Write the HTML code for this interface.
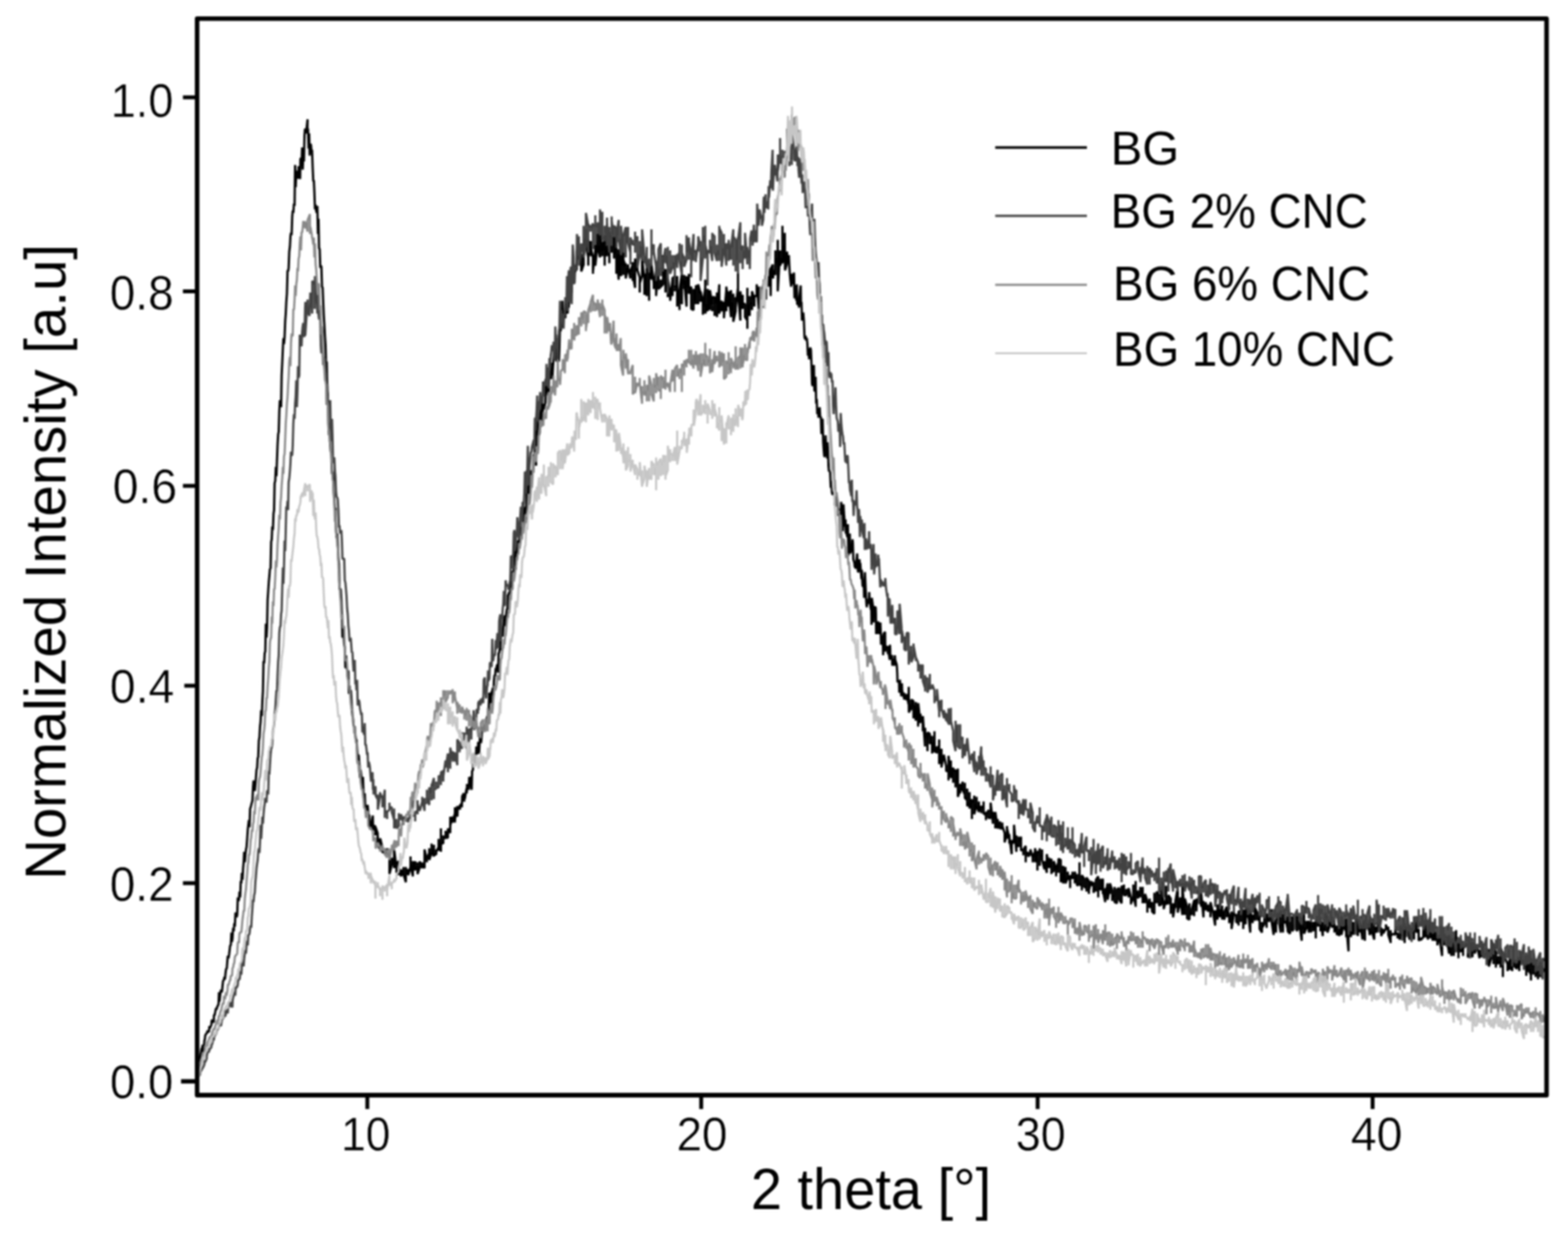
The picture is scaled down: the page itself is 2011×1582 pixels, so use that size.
<!DOCTYPE html>
<html lang="en"><head><meta charset="utf-8"><title>XRD – Normalized Intensity vs 2 theta</title>
<style>html,body{margin:0;padding:0;background:#fff}body{width:2011px;height:1582px;overflow:hidden}svg{display:block}text{font-family:"Liberation Sans",Arial,Helvetica,sans-serif}.c{fill:none;stroke-linejoin:bevel;stroke-linecap:butt}svg{filter:blur(0.8px)}</style></head><body>
<svg width="2011" height="1582" viewBox="0 0 2011 1582">
<rect width="2011" height="1582" fill="#fff"/>
<clipPath id="pa"><rect x="252.8" y="23.8" width="1730.7" height="1380.2"/></clipPath>
<g clip-path="url(#pa)">
<path class="c" stroke="#000000" stroke-width="2.9" d="M253.7 1368 L254.2 1357.5 L255.7 1360.5 L256.3 1356 L257 1353 L257.7 1350 L258.6 1344 L259.3 1344 L259.9 1339.5 L260.5 1348.5 L261.8 1338 L262.3 1333.5 L262.8 1332 L263.2 1327.5 L264.9 1324.5 L265.4 1324.5 L265.7 1324.5 L266 1321.5 L268.1 1323 L268.4 1317 L268.7 1315.5 L269 1318.5 L271.1 1314 L271.4 1309.5 L271.7 1308 L272 1308 L274.1 1311 L274.4 1302 L274.8 1300.5 L275.2 1302 L276.9 1293 L277.4 1293 L277.8 1294.5 L278.3 1291.5 L279.8 1288.5 L280.3 1287 L280.9 1272 L281.5 1284 L282.6 1273.5 L283.3 1269 L284 1272 L284.8 1270.5 L285.5 1263 L286.2 1257 L287 1257 L287.8 1252.5 L288.5 1255.5 L289.2 1248 L290 1242 L290.8 1242 L291.5 1233 L292.2 1225.5 L293 1228.5 L293.8 1224 L294.5 1218 L295.2 1212 L296 1212 L296.8 1195.5 L297.5 1207.5 L298.2 1203 L299 1189.5 L299.8 1194 L300.5 1183.5 L301.2 1188 L302 1170 L302.8 1171.5 L303.5 1176 L304.2 1173 L305 1150.5 L305.8 1155 L306.5 1153.5 L307.2 1143 L308 1150.5 L308.8 1129.5 L309.5 1132.5 L310.2 1119 L311 1128 L311.8 1113 L312.5 1105.5 L313.2 1092 L314 1105.5 L314.8 1095 L315.5 1089 L316.2 1086 L317 1075.5 L317.8 1063.5 L318.5 1057.5 L319.2 1051.5 L320 1060.5 L320.8 1036.5 L321.5 1035 L322.2 1032 L323 1029 L323.8 1026 L324.5 1009.5 L325.2 1000.5 L326 1009.5 L326.8 1014 L327.5 1006.5 L328.2 997.5 L329 987 L329.8 984 L330.5 972 L331.2 970.5 L332 949.5 L332.8 945 L333.5 931.5 L334.2 925.5 L335 910.5 L335.8 918 L336.5 898.5 L337.2 886.5 L338 847.5 L338.8 850.5 L339.5 837 L340.2 835.5 L341 799.5 L341.8 817.5 L342.5 804 L343.2 769.5 L344 757.5 L344.8 745.5 L345.5 738 L346.2 729 L347 729 L347.8 694.5 L348.5 691.5 L349.2 675 L350 679.5 L350.8 658.5 L351.5 654 L352.2 619.5 L353 616.5 L353.8 598.5 L354.5 610.5 L355.2 591 L356 570 L356.8 556.5 L357.5 553.5 L358.2 528 L359 513 L359.8 514.5 L360.5 522 L361.2 481.5 L362 465 L362.8 447 L363.5 433.5 L364.2 441 L365 432 L365.8 411 L366.5 402 L367.2 387 L368 376.5 L368.8 346.5 L369.5 348 L370.2 343.5 L371 322.5 L371.8 316.5 L372.5 303 L373.2 298.5 L374 301.5 L374.8 277.5 L375.5 270 L376.2 273 L377 261 L377.8 264 L378.5 211.5 L379.2 240 L380 219 L380.8 222 L381.7 228 L382.4 228 L382.7 226.5 L383 213 L384.9 229.5 L385.3 204 L386 202.5 L386.8 210 L387.5 189 L388.2 217.5 L389 198 L389.8 207 L390.5 174 L391.2 165 L392 166.5 L392.5 171 L394.5 153 L394.3 165 L395 165 L395.8 190.5 L396.5 171 L397.2 199.5 L398 184.5 L398.8 186 L399.5 193.5 L400.2 192 L401 214.5 L401.8 232.5 L402.5 231 L403.2 246 L404 268.5 L404.8 262.5 L405.5 270 L406.2 273 L407 264 L407.8 300 L408.5 280.5 L409.2 318 L410 319.5 L410.8 343.5 L411.5 340.5 L412.2 342 L413 367.5 L413.8 369 L414.5 387 L415.2 403.5 L416 417 L416.8 432 L417.5 442.5 L418.2 466.5 L419 463.5 L419.8 501 L420.5 505.5 L421.2 543 L422 558 L422.8 537 L423.5 570 L424.2 579 L425 580.5 L425.8 607.5 L426.5 607.5 L427.2 604.5 L428 630 L428.8 640.5 L429.5 654 L430.2 651 L431 679.5 L431.8 690 L432.5 684 L433.2 699 L434 715.5 L434.8 723 L435.5 756 L436.2 754.5 L437 756 L437.8 769.5 L438.5 787.5 L439.2 817.5 L440 805.5 L440.8 816 L441.5 826.5 L442.2 829.5 L443 856.5 L443.8 840 L444.5 856.5 L445.2 858 L446 868.5 L446.8 859.5 L447.5 889.5 L448.2 879 L449 886.5 L449.8 885 L450.5 892.5 L451.2 907.5 L452 916.5 L452.8 921 L453.5 930 L454.2 931.5 L455 931.5 L455.8 943.5 L456.5 948 L457.2 948 L458 960 L458.8 970.5 L459.5 967.5 L460.2 969 L461 982.5 L461.8 997.5 L462.5 987 L463.2 993 L464 999 L464.8 1012.5 L465.5 996 L466.2 1017 L467 1026 L467.8 1017 L468.5 1036.5 L469.2 1035 L470 1032 L470.8 1039.5 L471.5 1032 L472.3 1041 L472.9 1059 L473.4 1044 L474.9 1063.5 L475.4 1054.5 L475.8 1063.5 L476.1 1059 L478.1 1045.5 L478.4 1059 L478.6 1065 L478.8 1059 L481.3 1059 L481.5 1071 L481.6 1066.5 L481.7 1060.5 L484.3 1068 L484.5 1080 L484.6 1072.5 L484.8 1083 L487.3 1089 L487.4 1081.5 L487.6 1075.5 L487.8 1075.5 L490.3 1086 L490.4 1092 L490.6 1090.5 L490.7 1093.5 L493.3 1089 L493.5 1095 L493.5 1092 L493.5 1093.5 L496.5 1089 L496.5 1087.5 L496.5 1096.5 L496.5 1093.5 L499.5 1095 L499.5 1105.5 L499.5 1101 L499.5 1120.5 L502.5 1108.5 L502.5 1099.5 L502.5 1110 L502.5 1107 L505.5 1101 L505.5 1113 L505.5 1102.5 L505.5 1089 L508.5 1113 L508.5 1105.5 L508.5 1119 L508.5 1107 L511.5 1104 L511.5 1122 L511.5 1105.5 L511.5 1114.5 L514.5 1123.5 L514.5 1116 L514.5 1114.5 L514.5 1116 L517.5 1122 L517.5 1111.5 L517.5 1120.5 L520.5 1131 L520.5 1114.5 L520.5 1111.5 L520.5 1120.5 L523.5 1114.5 L523.5 1117.5 L523.5 1116 L523.5 1122 L526.5 1111.5 L526.5 1114.5 L526.5 1098 L526.5 1108.5 L529.5 1123.5 L529.5 1108.5 L529.5 1104 L532.5 1116 L532.5 1113 L532.5 1104 L532.5 1114.5 L535.5 1111.5 L535.5 1114.5 L535.5 1105.5 L535.5 1120.5 L538.5 1111.5 L538.5 1108.5 L538.5 1104 L538.5 1105.5 L541.5 1113 L541.5 1105.5 L541.5 1113 L541.5 1108.5 L544.5 1113 L544.5 1108.5 L544.5 1102.5 L544.5 1089 L547.5 1102.5 L547.5 1105.5 L547.5 1099.5 L547.5 1101 L550.5 1093.5 L550.5 1092 L550.5 1087.5 L550.5 1102.5 L553.5 1093.5 L553.5 1087.5 L553.5 1081.5 L553.5 1089 L556.5 1098 L556.5 1090.5 L556.5 1083 L556.5 1096.5 L559.5 1095 L559.5 1092 L559.5 1089 L559.5 1092 L562.5 1086 L562.5 1087.5 L562.5 1075.5 L562.5 1090.5 L565.5 1080 L565.5 1092 L565.5 1062 L565.5 1080 L568.5 1081.5 L568.5 1071 L568.5 1075.5 L571.5 1074 L571.5 1065 L571.5 1066.5 L571.6 1074 L574.4 1074 L574.5 1065 L574.5 1063.5 L574.6 1062 L577.4 1068 L577.5 1051.5 L577.5 1047 L577.6 1057.5 L580.5 1047 L580.5 1050 L580.5 1053 L580.5 1054.5 L583.5 1042.5 L583.5 1054.5 L583.5 1035 L583.6 1050 L586.4 1033.5 L586.5 1035 L586.6 1047 L586.9 1038 L589.1 1033.5 L589.4 1033.5 L589.8 1038 L590.3 1032 L591.8 1030.5 L592.3 1035 L592.8 1020 L593.2 1020 L595 1017 L595.4 1027.5 L595.7 1024.5 L596 1024.5 L598.1 1012.5 L598.4 1011 L598.7 1017 L599 1005 L601 1012.5 L601.4 1009.5 L601.8 996 L602.3 999 L603.8 996 L604.3 1008 L604.9 1012.5 L605.5 988.5 L606.6 987 L607.3 966 L608 982.5 L608.6 978 L609.6 967.5 L610.3 979.5 L610.9 957 L611.6 966 L612.6 966 L613.3 951 L613.9 966 L614.5 964.5 L615.7 942 L616.3 939 L616.9 952.5 L617.7 945 L618.5 931.5 L619.2 936 L620 934.5 L620.8 931.5 L621.5 936 L622.2 928.5 L623 936 L623.8 928.5 L624.5 919.5 L625.2 918 L626 916.5 L626.8 907.5 L627.5 888 L628.2 901.5 L629 892.5 L629.8 903 L630.5 886.5 L631.2 886.5 L632 882 L632.8 891 L633.5 873 L634.2 865.5 L635 867 L635.8 856.5 L636.5 858 L637.2 853.5 L638 852 L638.8 862.5 L639.5 837 L640.2 837 L641 831 L641.8 834 L642.5 813 L643.2 813 L644 814.5 L644.8 816 L645.5 805.5 L646.2 798 L647 789 L647.8 798 L648.5 802.5 L649.2 787.5 L650 781.5 L650.8 780 L651.5 762 L652.2 763.5 L653 759 L653.8 760.5 L654.5 753 L655.2 736.5 L656 754.5 L656.8 756 L657.5 732 L658.2 735 L659 729 L659.8 730.5 L660.5 703.5 L661.2 730.5 L662 705 L662.8 718.5 L663.5 703.5 L664.2 694.5 L665 693 L665.8 700.5 L666.5 679.5 L667.2 681 L668 676.5 L668.8 660 L669.5 687 L670.2 676.5 L671 666 L671.8 675 L672.5 649.5 L673.2 655.5 L674 670.5 L674.8 658.5 L675.5 621 L676.2 604.5 L677 625.5 L677.8 643.5 L678.5 622.5 L679.2 619.5 L680 624 L680.8 603 L681.5 610.5 L682.2 612 L683 603 L683.8 597 L684.5 582 L685.2 589.5 L686 574.5 L686.8 588 L687.5 597 L688.2 556.5 L689 535.5 L689.8 550.5 L690.5 555 L691.2 558 L692 555 L692.8 529.5 L693.5 525 L694.2 544.5 L695 514.5 L695.8 535.5 L696.5 517.5 L697.2 525 L698 520.5 L698.8 519 L699.5 516 L700.3 492 L700.9 504 L701.6 498 L702.6 499.5 L703.3 507 L704 486 L704.8 478.5 L705.5 475.5 L706.2 477 L707 486 L707.8 465 L708.5 484.5 L709.2 471 L710 460.5 L710.8 445.5 L711.5 460.5 L712.2 462 L713 429 L713.8 462 L714.5 463.5 L715.2 445.5 L716 444 L716.8 463.5 L717.5 445.5 L718.2 417 L719 424.5 L719.8 418.5 L720.5 415.5 L721.2 385.5 L722 420 L722.8 400.5 L723.5 406.5 L724.2 399 L725 408 L725.8 391.5 L726.5 382.5 L727.2 394.5 L728 402 L728.8 378 L729.5 394.5 L730.2 378 L731 366 L731.8 387 L732.5 355.5 L733.2 375 L734 352.5 L734.6 361.5 L735.7 339 L736.3 340.5 L736.8 363 L737.2 349.5 L739 345 L739.4 337.5 L739.7 346.5 L740 321 L742.2 322.5 L742.4 333 L742.6 324 L742.7 324 L745.4 330 L745.5 328.5 L745.5 325.5 L745.5 348 L748.5 339 L748.5 340.5 L748.5 324 L748.5 316.5 L751.5 304.5 L751.5 316.5 L751.5 294 L751.5 313.5 L754.5 330 L754.5 340.5 L754.5 331.5 L754.5 307.5 L757.5 325.5 L757.5 309 L757.5 328.5 L757.5 316.5 L760.5 330 L760.5 351 L760.5 330 L760.5 348 L763.5 321 L763.5 313.5 L763.5 336 L763.5 340.5 L766.5 310.5 L766.5 319.5 L766.5 300 L766.5 315 L769.5 330 L769.5 316.5 L769.5 310.5 L769.5 300 L772.5 322.5 L772.5 328.5 L772.5 325.5 L772.5 321 L775.5 301.5 L775.5 340.5 L775.5 318 L775.5 316.5 L778.5 328.5 L778.5 291 L778.5 318 L781.5 324 L781.5 337.5 L781.5 327 L781.5 297 L784.5 316.5 L784.5 324 L784.5 306 L787.5 303 L787.5 331.5 L787.5 330 L787.5 325.5 L790.5 304.5 L790.5 351 L790.5 292.5 L790.5 325.5 L793.5 358.5 L793.5 330 L793.5 337.5 L793.5 319.5 L796.5 354 L796.5 321 L796.5 342 L796.5 340.5 L799.5 327 L799.5 352.5 L799.5 324 L799.5 333 L802.5 342 L802.5 337.5 L802.5 349.5 L802.5 357 L805.5 342 L805.5 339 L805.5 342 L808.5 357 L808.5 345 L808.5 354 L808.5 348 L811.5 339 L811.5 360 L811.5 336 L811.5 351 L814.5 369 L814.5 337.5 L814.5 351 L814.5 331.5 L817.5 346.5 L817.5 333 L817.5 348 L817.5 346.5 L820.5 355.5 L820.5 375 L820.5 358.5 L820.5 363 L823.5 354 L823.5 352.5 L823.5 345 L823.5 333 L826.5 357 L826.5 378 L826.5 363 L826.5 351 L829.5 379.5 L829.5 352.5 L829.5 351 L829.5 343.5 L832.5 346.5 L832.5 357 L832.5 385.5 L832.5 357 L835.5 348 L835.5 352.5 L835.5 358.5 L835.5 339 L838.5 363 L838.5 370.5 L838.5 366 L838.5 370.5 L841.5 346.5 L841.5 340.5 L841.5 379.5 L841.5 378 L844.5 343.5 L844.5 366 L844.5 364.5 L844.5 370.5 L847.5 367.5 L847.5 358.5 L847.5 367.5 L850.5 364.5 L850.5 342 L850.5 327 L850.5 355.5 L853.5 345 L853.5 369 L853.5 375 L853.5 369 L856.5 361.5 L856.5 367.5 L856.5 381 L856.5 357 L859.5 378 L859.5 376.5 L859.5 370.5 L859.5 385.5 L862.5 358.5 L862.5 379.5 L862.5 355.5 L862.5 357 L865.5 354 L865.5 373.5 L865.5 355.5 L865.5 369 L868.5 354 L868.5 382.5 L868.5 393 L868.5 372 L871.5 390 L871.5 376.5 L871.5 397.5 L871.5 372 L874.5 351 L874.5 390 L874.5 370.5 L874.5 358.5 L877.5 364.5 L877.5 352.5 L877.5 370.5 L877.5 360 L880.5 393 L880.5 382.5 L880.5 354 L880.5 355.5 L883.5 369 L883.5 351 L883.5 375 L883.5 376.5 L886.5 367.5 L886.5 370.5 L886.5 384 L886.5 396 L889.5 397.5 L889.5 379.5 L889.5 390 L889.5 370.5 L892.5 385.5 L892.5 369 L892.5 390 L892.5 366 L895.5 369 L895.5 382.5 L895.5 390 L895.5 364.5 L898.5 376.5 L898.5 385.5 L898.5 387 L898.5 373.5 L901.5 387 L901.5 382.5 L901.5 403.5 L901.5 393 L904.5 369 L904.5 358.5 L904.5 388.5 L904.5 402 L907.5 390 L907.5 399 L907.5 382.5 L907.5 370.5 L910.5 397.5 L910.5 390 L910.5 397.5 L910.5 372 L913.5 391.5 L913.5 381 L913.5 399 L913.5 381 L916.5 381 L916.5 405 L916.5 388.5 L919.5 379.5 L919.5 375 L919.5 406.5 L922.5 364.5 L922.5 376.5 L922.5 396 L922.5 402 L925.5 385.5 L925.5 397.5 L925.5 399 L928.5 387 L928.5 408 L928.5 390 L928.5 406.5 L931.5 372 L931.5 399 L931.5 370.5 L931.5 367.5 L934.5 393 L934.5 376.5 L934.5 391.5 L934.5 373.5 L937.5 406.5 L937.5 387 L937.5 372 L937.5 388.5 L940.5 397.5 L940.5 376.5 L940.5 393 L940.5 412.5 L943.5 399 L943.5 387 L943.5 381 L943.5 394.5 L946.5 369 L946.5 349.5 L946.5 379.5 L946.5 375 L949.5 411 L949.5 390 L949.5 376.5 L949.5 373.5 L952.5 396 L952.5 378 L952.5 382.5 L952.5 388.5 L955.5 390 L955.5 391.5 L955.5 406.5 L958.5 411 L958.5 369 L958.5 421.5 L958.5 390 L961.5 405 L961.5 379.5 L961.5 391.5 L961.5 390 L964.5 388.5 L964.5 397.5 L964.5 394.5 L964.5 373.5 L967.5 384 L967.5 393 L967.5 379.5 L970.5 379.5 L970.5 367.5 L970.5 364.5 L973.5 400.5 L973.5 373.5 L973.5 379.5 L973.5 367.5 L976.5 393 L976.5 397.5 L976.5 372 L976.5 381 L979.5 363 L979.5 394.5 L979.5 382.5 L979.5 358.5 L982.5 384 L982.5 372 L982.6 370.5 L982.7 369 L985.2 354 L985.4 354 L985.7 367.5 L986 357 L988.1 343.5 L988.4 379.5 L988.7 349.5 L989 343.5 L991.1 339 L991.4 355.5 L991.6 357 L991.7 346.5 L994.4 352.5 L994.5 321 L994.5 334.5 L994.6 331.5 L997.4 336 L997.5 342 L997.5 307.5 L997.5 373.5 L1000.5 321 L1000.5 336 L1000.5 340.5 L1003.5 331.5 L1003.5 289.5 L1003.5 313.5 L1003.5 337.5 L1006.5 315 L1006.5 298.5 L1006.8 346.5 L1009.1 339 L1009.4 322.5 L1009.8 334.5 L1010.4 337.5 L1011.7 327 L1012.3 340.5 L1012.9 349.5 L1013.5 357 L1014.7 367.5 L1015.3 354 L1015.9 351 L1016.6 364.5 L1017.6 354 L1018.3 349.5 L1019 382.5 L1019.6 366 L1020.6 375 L1021.3 385.5 L1021.9 364.5 L1022.4 390 L1023.8 390 L1024.3 385.5 L1024.8 394.5 L1025.2 381 L1026.9 366 L1027.3 391.5 L1027.9 387 L1028.6 411 L1029.5 406.5 L1030.2 400.5 L1031 411 L1031.8 432 L1032.5 435 L1033.2 430.5 L1034 436.5 L1034.8 433.5 L1035.5 441 L1036.2 456 L1037 451.5 L1037.8 460.5 L1038.5 448.5 L1039.2 445.5 L1040 448.5 L1040.8 468 L1041.5 492 L1042.2 495 L1043 471 L1043.8 468 L1044.5 501 L1045.2 501 L1046 483 L1046.8 517.5 L1047.5 511.5 L1048.2 531 L1049 523.5 L1049.8 535.5 L1050.5 532.5 L1051.2 522 L1052 535.5 L1052.8 534 L1053.5 556.5 L1054.2 538.5 L1055 537 L1055.8 567 L1056.5 577.5 L1057.2 585 L1058 585 L1058.8 558 L1059.5 571.5 L1060.2 577.5 L1061 588 L1061.8 567 L1062.5 597 L1063.2 604.5 L1064 594 L1064.8 609 L1065.5 625.5 L1066.2 616.5 L1067 631.5 L1067.8 634.5 L1068.5 630 L1069.3 633 L1070 627 L1070.6 648 L1071.7 631.5 L1072.3 631.5 L1072.9 649.5 L1073.4 636 L1074.8 651 L1075.3 661.5 L1075.8 652.5 L1076.3 655.5 L1077.9 666 L1078.3 667.5 L1078.8 643.5 L1079.3 648 L1080.9 681 L1081.3 672 L1081.8 646.5 L1082.3 657 L1083.9 675 L1084.4 666 L1084.8 684 L1085.2 682.5 L1086.9 688.5 L1087.4 672 L1087.8 694.5 L1088.2 712.5 L1089.9 684 L1090.3 709.5 L1090.8 708 L1091.3 706.5 L1092.9 700.5 L1093.3 691.5 L1093.8 696 L1094.4 717 L1095.8 721.5 L1096.3 727.5 L1096.9 726 L1097.4 729 L1098.8 715.5 L1099.3 709.5 L1099.9 727.5 L1100.4 733.5 L1101.8 732 L1102.3 717 L1102.8 730.5 L1103.3 721.5 L1104.8 742.5 L1105.3 730.5 L1105.8 742.5 L1106.3 751.5 L1107.9 751.5 L1108.3 766.5 L1108.8 742.5 L1109.3 733.5 L1110.9 769.5 L1111.3 775.5 L1111.8 778.5 L1112.2 768 L1113.9 774 L1114.4 771 L1114.8 759 L1115.2 768 L1117 781.5 L1117.4 772.5 L1117.8 801 L1118.1 766.5 L1120 780 L1120.4 798 L1120.7 783 L1121.1 778.5 L1123.1 778.5 L1123.4 787.5 L1123.7 813 L1124 802.5 L1126.1 805.5 L1126.4 796.5 L1126.7 813 L1127 807 L1129.1 798 L1129.4 805.5 L1129.7 814.5 L1130 826.5 L1132.1 814.5 L1132.4 823.5 L1132.7 840 L1133 813 L1135.1 810 L1135.4 835.5 L1135.7 831 L1135.9 828 L1138.2 832.5 L1138.4 828 L1138.7 838.5 L1138.9 832.5 L1141.2 846 L1141.4 826.5 L1141.7 832.5 L1141.9 844.5 L1144.1 840 L1144.4 853.5 L1144.7 847.5 L1145 844.5 L1147.1 853.5 L1147.4 849 L1147.7 840 L1148.1 846 L1150 852 L1150.4 856.5 L1150.8 864 L1151.1 874.5 L1153 873 L1153.4 888 L1153.8 885 L1154.1 871.5 L1156 892.5 L1156.4 889.5 L1156.7 876 L1157 885 L1159.1 894 L1159.4 888 L1159.6 897 L1159.8 892.5 L1162.3 897 L1162.4 889.5 L1162.6 897 L1162.7 891 L1165.3 903 L1165.5 880.5 L1165.6 903 L1165.7 913.5 L1168.4 907.5 L1168.5 903 L1168.6 910.5 L1168.6 897 L1171.4 898.5 L1171.5 904.5 L1171.6 909 L1171.6 921 L1174.4 904.5 L1174.5 924 L1174.6 900 L1174.7 909 L1177.4 918 L1177.5 931.5 L1177.6 915 L1177.6 901.5 L1180.4 927 L1180.5 924 L1180.6 915 L1180.6 918 L1183.4 922.5 L1183.5 931.5 L1183.6 937.5 L1183.6 918 L1186.4 957 L1186.5 934.5 L1186.5 933 L1186.6 945 L1189.4 940.5 L1189.5 963 L1189.5 952.5 L1189.6 939 L1192.4 940.5 L1192.5 940.5 L1192.5 943.5 L1192.6 954 L1195.4 943.5 L1195.5 966 L1195.5 951 L1195.6 952.5 L1198.4 963 L1198.5 937.5 L1198.5 948 L1198.6 964.5 L1201.5 960 L1201.5 966 L1201.5 957 L1204.5 963 L1204.5 952.5 L1204.5 948 L1204.5 979.5 L1207.5 960 L1207.5 963 L1207.5 984 L1207.5 982.5 L1210.5 969 L1210.5 975 L1210.5 967.5 L1213.5 982.5 L1213.5 981 L1213.5 988.5 L1216.5 988.5 L1216.5 1000.5 L1216.5 999 L1216.5 969 L1219.5 994.5 L1219.5 978 L1219.5 975 L1219.5 997.5 L1222.5 984 L1222.5 990 L1222.5 1003.5 L1222.5 988.5 L1225.5 987 L1225.5 999 L1225.5 1009.5 L1225.5 1003.5 L1228.5 985.5 L1228.5 994.5 L1228.5 1000.5 L1228.5 1021.5 L1231.5 1012.5 L1231.5 1014 L1231.5 1017 L1231.5 1005 L1234.5 1012.5 L1234.5 1014 L1234.5 1002 L1234.5 1012.5 L1237.5 1018.5 L1237.5 1003.5 L1237.5 1023 L1240.5 1026 L1240.5 1011 L1240.5 1020 L1240.5 1033.5 L1243.5 1029 L1243.5 1015.5 L1243.5 1024.5 L1243.5 1036.5 L1246.5 1024.5 L1246.5 1029 L1246.5 1050 L1246.5 1027.5 L1249.5 1027.5 L1249.5 1020 L1249.5 1023 L1249.5 1044 L1252.5 1030.5 L1252.5 1021.5 L1252.5 1024.5 L1252.5 1033.5 L1255.5 1041 L1255.5 1027.5 L1255.5 1041 L1255.5 1032 L1258.5 1039.5 L1258.5 1041 L1258.5 1042.5 L1258.5 1033.5 L1261.5 1036.5 L1261.5 1044 L1261.5 1027.5 L1261.5 1042.5 L1264.5 1045.5 L1264.5 1051.5 L1264.5 1042.5 L1264.5 1041 L1267.5 1044 L1267.5 1038 L1267.5 1042.5 L1267.5 1048.5 L1270.5 1048.5 L1270.5 1036.5 L1270.5 1044 L1270.5 1029 L1273.5 1056 L1273.5 1044 L1273.5 1051.5 L1273.5 1041 L1276.5 1050 L1276.5 1056 L1276.5 1062 L1276.5 1041 L1279.5 1062 L1279.5 1054.5 L1279.5 1050 L1279.5 1062 L1282.5 1056 L1282.5 1053 L1282.5 1062 L1285.5 1062 L1285.5 1060.5 L1285.5 1054.5 L1285.5 1059 L1288.5 1068 L1288.5 1077 L1288.5 1066.5 L1288.5 1080 L1291.5 1068 L1291.5 1059 L1291.5 1075.5 L1291.5 1062 L1294.5 1074 L1294.5 1081.5 L1294.5 1069.5 L1294.5 1072.5 L1297.5 1095 L1297.5 1077 L1297.5 1083 L1300.5 1075.5 L1300.5 1077 L1300.5 1081.5 L1300.5 1057.5 L1303.5 1092 L1303.5 1071 L1303.5 1086 L1306.5 1083 L1306.5 1072.5 L1306.5 1086 L1306.5 1074 L1309.5 1078.5 L1309.5 1072.5 L1309.5 1080 L1309.5 1090.5 L1312.5 1089 L1312.5 1090.5 L1312.5 1096.5 L1312.5 1089 L1315.5 1084.5 L1315.5 1089 L1315.5 1105.5 L1315.5 1092 L1318.5 1095 L1318.5 1092 L1318.5 1096.5 L1318.5 1098 L1321.5 1095 L1321.5 1093.5 L1321.5 1089 L1324.5 1099.5 L1324.5 1104 L1324.5 1105.5 L1324.5 1098 L1327.5 1092 L1327.5 1104 L1327.5 1105.5 L1327.5 1087.5 L1330.5 1107 L1330.5 1105.5 L1330.5 1116 L1330.5 1092 L1333.5 1092 L1333.5 1110 L1333.5 1087.5 L1333.5 1098 L1336.5 1095 L1336.5 1096.5 L1336.5 1089 L1336.5 1102.5 L1339.5 1114.5 L1339.5 1110 L1339.5 1104 L1342.5 1119 L1342.5 1111.5 L1342.5 1117.5 L1342.5 1095 L1345.5 1111.5 L1345.5 1099.5 L1345.5 1113 L1345.5 1111.5 L1348.5 1101 L1348.5 1113 L1348.5 1120.5 L1348.5 1116 L1351.5 1117.5 L1351.5 1105.5 L1351.5 1107 L1351.5 1104 L1354.5 1114.5 L1354.5 1123.5 L1354.5 1117.5 L1354.5 1114.5 L1357.5 1105.5 L1357.5 1119 L1357.5 1114.5 L1357.5 1101 L1360.5 1102.5 L1360.5 1114.5 L1360.5 1110 L1360.5 1131 L1363.5 1119 L1363.5 1110 L1363.5 1114.5 L1363.5 1132.5 L1366.5 1111.5 L1366.5 1126.5 L1366.5 1123.5 L1366.5 1132.5 L1369.5 1125 L1369.5 1117.5 L1369.5 1126.5 L1369.5 1122 L1372.5 1129.5 L1372.5 1122 L1372.5 1138.5 L1372.5 1122 L1375.5 1126.5 L1375.5 1117.5 L1375.5 1125 L1378.5 1126.5 L1378.5 1132.5 L1378.5 1120.5 L1378.5 1117.5 L1381.5 1135.5 L1381.5 1123.5 L1381.5 1120.5 L1381.5 1135.5 L1384.5 1132.5 L1384.5 1105.5 L1384.5 1123.5 L1384.5 1134 L1387.5 1135.5 L1387.5 1123.5 L1387.5 1141.5 L1387.5 1122 L1390.5 1126.5 L1390.5 1131 L1390.5 1129.5 L1390.5 1137 L1393.5 1138.5 L1393.5 1131 L1393.5 1143 L1393.5 1125 L1396.5 1129.5 L1396.5 1146 L1396.5 1132.5 L1396.5 1141.5 L1399.5 1129.5 L1399.5 1131 L1399.5 1132.5 L1399.5 1135.5 L1402.5 1131 L1402.5 1134 L1402.5 1140 L1402.5 1144.5 L1405.5 1137 L1405.5 1141.5 L1405.5 1143 L1405.5 1128 L1408.5 1123.5 L1408.5 1150.5 L1408.5 1147.5 L1408.5 1138.5 L1411.5 1140 L1411.5 1131 L1411.5 1126.5 L1411.5 1141.5 L1414.5 1126.5 L1414.5 1146 L1414.5 1134 L1414.5 1141.5 L1417.5 1156.5 L1417.5 1155 L1417.5 1138.5 L1417.5 1149 L1420.5 1132.5 L1420.5 1135.5 L1420.5 1144.5 L1420.5 1153.5 L1423.5 1137 L1423.5 1146 L1423.5 1143 L1423.5 1132.5 L1426.5 1141.5 L1426.5 1155 L1426.5 1143 L1426.5 1147.5 L1429.5 1150.5 L1429.5 1137 L1429.5 1153.5 L1429.5 1156.5 L1432.5 1158 L1432.5 1155 L1432.5 1141.5 L1432.5 1140 L1435.5 1138.5 L1435.5 1153.5 L1438.5 1158 L1438.5 1140 L1438.5 1153.5 L1438.5 1135.5 L1441.5 1144.5 L1441.5 1138.5 L1441.5 1134 L1441.5 1147.5 L1444.5 1147.5 L1444.5 1144.5 L1444.5 1143 L1444.5 1140 L1447.5 1146 L1447.5 1143 L1447.5 1150.5 L1447.5 1138.5 L1450.5 1150.5 L1450.5 1152 L1450.5 1159.5 L1450.5 1158 L1453.5 1150.5 L1453.5 1143 L1453.5 1134 L1453.5 1149 L1456.5 1161 L1456.5 1162.5 L1456.5 1129.5 L1456.5 1143 L1459.5 1147.5 L1459.5 1141.5 L1459.5 1152 L1459.5 1150.5 L1462.5 1146 L1462.5 1150.5 L1462.5 1137 L1462.5 1143 L1465.5 1143 L1465.5 1158 L1465.5 1137 L1465.5 1149 L1468.5 1156.5 L1468.5 1150.5 L1468.5 1158 L1468.5 1146 L1471.5 1155 L1471.5 1158 L1471.5 1170 L1471.5 1156.5 L1474.5 1162.5 L1474.5 1152 L1474.5 1164 L1477.5 1156.5 L1477.5 1164 L1477.5 1158 L1477.5 1168.5 L1480.5 1171.5 L1480.5 1144.5 L1480.5 1167 L1480.5 1156.5 L1483.5 1156.5 L1483.5 1152 L1483.5 1158 L1483.5 1143 L1486.5 1147.5 L1486.5 1146 L1486.5 1155 L1486.5 1161 L1489.5 1159.5 L1489.5 1156.5 L1489.5 1149 L1489.5 1140 L1492.5 1158 L1492.5 1155 L1492.5 1156.5 L1492.5 1165.5 L1495.5 1153.5 L1495.5 1135.5 L1495.5 1159.5 L1498.5 1155 L1498.5 1149 L1498.5 1159.5 L1498.5 1147.5 L1501.5 1152 L1501.5 1171.5 L1501.5 1162.5 L1501.5 1164 L1504.5 1162.5 L1504.5 1158 L1504.5 1176 L1507.5 1156.5 L1507.5 1164 L1507.5 1156.5 L1507.5 1155 L1510.5 1138.5 L1510.5 1143 L1510.5 1170 L1513.5 1155 L1513.5 1158 L1513.5 1164 L1513.5 1150.5 L1516.5 1173 L1516.5 1150.5 L1516.5 1153.5 L1516.5 1137 L1519.5 1171.5 L1519.5 1161 L1519.5 1173 L1519.5 1152 L1522.5 1162.5 L1522.5 1161 L1522.5 1162.5 L1522.5 1177.5 L1525.5 1179 L1525.5 1171.5 L1525.5 1158 L1525.5 1168.5 L1528.5 1173 L1528.5 1165.5 L1528.5 1167 L1528.5 1165.5 L1531.5 1155 L1531.5 1164 L1531.5 1174.5 L1531.5 1153.5 L1534.5 1162.5 L1534.5 1168.5 L1534.5 1152 L1534.5 1161 L1537.5 1149 L1537.5 1158 L1537.5 1152 L1537.5 1156.5 L1540.5 1159.5 L1540.5 1161 L1540.5 1162.5 L1540.5 1144.5 L1543.5 1176 L1543.5 1161 L1543.5 1155 L1543.5 1159.5 L1546.5 1167 L1546.5 1156.5 L1546.5 1161 L1549.5 1168.5 L1549.5 1159.5 L1549.5 1168.5 L1552.5 1164 L1552.5 1176 L1552.5 1165.5 L1552.5 1156.5 L1555.5 1168.5 L1555.5 1167 L1555.5 1168.5 L1558.5 1186.5 L1558.5 1170 L1558.5 1171.5 L1558.5 1167 L1561.5 1179 L1561.5 1168.5 L1561.5 1162.5 L1561.5 1159.5 L1564.5 1174.5 L1564.5 1176 L1564.5 1158 L1564.5 1165.5 L1567.5 1176 L1567.5 1179 L1567.5 1161 L1567.5 1168.5 L1570.5 1179 L1570.5 1168.5 L1573.5 1162.5 L1573.5 1173 L1573.5 1176 L1573.5 1162.5 L1576.5 1174.5 L1576.5 1183.5 L1576.5 1176 L1576.5 1182 L1579.5 1170 L1579.5 1186.5 L1579.5 1168.5 L1579.5 1191 L1582.5 1171.5 L1582.5 1170 L1582.5 1168.5 L1582.5 1173 L1585.5 1173 L1585.5 1171.5 L1585.5 1174.5 L1585.5 1182 L1588.5 1183.5 L1588.5 1174.5 L1588.5 1186.5 L1588.5 1168.5 L1591.5 1168.5 L1591.5 1182 L1591.5 1165.5 L1594.5 1167 L1594.5 1188 L1594.5 1191 L1594.5 1188 L1597.5 1165.5 L1597.5 1177.5 L1597.5 1185 L1597.5 1179 L1600.5 1165.5 L1600.5 1176 L1600.5 1164 L1600.5 1168.5 L1603.5 1195.5 L1603.5 1183.5 L1603.5 1167 L1606.5 1182 L1606.5 1173 L1606.5 1183.5 L1606.5 1173 L1609.5 1177.5 L1609.5 1180.5 L1609.5 1170 L1609.5 1164 L1612.5 1170 L1612.5 1173 L1612.5 1177.5 L1612.5 1179 L1615.5 1179 L1615.5 1183.5 L1615.5 1173 L1615.5 1191 L1618.5 1195.5 L1618.5 1182 L1618.5 1189.5 L1621.5 1185 L1621.5 1182 L1621.5 1179 L1621.5 1174.5 L1624.5 1171.5 L1624.5 1185 L1624.5 1189.5 L1624.5 1171.5 L1627.5 1180.5 L1627.5 1182 L1627.5 1177.5 L1627.5 1174.5 L1630.5 1177.5 L1630.5 1165.5 L1630.5 1180.5 L1630.5 1179 L1633.5 1198.5 L1633.5 1188 L1633.5 1179 L1633.5 1182 L1636.5 1195.5 L1636.5 1194 L1636.5 1183.5 L1636.5 1180.5 L1639.5 1170 L1639.5 1179 L1639.5 1180.5 L1639.5 1176 L1642.5 1195.5 L1642.5 1167 L1642.5 1180.5 L1642.5 1185 L1645.5 1186.5 L1645.5 1195.5 L1645.5 1171.5 L1645.5 1176 L1648.5 1183.5 L1648.5 1180.5 L1648.5 1177.5 L1651.5 1191 L1651.5 1174.5 L1651.5 1179 L1651.5 1194 L1654.5 1197 L1654.5 1191 L1654.5 1176 L1657.5 1176 L1657.5 1174.5 L1657.5 1180.5 L1657.5 1194 L1660.5 1185 L1660.5 1177.5 L1660.5 1174.5 L1663.5 1194 L1663.5 1168.5 L1663.5 1186.5 L1663.5 1173 L1666.5 1176 L1666.5 1173 L1666.5 1192.5 L1666.5 1183.5 L1669.5 1206 L1669.5 1176 L1669.5 1189.5 L1672.5 1189.5 L1672.5 1183.5 L1672.5 1168.5 L1672.5 1197 L1675.5 1189.5 L1675.5 1188 L1675.5 1180.5 L1675.5 1191 L1678.5 1180.5 L1678.5 1186.5 L1678.5 1183.5 L1678.5 1195.5 L1681.5 1182 L1681.5 1183.5 L1681.5 1195.5 L1681.5 1188 L1684.5 1186.5 L1684.5 1185 L1684.5 1194 L1684.5 1182 L1687.5 1191 L1687.5 1203 L1687.5 1189.5 L1687.5 1180.5 L1690.5 1177.5 L1690.5 1188 L1690.5 1177.5 L1690.5 1174.5 L1693.5 1180.5 L1693.5 1179 L1693.5 1194 L1693.5 1176 L1696.5 1200 L1696.5 1182 L1696.5 1188 L1696.5 1192.5 L1699.5 1189.5 L1699.5 1194 L1699.5 1180.5 L1699.5 1170 L1702.5 1186.5 L1702.5 1174.5 L1702.5 1183.5 L1702.5 1195.5 L1705.5 1186.5 L1705.5 1183.5 L1705.5 1179 L1705.5 1185 L1708.5 1186.5 L1708.5 1174.5 L1708.5 1189.5 L1708.5 1179 L1711.5 1189.5 L1711.5 1183.5 L1711.5 1195.5 L1711.5 1194 L1714.5 1188 L1714.5 1186.5 L1714.5 1191 L1714.5 1198.5 L1717.5 1195.5 L1717.5 1189.5 L1717.5 1200 L1720.5 1174.5 L1720.5 1192.5 L1720.5 1180.5 L1720.5 1198.5 L1723.5 1183.5 L1723.5 1186.5 L1723.5 1179 L1723.5 1188 L1726.5 1194 L1726.5 1201.5 L1726.5 1177.5 L1726.5 1185 L1729.5 1219.5 L1729.5 1195.5 L1729.5 1188 L1729.5 1192.5 L1732.5 1167 L1732.5 1201.5 L1732.5 1189.5 L1732.5 1177.5 L1735.5 1198.5 L1735.5 1185 L1735.5 1182 L1735.5 1194 L1738.5 1192.5 L1738.5 1186.5 L1738.5 1189.5 L1738.5 1179 L1741.5 1179 L1741.5 1197 L1741.5 1200 L1741.5 1194 L1744.5 1194 L1744.5 1186.5 L1744.5 1189.5 L1744.5 1183.5 L1747.5 1204.5 L1747.5 1186.5 L1747.5 1194 L1747.5 1191 L1750.5 1179 L1750.5 1206 L1750.5 1188 L1750.5 1185 L1753.5 1191 L1753.5 1183.5 L1753.5 1191 L1753.5 1183.5 L1756.5 1195.5 L1756.5 1191 L1756.5 1179 L1756.5 1198.5 L1759.5 1192.5 L1759.5 1182 L1759.5 1194 L1762.5 1204.5 L1762.5 1183.5 L1762.5 1197 L1762.5 1189.5 L1765.5 1195.5 L1765.5 1188 L1765.5 1189.5 L1765.5 1194 L1768.5 1180.5 L1768.5 1174.5 L1768.5 1191 L1768.5 1186.5 L1771.5 1191 L1771.5 1195.5 L1771.5 1189.5 L1771.5 1200 L1774.5 1191 L1774.5 1197 L1774.5 1195.5 L1777.5 1191 L1777.5 1192.5 L1777.5 1185 L1777.5 1186.5 L1780.5 1192.5 L1780.5 1198.5 L1780.5 1188 L1780.5 1198.5 L1783.5 1207.5 L1783.5 1209 L1783.5 1192.5 L1783.5 1200 L1786.5 1197 L1786.5 1198.5 L1786.5 1197 L1789.5 1198.5 L1789.5 1194 L1789.5 1191 L1789.5 1195.5 L1792.5 1197 L1792.5 1203 L1792.5 1195.5 L1792.5 1198.5 L1795.5 1204.5 L1795.5 1186.5 L1795.5 1191 L1795.5 1198.5 L1798.5 1194 L1798.5 1186.5 L1798.5 1201.5 L1798.5 1194 L1801.5 1186.5 L1801.5 1209 L1801.5 1183.5 L1801.5 1194 L1804.5 1189.5 L1804.5 1195.5 L1804.5 1198.5 L1804.5 1188 L1807.5 1194 L1807.5 1186.5 L1807.5 1204.5 L1810.5 1195.5 L1810.5 1192.5 L1810.5 1189.5 L1810.5 1192.5 L1813.5 1195.5 L1813.5 1191 L1813.5 1204.5 L1813.5 1176 L1816.5 1179 L1816.5 1194 L1816.5 1180.5 L1816.5 1195.5 L1819.5 1191 L1819.5 1200 L1819.5 1206 L1822.5 1203 L1822.5 1206 L1822.5 1201.5 L1822.5 1204.5 L1825.5 1201.5 L1825.5 1192.5 L1825.5 1188 L1828.5 1201.5 L1828.5 1179 L1828.5 1200 L1828.5 1192.5 L1831.5 1204.5 L1831.5 1200 L1831.5 1192.5 L1831.5 1198.5 L1834.5 1180.5 L1834.5 1201.5 L1834.5 1203 L1834.5 1185 L1837.5 1206 L1837.5 1198.5 L1837.5 1201.5 L1837.5 1189.5 L1840.5 1206 L1840.5 1201.5 L1840.5 1194 L1843.5 1207.5 L1843.5 1212 L1843.5 1206 L1843.5 1210.5 L1846.5 1198.5 L1846.5 1204.5 L1846.5 1206 L1846.5 1204.5 L1849.5 1225.5 L1849.5 1207.5 L1849.5 1200 L1849.5 1212 L1852.5 1197 L1852.5 1209 L1852.5 1212 L1852.5 1203 L1855.5 1204.5 L1855.5 1200 L1855.5 1209 L1855.5 1203 L1858.5 1222.5 L1858.5 1213.5 L1858.5 1207.5 L1858.5 1198.5 L1861.5 1225.5 L1861.5 1219.5 L1861.5 1213.5 L1861.5 1212 L1864.5 1212 L1864.5 1207.5 L1864.5 1225.5 L1864.5 1213.5 L1867.5 1200 L1867.5 1206 L1867.5 1192.5 L1867.5 1218 L1870.5 1218 L1870.5 1227 L1870.5 1228.5 L1870.5 1207.5 L1873.5 1216.5 L1873.5 1221 L1873.5 1219.5 L1873.5 1210.5 L1876.5 1221 L1876.5 1218 L1876.5 1225.5 L1876.5 1215 L1879.5 1213.5 L1879.5 1210.5 L1879.5 1212 L1879.5 1209 L1882.5 1213.5 L1882.5 1219.5 L1882.5 1227 L1885.5 1225.5 L1885.5 1221 L1885.5 1207.5 L1885.5 1221 L1888.5 1227 L1888.5 1207.5 L1888.5 1209 L1888.5 1210.5 L1891.5 1210.5 L1891.5 1216.5 L1891.5 1212 L1891.5 1222.5 L1894.5 1210.5 L1894.5 1218 L1894.5 1215 L1894.5 1212 L1897.5 1228.5 L1897.5 1221 L1897.5 1224 L1897.5 1218 L1900.5 1227 L1900.5 1225.5 L1900.5 1219.5 L1900.5 1207.5 L1903.5 1228.5 L1903.5 1227 L1903.5 1224 L1906.5 1224 L1906.5 1215 L1906.5 1222.5 L1909.5 1225.5 L1909.5 1219.5 L1909.5 1216.5 L1909.5 1239 L1912.5 1228.5 L1912.5 1222.5 L1912.5 1221 L1912.5 1204.5 L1915.5 1215 L1915.5 1224 L1915.5 1236 L1915.5 1210.5 L1918.5 1221 L1918.5 1240.5 L1918.5 1231.5 L1918.5 1230 L1921.5 1236 L1921.5 1227 L1921.5 1225.5 L1921.5 1233 L1924.5 1234.5 L1924.5 1219.5 L1924.5 1240.5 L1924.5 1215 L1927.5 1224 L1927.5 1252.5 L1927.5 1225.5 L1927.5 1234.5 L1930.5 1222.5 L1930.5 1228.5 L1930.5 1225.5 L1930.5 1228.5 L1933.5 1236 L1933.5 1245 L1933.5 1239 L1933.5 1243.5 L1936.5 1228.5 L1936.5 1243.5 L1936.5 1237.5 L1936.5 1243.5 L1939.5 1230 L1939.5 1231.5 L1939.5 1245 L1939.5 1239 L1942.5 1236 L1942.5 1230 L1942.5 1234.5 L1942.5 1239 L1945.5 1242 L1945.5 1231.5 L1945.5 1234.5 L1945.5 1240.5 L1948.5 1228.5 L1948.5 1245 L1948.5 1237.5 L1951.5 1219.5 L1951.5 1227 L1951.5 1231.5 L1951.5 1234.5 L1954.5 1231.5 L1954.5 1242 L1954.5 1240.5 L1954.5 1237.5 L1957.5 1224 L1957.5 1251 L1957.5 1239 L1957.5 1245 L1960.5 1236 L1960.5 1240.5 L1960.5 1246.5 L1960.5 1243.5 L1963.5 1249.5 L1963.5 1240.5 L1963.5 1257 L1963.5 1228.5 L1966.5 1239 L1966.5 1249.5 L1966.5 1240.5 L1969.5 1230 L1969.5 1252.5 L1969.5 1230 L1969.5 1248 L1972.5 1245 L1972.5 1251 L1972.5 1255.5 L1972.5 1239 L1975.5 1239 L1975.5 1243.5 L1975.5 1233 L1975.5 1252.5 L1978.5 1243.5 L1978.5 1248 L1978.5 1239 L1978.5 1246.5 L1981.5 1242"/>
<path class="c" stroke="#424242" stroke-width="2.8" d="M253.5 1380 L253.6 1378.5 L256.3 1378.5 L256.4 1378.5 L256.7 1377 L257 1374 L259.1 1371 L259.4 1368 L259.7 1369.5 L260 1369.5 L262.1 1365 L262.4 1360.5 L262.7 1359 L263 1362 L265.1 1357.5 L265.4 1351.5 L265.7 1353 L266 1348.5 L268.1 1348.5 L268.4 1347 L268.7 1344 L268.9 1345.5 L271.1 1342.5 L271.4 1339.5 L271.7 1339.5 L271.9 1339.5 L274.2 1330.5 L274.4 1333.5 L274.7 1329 L274.9 1329 L277.2 1324.5 L277.4 1326 L277.7 1324.5 L277.9 1321.5 L280.2 1318.5 L280.4 1318.5 L280.7 1314 L280.9 1311 L283.2 1315.5 L283.4 1309.5 L283.6 1315.5 L283.8 1312.5 L286.2 1300.5 L286.4 1306.5 L286.6 1300.5 L286.8 1303.5 L289.3 1302 L289.4 1293 L289.6 1297.5 L289.8 1296 L292.2 1299 L292.4 1288.5 L292.6 1294.5 L292.9 1285.5 L295.2 1287 L295.4 1284 L295.7 1291.5 L295.9 1285.5 L298.1 1291.5 L298.4 1282.5 L298.7 1281 L299 1279.5 L301 1272 L301.4 1272 L301.8 1276.5 L302.2 1266 L303.9 1266 L304.3 1263 L304.8 1264.5 L305.4 1257 L306.8 1255.5 L307.3 1255.5 L307.9 1251 L308.6 1245 L309.6 1249.5 L310.3 1236 L311 1234.5 L311.8 1230 L312.5 1239 L313.2 1228.5 L314 1222.5 L314.8 1218 L315.5 1222.5 L316.2 1212 L317 1206 L317.8 1212 L318.5 1198.5 L319.2 1198.5 L320 1197 L320.8 1189.5 L321.5 1186.5 L322.2 1189.5 L323 1174.5 L323.8 1164 L324.5 1153.5 L325.2 1156.5 L326 1147.5 L326.8 1144.5 L327.5 1131 L328.2 1123.5 L329 1113 L329.8 1107 L330.5 1102.5 L331.2 1092 L332 1087.5 L332.8 1093.5 L333.5 1078.5 L334.2 1057.5 L335 1075.5 L335.8 1060.5 L336.5 1047 L337.2 1056 L338 1044 L338.8 1035 L339.5 1030.5 L340.2 1023 L341 1026 L341.8 1029 L342.5 1014 L343.2 1014 L344 1018.5 L344.8 988.5 L345.5 993 L346.2 981 L347 967.5 L347.8 960 L348.5 958.5 L349.2 954 L350 937.5 L350.8 933 L351.5 928.5 L352.2 915 L353 909 L353.8 895.5 L354.5 885 L355.2 886.5 L356 864 L356.8 847.5 L357.5 840 L358.2 811.5 L359 804 L359.8 802.5 L360.5 787.5 L361.2 783 L362 754.5 L362.8 727.5 L363.5 748.5 L364.2 727.5 L365 693 L365.8 706.5 L366.5 679.5 L367.2 649.5 L368 652.5 L368.8 642 L369.5 654 L370.2 618 L371 613.5 L371.8 604.5 L372.5 594 L373.2 579 L374 583.5 L374.8 583.5 L375.5 570 L376.2 543 L377 531 L377.8 537 L378.5 517.5 L379.2 508.5 L380 487.5 L380.8 522 L381.5 501 L382.2 469.5 L383 484.5 L383.8 481.5 L384.5 429 L385.2 444 L386 438 L386.8 444 L387.5 426 L388.2 418.5 L389 414 L389.8 432 L390.5 430.5 L391.3 394.5 L391.7 387 L391.5 430.5 L394.5 384 L394.5 388.5 L394.5 394.5 L394.7 399 L397 405 L397.3 394.5 L398 375 L398.7 390 L399.8 384 L400.4 402 L400.5 376.5 L400.5 360 L403.5 364.5 L403.5 396 L403.6 372 L403.9 354 L406 375 L406.3 385.5 L407 402 L407.8 378 L408.5 403.5 L409.2 409.5 L410 397.5 L410.8 411 L411.5 444 L412.2 453 L413 450 L413.8 451.5 L414.5 468 L415.2 457.5 L416 463.5 L416.8 459 L417.5 475.5 L418.2 480 L419 519 L419.8 492 L420.5 516 L421.2 525 L422 517.5 L422.8 541.5 L423.5 513 L424.2 547.5 L425 565.5 L425.8 537 L426.5 559.5 L427.2 594 L428 588 L428.8 586.5 L429.5 603 L430.2 610.5 L431 631.5 L431.8 637.5 L432.5 637.5 L433.2 640.5 L434 654 L434.8 676.5 L435.5 673.5 L436.2 684 L437 682.5 L437.8 679.5 L438.5 693 L439.2 715.5 L440 717 L440.8 715.5 L441.5 717 L442.2 744 L443 747 L443.8 756 L444.5 765 L445.2 780 L446 787.5 L446.8 802.5 L447.5 808.5 L448.2 820.5 L449 822 L449.8 817.5 L450.5 826.5 L451.2 837 L452 835.5 L452.8 850.5 L453.5 861 L454.2 849 L455 846 L455.8 877.5 L456.5 873 L457.2 885 L458 871.5 L458.8 904.5 L459.5 900 L460.2 897 L461 900 L461.8 909 L462.5 912 L463.2 916.5 L464 913.5 L464.8 939 L465.5 931.5 L466.2 937.5 L467 942 L467.8 927 L468.5 955.5 L469.2 954 L470 960 L470.8 967.5 L471.5 964.5 L472.2 984 L473 976.5 L473.8 979.5 L474.5 984 L475.2 994.5 L476 1002 L476.6 994.5 L477.8 990 L478.3 1012.5 L478.8 999 L479.1 1018.5 L481.1 1011 L481.4 1008 L481.7 1009.5 L481.8 1020 L484.3 1024.5 L484.5 1018.5 L484.6 1027.5 L484.6 1038 L487.4 1021.5 L487.5 1015.5 L487.5 1018.5 L487.5 1017 L490.5 1023 L490.5 1020 L490.5 1035 L493.5 1012.5 L493.5 1023 L493.5 1048.5 L493.5 1042.5 L496.5 1039.5 L496.5 1050 L496.5 1041 L499.5 1038 L499.5 1029 L499.5 1038 L499.5 1035 L502.5 1035 L502.5 1036.5 L502.5 1042.5 L502.5 1041 L505.5 1051.5 L505.5 1036.5 L505.5 1045.5 L505.5 1062 L508.5 1050 L508.5 1059 L508.5 1062 L511.5 1059 L511.5 1042.5 L511.5 1051.5 L514.5 1044 L514.5 1051.5 L514.5 1047 L514.5 1044 L517.5 1057.5 L517.5 1056 L517.5 1050 L517.5 1047 L520.5 1050 L520.5 1051.5 L520.5 1050 L520.5 1053 L523.5 1048.5 L523.5 1054.5 L523.5 1053 L526.5 1044 L526.5 1050 L526.5 1045.5 L529.5 1045.5 L529.5 1026 L529.5 1023 L529.5 1045.5 L532.5 1045.5 L532.5 1053 L532.5 1047 L532.5 1041 L535.5 1039.5 L535.5 1026 L535.5 1044 L535.5 1030.5 L538.5 1039.5 L538.5 1035 L538.5 1039.5 L541.5 1027.5 L541.5 1026 L541.5 1021.5 L541.5 1024.5 L544.5 1039.5 L544.5 1023 L544.5 1033.5 L544.5 1030.5 L547.5 1029 L547.5 1027.5 L547.5 1012.5 L547.5 1023 L550.5 1032 L550.5 1012.5 L550.5 1017 L550.5 1009.5 L553.5 1017 L553.5 1005 L553.5 1026 L553.5 1008 L556.5 997.5 L556.5 1024.5 L556.5 1017 L556.5 1012.5 L559.5 1011 L559.5 1002 L559.5 1009.5 L562.5 1009.5 L562.5 1008 L562.5 1000.5 L562.6 994.5 L565.4 996 L565.5 1005 L565.5 1006.5 L565.6 990 L568.4 988.5 L568.5 1002 L568.6 996 L568.7 994.5 L571.4 975 L571.5 982.5 L571.6 979.5 L571.7 984 L574.4 966 L574.5 990 L574.6 981 L577.4 964.5 L577.5 973.5 L577.5 985.5 L577.5 958.5 L580.5 973.5 L580.5 976.5 L580.5 963 L580.5 975 L583.5 964.5 L583.5 976.5 L583.5 969 L583.5 966 L586.5 981 L586.5 969 L586.5 972 L586.5 948 L589.5 952.5 L589.5 964.5 L589.6 954 L592.4 960 L592.5 942 L592.6 952.5 L592.6 939 L595.4 951 L595.5 942 L595.5 939 L595.6 945 L598.4 960 L598.5 931.5 L598.5 934.5 L598.5 949.5 L601.5 934.5 L601.5 952.5 L601.5 937.5 L601.6 934.5 L604.4 936 L604.5 948 L604.6 936 L604.8 933 L607.2 930 L607.4 910.5 L607.7 915 L608 936 L610.1 927 L610.4 922.5 L610.8 922.5 L611.2 909 L612.9 915 L613.4 900 L613.8 910.5 L614.2 898.5 L615.9 900 L616.3 904.5 L616.8 895.5 L617.3 901.5 L618.8 898.5 L619.3 894 L619.8 901.5 L620.4 871.5 L621.8 868.5 L622.3 888 L622.9 888 L623.5 895.5 L624.7 880.5 L625.3 879 L625.9 859.5 L626.5 873 L627.7 870 L628.3 850.5 L628.9 849 L629.6 853.5 L630.6 855 L631.3 819 L632 847.5 L632.7 846 L633.5 838.5 L634.2 840 L635 840 L635.8 820.5 L636.5 832.5 L637.2 822 L638 811.5 L638.8 820.5 L639.5 831 L640.2 796.5 L641 790.5 L641.8 787.5 L642.5 822 L643.2 793.5 L644 792 L644.8 780 L645.5 774 L646.2 757.5 L647 777 L647.8 774 L648.5 744 L649.2 750 L650 748.5 L650.8 751.5 L651.5 750 L652.2 756 L653 753 L653.8 745.5 L654.5 744 L655.2 712.5 L656 714 L656.8 729 L657.5 715.5 L658.2 709.5 L659 682.5 L659.8 679.5 L660.5 706.5 L661.2 697.5 L662 687 L662.8 682.5 L663.5 663 L664.2 684 L665 688.5 L665.8 691.5 L666.5 670.5 L667.2 663 L668 649.5 L668.8 673.5 L669.5 675 L670.2 643.5 L671 651 L671.8 643.5 L672.5 631.5 L673.2 604.5 L674 625.5 L674.8 633 L675.5 603 L676.2 606 L677 571.5 L677.8 622.5 L678.5 607.5 L679.2 597 L680 588 L680.8 579 L681.5 580.5 L682.2 573 L683 570 L683.8 567 L684.5 564 L685.2 577.5 L686 535.5 L686.8 552 L687.5 537 L688.2 526.5 L689 507 L689.8 540 L690.5 516 L691.2 514.5 L692 526.5 L692.8 502.5 L693.5 513 L694.2 508.5 L695 516 L695.8 516 L696.5 489 L697.3 508.5 L697.9 492 L698.6 492 L699.7 486 L700.3 495 L700.9 466.5 L701.6 483 L702.6 492 L703.3 471 L704 498 L704.7 459 L705.5 469.5 L706.3 456 L707 451.5 L707.7 442.5 L708.5 447 L709.3 450 L710 438 L710.8 457.5 L711.5 462 L712.2 418.5 L713 447 L713.8 435 L714.5 433.5 L715.2 460.5 L716 439.5 L716.8 424.5 L717.5 420 L718.2 385.5 L719 421.5 L719.8 397.5 L720.5 406.5 L721.2 402 L722 411 L722.8 421.5 L723.5 403.5 L724.2 405 L725 381 L725.8 387 L726.5 388.5 L727.2 354 L728 399 L728.8 357 L729.5 346.5 L730.2 382.5 L731 387 L731.8 343.5 L732.5 342 L733.2 390 L734 345 L734.6 313.5 L735.7 330 L736.3 364.5 L736.8 343.5 L737.3 342 L738.9 346.5 L739.4 336 L739.7 321 L740 300 L742.1 327 L742.4 303 L742.6 316.5 L742.8 340.5 L745.3 322.5 L745.5 313.5 L745.6 312 L745.6 321 L748.4 322.5 L748.5 289.5 L748.5 309 L748.5 330 L751.5 315 L751.5 292.5 L751.5 273 L754.5 289.5 L754.5 324 L754.5 300 L754.5 288 L757.5 291 L757.5 297 L757.5 292.5 L760.5 286.5 L760.5 306 L760.5 319.5 L760.5 289.5 L763.5 289.5 L763.5 313.5 L763.5 276 L763.5 288 L766.5 291 L766.5 300 L766.5 292.5 L766.5 285 L769.5 301.5 L769.5 280.5 L769.5 271.5 L769.5 268.5 L772.5 307.5 L772.5 271.5 L772.5 303 L772.5 306 L775.5 309 L775.5 294 L775.5 289.5 L775.5 298.5 L778.5 288 L778.5 279 L778.5 315 L778.5 285 L781.5 324 L781.5 304.5 L781.5 291 L781.5 304.5 L784.5 315 L784.5 277.5 L784.5 285 L784.5 283.5 L787.5 301.5 L787.5 304.5 L787.5 300 L787.5 289.5 L790.5 292.5 L790.5 318 L790.5 316.5 L790.5 303 L793.5 282 L793.5 310.5 L793.5 306 L796.5 327 L796.5 315 L796.5 289.5 L799.5 324 L799.5 307.5 L799.5 316.5 L799.5 303 L802.5 291 L802.5 310.5 L802.5 330 L802.5 312 L805.5 291 L805.5 303 L805.5 301.5 L805.5 312 L808.5 324 L808.5 339 L808.5 313.5 L808.5 304.5 L811.5 313.5 L811.5 312 L811.5 307.5 L811.5 313.5 L814.5 313.5 L814.5 297 L814.5 324 L814.5 310.5 L817.5 303 L817.5 324 L817.5 310.5 L817.5 343.5 L820.5 325.5 L820.5 321 L820.5 309 L820.5 315 L823.5 334.5 L823.5 312 L823.5 334.5 L823.5 294 L826.5 328.5 L826.5 337.5 L826.5 333 L826.5 328.5 L829.5 343.5 L829.5 318 L829.5 316.5 L829.5 333 L832.5 349.5 L832.5 339 L832.5 331.5 L832.5 339 L835.5 340.5 L835.5 316.5 L835.5 294 L835.5 319.5 L838.5 313.5 L838.5 327 L838.5 318 L838.5 322.5 L841.5 342 L841.5 336 L841.5 334.5 L841.5 360 L844.5 328.5 L844.5 330 L844.5 354 L844.5 319.5 L847.5 312 L847.5 354 L847.5 340.5 L847.5 343.5 L850.5 345 L850.5 348 L850.5 328.5 L850.5 334.5 L853.5 318 L853.5 336 L853.5 337.5 L853.5 327 L856.5 343.5 L856.5 376.5 L856.5 316.5 L856.5 345 L859.5 346.5 L859.5 349.5 L859.5 321 L859.5 351 L862.5 342 L862.5 331.5 L862.5 327 L862.5 336 L865.5 346.5 L865.5 345 L865.5 366 L865.5 327 L868.5 340.5 L868.5 325.5 L868.5 343.5 L868.5 333 L871.5 322.5 L871.5 312 L871.5 321 L871.5 334.5 L874.5 352.5 L874.5 342 L874.5 313.5 L874.5 324 L877.5 331.5 L877.5 328.5 L877.5 331.5 L877.5 342 L880.5 333 L880.5 319.5 L880.5 301.5 L880.5 324 L883.5 304.5 L883.5 327 L883.5 333 L883.5 309 L886.5 327 L886.5 324 L886.5 355.5 L886.5 334.5 L889.5 300 L889.5 334.5 L889.5 333 L889.5 324 L892.5 321 L892.5 334.5 L892.5 336 L892.5 333 L895.5 312 L895.5 322.5 L895.5 303 L898.5 316.5 L898.5 309 L898.5 318 L898.5 360 L901.5 330 L901.5 310.5 L901.5 291 L901.5 310.5 L904.5 301.5 L904.5 289.5 L904.5 331.5 L904.5 313.5 L907.5 327 L907.5 366 L907.5 324 L907.5 321 L910.5 324 L910.5 315 L910.5 307.5 L910.5 315 L913.5 334.5 L913.5 313.5 L913.5 298.5 L913.5 300 L916.5 303 L916.5 318 L916.5 324 L919.5 334.5 L919.5 313.5 L919.5 328.5 L919.5 321 L922.5 327 L922.5 289.5 L922.5 334.5 L922.5 292.5 L925.5 298.5 L925.5 327 L925.5 310.5 L925.5 342 L928.5 318 L928.5 300 L928.5 318 L928.5 310.5 L931.5 339 L931.5 340.5 L931.5 328.5 L931.5 312 L934.5 319.5 L934.5 334.5 L934.5 307.5 L934.5 309 L937.5 333 L937.5 331.5 L937.5 318 L940.5 294 L940.5 340.5 L940.5 321 L940.5 303 L943.5 307.5 L943.5 310.5 L943.5 348 L943.5 334.5 L946.5 304.5 L946.5 351 L946.5 343.5 L946.5 307.5 L949.5 285 L949.5 337.5 L949.5 315 L949.5 321 L952.5 315 L952.5 342 L952.5 345 L952.5 334.5 L955.5 321 L955.5 325.5 L955.5 331.5 L955.5 298.5 L958.5 339 L958.5 316.5 L958.5 324 L958.7 319.5 L961.2 330 L961.4 330 L961.7 345 L962.1 306 L963.9 295.5 L964.4 309 L964.8 295.5 L965.2 315 L966.9 288 L967.4 300 L967.7 310.5 L968.1 309 L970.1 295.5 L970.4 310.5 L970.7 307.5 L971.1 261 L973 289.5 L973.4 285 L973.7 276 L974.1 268.5 L976 277.5 L976.4 280.5 L976.8 276 L977.2 289.5 L978.9 282 L979.4 256.5 L979.8 252 L980.3 273 L981.9 249 L982.3 259.5 L982.8 261 L983.3 267 L984.9 258 L985.3 268.5 L985.8 238.5 L986.2 253.5 L987.9 231 L988.4 241.5 L988.8 238.5 L989.3 220.5 L990.9 192 L991.3 244.5 L991.8 232.5 L992.3 226.5 L993.9 211.5 L994.4 216 L994.8 225 L995.1 216 L997.1 232.5 L997.4 214.5 L997.6 198 L997.7 219 L1000.4 198 L1000.5 210 L1000.5 177 L1000.5 199.5 L1003.5 211.5 L1003.5 192 L1003.5 201 L1003.5 210 L1006.5 201 L1006.5 226.5 L1006.5 193.5 L1006.5 195 L1009.5 193.5 L1009.5 165 L1009.5 171 L1009.5 202.5 L1012.5 187.5 L1012.5 213 L1012.5 190.5 L1012.5 187.5 L1015.5 205.5 L1015.5 192 L1015.5 211.5 L1015.5 169.5 L1018.5 192 L1018.5 196.5 L1018.5 195 L1018.7 205.5 L1021 205.5 L1021.3 192 L1022 186 L1022.8 213 L1023.5 201 L1024.2 219 L1025 228 L1025.8 214.5 L1026.5 202.5 L1027.2 216 L1028 235.5 L1028.8 223.5 L1029.5 247.5 L1030.2 235.5 L1031 240 L1031.8 232.5 L1032.5 244.5 L1033.2 267 L1034 249 L1034.8 253.5 L1035.5 250.5 L1036.2 277.5 L1037 247.5 L1037.8 264 L1038.5 289.5 L1039.2 301.5 L1040 280.5 L1040.8 301.5 L1041.5 261 L1042.2 306 L1043 303 L1043.8 285 L1044.5 280.5 L1045.2 304.5 L1046 322.5 L1046.8 330 L1047.5 334.5 L1048.2 351 L1049 358.5 L1049.8 336 L1050.5 358.5 L1051.2 364.5 L1052 394.5 L1052.8 379.5 L1053.5 409.5 L1054.2 403.5 L1055 442.5 L1055.8 415.5 L1056.5 423 L1057.2 427.5 L1058 436.5 L1058.8 474 L1059.5 438 L1060.2 438 L1061 453 L1061.8 469.5 L1062.5 451.5 L1063.2 480 L1064 484.5 L1064.8 477 L1065.5 480 L1066.2 478.5 L1067 490.5 L1067.8 487.5 L1068.5 520.5 L1069.2 531 L1070 510 L1070.8 517.5 L1071.5 496.5 L1072.2 519 L1073 535.5 L1073.8 538.5 L1074.5 540 L1075.2 553.5 L1076 546 L1076.8 543 L1077.5 573 L1078.2 529.5 L1079 543 L1079.8 552 L1080.5 556.5 L1081.2 559.5 L1082 570 L1082.8 567 L1083.5 580.5 L1084.2 592.5 L1085 589.5 L1085.8 594 L1086.5 583.5 L1087.2 585 L1088 600 L1088.8 619.5 L1089.5 616.5 L1090.2 628.5 L1091 631.5 L1091.8 636 L1092.5 615 L1093.2 643.5 L1094 640.5 L1094.8 661.5 L1095.5 645 L1096.3 645 L1097 642 L1097.7 648 L1098.6 628.5 L1099.3 649.5 L1099.9 654 L1100.5 670.5 L1101.7 652.5 L1102.3 664.5 L1102.9 688.5 L1103.4 661.5 L1104.8 681 L1105.3 666 L1105.8 673.5 L1106.2 682.5 L1107.9 690 L1108.4 675 L1108.8 670.5 L1109.1 705 L1111 690 L1111.4 699 L1111.7 703.5 L1112.1 703.5 L1114 693 L1114.4 696 L1114.7 681 L1115.1 703.5 L1117 697.5 L1117.4 705 L1117.8 730.5 L1118.1 718.5 L1120 712.5 L1120.4 697.5 L1120.8 724.5 L1121.1 736.5 L1123 709.5 L1123.4 727.5 L1123.8 718.5 L1124.2 724.5 L1126 724.5 L1126.4 711 L1126.8 726 L1127.2 715.5 L1129 753 L1129.4 751.5 L1129.8 742.5 L1130.2 747 L1132 745.5 L1132.4 750 L1132.8 751.5 L1133.2 748.5 L1134.9 751.5 L1135.4 741 L1135.8 747 L1136.2 753 L1137.9 765 L1138.4 760.5 L1138.8 790.5 L1139.2 768 L1140.9 768 L1141.4 778.5 L1141.8 789 L1142.2 799.5 L1144 792 L1144.4 775.5 L1144.7 783 L1145.1 799.5 L1147.1 792 L1147.4 799.5 L1147.7 792 L1147.9 813 L1150.2 813 L1150.4 810 L1150.7 801 L1150.9 783 L1153.2 787.5 L1153.4 808.5 L1153.6 813 L1153.8 774 L1156.3 804 L1156.4 823.5 L1156.6 823.5 L1156.8 808.5 L1159.3 822 L1159.4 817.5 L1159.6 816 L1159.8 832.5 L1162.3 834 L1162.4 817.5 L1162.6 814.5 L1162.8 811.5 L1165.3 811.5 L1165.4 844.5 L1165.6 852 L1165.8 835.5 L1168.3 846 L1168.4 828 L1168.6 837 L1168.8 849 L1171.3 843 L1171.5 841.5 L1171.6 825 L1171.7 828 L1174.3 841.5 L1174.5 841.5 L1174.6 847.5 L1174.7 843 L1177.3 849 L1177.5 853.5 L1177.6 861 L1177.7 856.5 L1180.4 852 L1180.5 855 L1180.6 870 L1180.6 859.5 L1183.4 852 L1183.5 853.5 L1183.5 868.5 L1183.6 873 L1186.4 882 L1186.5 865.5 L1186.5 886.5 L1186.6 868.5 L1189.4 870 L1189.5 868.5 L1189.5 882 L1189.6 888 L1192.4 877.5 L1192.5 874.5 L1192.6 864 L1192.6 883.5 L1195.4 880.5 L1195.5 883.5 L1195.6 879 L1195.7 877.5 L1198.4 885 L1198.5 895.5 L1198.6 901.5 L1198.7 892.5 L1201.3 898.5 L1201.5 894 L1201.6 895.5 L1201.7 883.5 L1204.3 910.5 L1204.5 907.5 L1204.6 919.5 L1204.7 898.5 L1207.3 907.5 L1207.5 897 L1207.6 912 L1207.7 909 L1210.4 919.5 L1210.5 912 L1210.6 921 L1210.7 910.5 L1213.4 924 L1213.5 915 L1213.6 915 L1213.7 922.5 L1216.4 927 L1216.5 909 L1216.6 909 L1216.6 928.5 L1219.4 927 L1219.5 907.5 L1219.5 913.5 L1219.6 924 L1222.5 937.5 L1222.5 936 L1222.5 946.5 L1222.5 949.5 L1225.5 963 L1225.5 924 L1225.5 940.5 L1225.5 952.5 L1228.5 930 L1228.5 928.5 L1228.5 946.5 L1228.5 957 L1231.5 960 L1231.5 928.5 L1231.5 936 L1231.5 948 L1234.5 945 L1234.5 955.5 L1234.5 954 L1234.5 972 L1237.5 954 L1237.5 957 L1237.5 969 L1240.5 946.5 L1240.5 963 L1240.5 952.5 L1240.5 946.5 L1243.5 975 L1243.5 969 L1243.5 979.5 L1243.5 969 L1246.5 973.5 L1246.5 969 L1246.5 975 L1246.5 966 L1249.5 988.5 L1249.5 963 L1249.5 990 L1249.5 972 L1252.5 984 L1252.5 976.5 L1252.5 981 L1252.5 993 L1255.5 979.5 L1255.5 969 L1255.5 982.5 L1255.5 987 L1258.5 957 L1258.5 993 L1258.5 994.5 L1258.5 966 L1261.5 984 L1261.5 994.5 L1261.5 975 L1261.5 984 L1264.5 985.5 L1264.5 996 L1264.5 1002 L1264.5 991.5 L1267.5 993 L1267.5 1002 L1267.5 999 L1267.5 994.5 L1270.5 1009.5 L1270.5 982.5 L1270.5 999 L1270.5 994.5 L1273.5 994.5 L1273.5 1002 L1273.5 1000.5 L1273.5 1026 L1276.5 1009.5 L1276.5 1006.5 L1276.5 1020 L1276.5 1015.5 L1279.5 987 L1279.5 1008 L1279.5 1014 L1279.5 1002 L1282.5 1011 L1282.5 1005 L1282.5 1014 L1282.5 994.5 L1285.5 991.5 L1285.5 1006.5 L1285.5 1015.5 L1285.5 1026 L1288.5 1011 L1288.5 1006.5 L1288.5 1024.5 L1288.5 1015.5 L1291.5 1035 L1291.5 1015.5 L1291.5 997.5 L1291.5 1011 L1294.5 1009.5 L1294.5 1005 L1294.5 1012.5 L1294.5 1014 L1297.5 1018.5 L1297.5 1017 L1297.5 1026 L1297.5 1027.5 L1300.5 1026 L1300.5 1006.5 L1300.5 1009.5 L1303.5 1017 L1303.5 1029 L1303.5 1012.5 L1303.5 1024.5 L1306.5 1032 L1306.5 1050 L1306.5 1033.5 L1306.5 1026 L1309.5 1042.5 L1309.5 1033.5 L1309.5 1030.5 L1309.5 1044 L1312.5 1024.5 L1312.5 1036.5 L1312.5 1045.5 L1315.5 1026 L1315.5 1024.5 L1315.5 1035 L1315.5 1036.5 L1318.5 1039.5 L1318.5 1036.5 L1318.5 1045.5 L1318.5 1048.5 L1321.5 1044 L1321.5 1032 L1321.5 1056 L1321.5 1029 L1324.5 1042.5 L1324.5 1054.5 L1324.5 1041 L1324.5 1060.5 L1327.5 1066.5 L1327.5 1065 L1327.5 1053 L1327.5 1059 L1330.5 1045.5 L1330.5 1056 L1330.5 1053 L1333.5 1054.5 L1333.5 1051.5 L1333.5 1035 L1333.5 1059 L1336.5 1059 L1336.5 1077 L1336.5 1063.5 L1336.5 1059 L1339.5 1066.5 L1339.5 1065 L1339.5 1059 L1339.5 1056 L1342.5 1047 L1342.5 1062 L1342.5 1078.5 L1342.5 1044 L1345.5 1054.5 L1345.5 1071 L1345.5 1066.5 L1345.5 1069.5 L1348.5 1047 L1348.5 1060.5 L1348.5 1071 L1348.5 1072.5 L1351.5 1071 L1351.5 1059 L1351.5 1074 L1351.5 1057.5 L1354.5 1060.5 L1354.5 1059 L1354.5 1084.5 L1354.5 1068 L1357.5 1072.5 L1357.5 1051.5 L1357.5 1083 L1357.5 1078.5 L1360.5 1057.5 L1360.5 1059 L1360.5 1090.5 L1360.5 1066.5 L1363.5 1093.5 L1363.5 1071 L1363.5 1053 L1363.5 1087.5 L1366.5 1083 L1366.5 1084.5 L1366.5 1074 L1366.5 1077 L1369.5 1089 L1369.5 1072.5 L1369.5 1060.5 L1369.5 1089 L1372.5 1075.5 L1372.5 1093.5 L1372.5 1077 L1372.5 1078.5 L1375.5 1080 L1375.5 1060.5 L1375.5 1095 L1375.5 1078.5 L1378.5 1083 L1378.5 1099.5 L1378.5 1086 L1378.5 1093.5 L1381.5 1089 L1381.5 1093.5 L1381.5 1089 L1381.5 1098 L1384.5 1084.5 L1384.5 1092 L1384.5 1081.5 L1384.5 1099.5 L1387.5 1068 L1387.5 1090.5 L1387.5 1093.5 L1390.5 1090.5 L1390.5 1102.5 L1390.5 1111.5 L1390.5 1084.5 L1393.5 1072.5 L1393.5 1081.5 L1393.5 1084.5 L1393.5 1090.5 L1396.5 1092 L1396.5 1104 L1396.5 1089 L1396.5 1093.5 L1399.5 1095 L1399.5 1086 L1399.5 1092 L1399.5 1122 L1402.5 1095 L1402.5 1086 L1402.5 1075.5 L1402.5 1107 L1405.5 1093.5 L1405.5 1090.5 L1405.5 1120.5 L1405.5 1111.5 L1408.5 1081.5 L1408.5 1095 L1408.5 1108.5 L1408.5 1107 L1411.5 1089 L1411.5 1117.5 L1411.5 1090.5 L1414.5 1084.5 L1414.5 1089 L1414.5 1108.5 L1414.5 1113 L1417.5 1104 L1417.5 1098 L1417.5 1102.5 L1417.5 1108.5 L1420.5 1092 L1420.5 1087.5 L1420.5 1104 L1420.5 1116 L1423.5 1107 L1423.5 1099.5 L1423.5 1114.5 L1426.5 1090.5 L1426.5 1105.5 L1426.5 1101 L1426.5 1105.5 L1429.5 1098 L1429.5 1114.5 L1429.5 1107 L1429.5 1102.5 L1432.5 1113 L1432.5 1107 L1432.5 1104 L1432.5 1102.5 L1435.5 1116 L1435.5 1099.5 L1435.5 1107 L1438.5 1113 L1438.5 1108.5 L1438.5 1131 L1438.5 1093.5 L1441.5 1116 L1441.5 1110 L1441.5 1120.5 L1441.5 1095 L1444.5 1122 L1444.5 1098 L1444.5 1117.5 L1444.5 1116 L1447.5 1111.5 L1447.5 1105.5 L1447.5 1104 L1447.5 1113 L1450.5 1105.5 L1450.5 1093.5 L1450.5 1095 L1450.5 1120.5 L1453.5 1120.5 L1453.5 1119 L1453.5 1114.5 L1453.5 1117.5 L1456.5 1119 L1456.5 1116 L1456.5 1107 L1459.5 1104 L1459.5 1116 L1459.5 1105.5 L1459.5 1114.5 L1462.5 1128 L1462.5 1111.5 L1462.5 1125 L1462.5 1131 L1465.5 1099.5 L1465.5 1102.5 L1465.5 1120.5 L1465.5 1110 L1468.5 1122 L1468.5 1123.5 L1468.5 1113 L1468.5 1125 L1471.5 1134 L1471.5 1126.5 L1471.5 1110 L1471.5 1117.5 L1474.5 1113 L1474.5 1134 L1474.5 1117.5 L1474.5 1113 L1477.5 1120.5 L1477.5 1125 L1477.5 1116 L1477.5 1120.5 L1480.5 1120.5 L1480.5 1128 L1480.5 1129.5 L1480.5 1123.5 L1483.5 1116 L1483.5 1125 L1483.5 1113 L1483.5 1132.5 L1486.5 1125 L1486.5 1099.5 L1486.5 1144.5 L1489.5 1137 L1489.5 1135.5 L1489.5 1125 L1489.5 1129.5 L1492.5 1150.5 L1492.5 1117.5 L1492.5 1131 L1492.5 1129.5 L1495.5 1126.5 L1495.5 1128 L1495.5 1116 L1495.5 1131 L1498.5 1113 L1498.5 1143 L1498.5 1134 L1498.5 1119 L1501.5 1107 L1501.5 1128 L1501.5 1132.5 L1501.5 1117.5 L1504.5 1143 L1504.5 1131 L1504.5 1123.5 L1504.5 1114.5 L1507.5 1128 L1507.5 1126.5 L1507.5 1135.5 L1507.5 1138.5 L1510.5 1129.5 L1510.5 1134 L1510.5 1143 L1510.5 1135.5 L1513.5 1128 L1513.5 1137 L1513.5 1126.5 L1513.5 1135.5 L1516.5 1132.5 L1516.5 1122 L1516.5 1137 L1516.5 1132.5 L1519.5 1138.5 L1519.5 1120.5 L1519.5 1143 L1522.5 1129.5 L1522.5 1132.5 L1522.5 1134 L1522.5 1132.5 L1525.5 1141.5 L1525.5 1126.5 L1525.5 1123.5 L1525.5 1131 L1528.5 1152 L1528.5 1131 L1528.5 1125 L1528.5 1126.5 L1531.5 1135.5 L1531.5 1146 L1531.5 1128 L1531.5 1137 L1534.5 1137 L1534.5 1140 L1534.5 1137 L1534.5 1146 L1537.5 1141.5 L1537.5 1129.5 L1537.5 1158 L1537.5 1123.5 L1540.5 1123.5 L1540.5 1146 L1540.5 1138.5 L1540.5 1135.5 L1543.5 1138.5 L1543.5 1144.5 L1543.5 1134 L1543.5 1132.5 L1546.5 1128 L1546.5 1131 L1546.5 1149 L1549.5 1141.5 L1549.5 1144.5 L1549.5 1134 L1549.5 1150.5 L1552.5 1126.5 L1552.5 1144.5 L1552.5 1147.5 L1552.5 1135.5 L1555.5 1132.5 L1555.5 1146 L1555.5 1135.5 L1555.5 1134 L1558.5 1143 L1558.5 1132.5 L1558.5 1141.5 L1558.5 1162.5 L1561.5 1140 L1561.5 1152 L1561.5 1134 L1561.5 1146 L1564.5 1143 L1564.5 1144.5 L1564.5 1152 L1564.5 1165.5 L1567.5 1144.5 L1567.5 1158 L1567.5 1150.5 L1567.5 1153.5 L1570.5 1143 L1570.5 1141.5 L1570.5 1146 L1570.5 1141.5 L1573.5 1149 L1573.5 1140 L1573.5 1149 L1573.5 1152 L1576.5 1167 L1576.5 1165.5 L1576.5 1155 L1576.5 1146 L1579.5 1156.5 L1579.5 1159.5 L1579.5 1150.5 L1579.5 1144.5 L1582.5 1135.5 L1582.5 1152 L1582.5 1170 L1582.5 1152 L1585.5 1156.5 L1585.5 1158 L1585.5 1161 L1588.5 1137 L1588.5 1153.5 L1588.5 1158 L1588.5 1155 L1591.5 1167 L1591.5 1152 L1591.5 1164 L1591.5 1173 L1594.5 1155 L1594.5 1156.5 L1594.5 1155 L1594.5 1164 L1597.5 1138.5 L1597.5 1144.5 L1597.5 1155 L1597.5 1165.5 L1600.5 1164 L1600.5 1152 L1600.5 1173 L1600.5 1159.5 L1603.5 1153.5 L1603.5 1164 L1603.5 1171.5 L1603.5 1159.5 L1606.5 1146 L1606.5 1155 L1606.5 1161 L1606.5 1170 L1609.5 1152 L1609.5 1164 L1609.5 1150.5 L1609.5 1162.5 L1612.5 1149 L1612.5 1158 L1612.5 1147.5 L1612.5 1153.5 L1615.5 1147.5 L1615.5 1144.5 L1615.5 1174.5 L1615.5 1173 L1618.5 1167 L1618.5 1159.5 L1618.5 1176 L1618.5 1161 L1621.5 1167 L1621.5 1174.5 L1621.5 1165.5 L1621.5 1177.5 L1624.5 1162.5 L1624.5 1165.5 L1624.5 1153.5 L1627.5 1155 L1627.5 1171.5 L1627.5 1149 L1627.5 1176 L1630.5 1168.5 L1630.5 1176 L1630.5 1173 L1630.5 1171.5 L1633.5 1182 L1633.5 1165.5 L1633.5 1176 L1636.5 1161 L1636.5 1177.5 L1636.5 1173 L1636.5 1162.5 L1639.5 1156.5 L1639.5 1149 L1639.5 1185 L1639.5 1155 L1642.5 1156.5 L1642.5 1176 L1642.5 1173 L1642.5 1170 L1645.5 1170 L1645.5 1165.5 L1645.5 1161 L1645.5 1162.5 L1648.5 1174.5 L1648.5 1179 L1648.5 1180.5 L1648.5 1168.5 L1651.5 1149 L1651.5 1174.5 L1651.5 1168.5 L1651.5 1146 L1654.5 1182 L1654.5 1171.5 L1654.5 1170 L1654.5 1171.5 L1657.5 1171.5 L1657.5 1173 L1657.5 1171.5 L1660.5 1176 L1660.5 1174.5 L1660.5 1192.5 L1660.5 1173 L1663.5 1167 L1663.5 1165.5 L1663.5 1174.5 L1663.5 1173 L1666.5 1174.5 L1666.5 1170 L1666.5 1179 L1669.5 1185 L1669.5 1174.5 L1669.5 1171.5 L1669.5 1161 L1672.5 1162.5 L1672.5 1173 L1672.5 1170 L1672.5 1171.5 L1675.5 1162.5 L1675.5 1171.5 L1675.5 1155 L1675.5 1162.5 L1678.5 1165.5 L1678.5 1177.5 L1678.5 1167 L1678.5 1164 L1681.5 1176 L1681.5 1171.5 L1681.5 1182 L1681.5 1176 L1684.5 1174.5 L1684.5 1171.5 L1684.5 1179 L1684.5 1167 L1687.5 1159.5 L1687.5 1182 L1687.5 1170 L1687.5 1174.5 L1690.5 1179 L1690.5 1183.5 L1690.5 1147.5 L1690.5 1164 L1693.5 1185 L1693.5 1158 L1693.5 1179 L1693.5 1171.5 L1696.5 1165.5 L1696.5 1173 L1696.5 1159.5 L1696.5 1177.5 L1699.5 1185 L1699.5 1161 L1699.5 1168.5 L1699.5 1185 L1702.5 1177.5 L1702.5 1171.5 L1702.5 1188 L1702.5 1159.5 L1705.5 1171.5 L1705.5 1174.5 L1705.5 1171.5 L1705.5 1182 L1708.5 1159.5 L1708.5 1174.5 L1708.5 1167 L1708.5 1185 L1711.5 1183.5 L1711.5 1167 L1711.5 1164 L1711.5 1174.5 L1714.5 1167 L1714.5 1168.5 L1714.5 1177.5 L1714.5 1170 L1717.5 1191 L1717.5 1174.5 L1717.5 1170 L1717.5 1164 L1720.5 1170 L1720.5 1185 L1720.5 1179 L1720.5 1186.5 L1723.5 1186.5 L1723.5 1179 L1723.5 1168.5 L1723.5 1173 L1726.5 1174.5 L1726.5 1159.5 L1726.5 1177.5 L1726.5 1165.5 L1729.5 1174.5 L1729.5 1170 L1729.5 1180.5 L1729.5 1198.5 L1732.5 1164 L1732.5 1174.5 L1732.5 1194 L1732.5 1167 L1735.5 1173 L1735.5 1174.5 L1735.5 1179 L1735.5 1161 L1738.5 1179 L1738.5 1182 L1738.5 1198.5 L1738.5 1176 L1741.5 1171.5 L1741.5 1177.5 L1741.5 1153.5 L1741.5 1179 L1744.5 1191 L1744.5 1176 L1744.5 1174.5 L1747.5 1177.5 L1747.5 1165.5 L1747.5 1191 L1747.5 1173 L1750.5 1173 L1750.5 1191 L1750.5 1177.5 L1750.5 1173 L1753.5 1191 L1753.5 1179 L1753.5 1185 L1753.5 1171.5 L1756.5 1161 L1756.5 1179 L1756.5 1189.5 L1756.5 1173 L1759.5 1180.5 L1759.5 1183.5 L1759.5 1179 L1759.5 1177.5 L1762.5 1183.5 L1762.5 1179 L1762.5 1171.5 L1762.5 1186.5 L1765.5 1183.5 L1765.5 1180.5 L1765.5 1183.5 L1765.5 1153.5 L1768.5 1179 L1768.5 1177.5 L1768.5 1159.5 L1768.5 1195.5 L1771.5 1179 L1771.5 1173 L1771.5 1177.5 L1774.5 1174.5 L1774.5 1161 L1774.5 1171.5 L1774.5 1177.5 L1777.5 1179 L1777.5 1180.5 L1777.5 1164 L1777.5 1167 L1780.5 1176 L1780.5 1167 L1780.5 1174.5 L1780.5 1164 L1783.5 1177.5 L1783.5 1173 L1783.5 1177.5 L1783.5 1173 L1786.5 1167 L1786.5 1164 L1786.5 1177.5 L1786.5 1171.5 L1789.5 1165.5 L1789.5 1174.5 L1789.5 1188 L1789.5 1192.5 L1792.5 1188 L1792.5 1194 L1792.5 1179 L1792.5 1180.5 L1795.5 1174.5 L1795.5 1176 L1795.5 1197 L1795.5 1186.5 L1798.5 1188 L1798.5 1206 L1798.5 1200 L1798.5 1176 L1801.5 1192.5 L1801.5 1176 L1801.5 1192.5 L1801.5 1167 L1804.5 1174.5 L1804.5 1201.5 L1804.5 1167 L1807.5 1194 L1807.5 1185 L1807.5 1191 L1810.5 1207.5 L1810.5 1186.5 L1810.5 1182 L1810.5 1195.5 L1813.5 1191 L1813.5 1174.5 L1813.5 1186.5 L1816.5 1174.5 L1816.5 1176 L1816.5 1179 L1816.5 1174.5 L1819.5 1189.5 L1819.5 1188 L1819.5 1165.5 L1819.5 1182 L1822.5 1186.5 L1822.5 1173 L1822.5 1183.5 L1822.5 1188 L1825.5 1170 L1825.5 1183.5 L1825.5 1164 L1825.5 1192.5 L1828.5 1179 L1828.5 1173 L1828.5 1170 L1828.5 1171.5 L1831.5 1198.5 L1831.5 1179 L1831.5 1182 L1831.5 1183.5 L1834.5 1174.5 L1834.5 1194 L1834.5 1165.5 L1834.5 1195.5 L1837.5 1182 L1837.5 1188 L1837.5 1191 L1837.5 1197 L1840.5 1177.5 L1840.5 1195.5 L1840.5 1189.5 L1843.5 1188 L1843.5 1201.5 L1843.5 1195.5 L1843.5 1203 L1846.5 1200 L1846.5 1174.5 L1846.5 1192.5 L1846.5 1203 L1849.5 1186.5 L1849.5 1180.5 L1849.5 1174.5 L1849.5 1213.5 L1852.5 1188 L1852.5 1198.5 L1852.5 1188 L1852.5 1201.5 L1855.5 1213.5 L1855.5 1186.5 L1855.5 1198.5 L1855.5 1192.5 L1858.5 1183.5 L1858.5 1192.5 L1858.5 1201.5 L1858.5 1212 L1861.5 1213.5 L1861.5 1201.5 L1861.5 1188 L1861.5 1209 L1864.5 1203 L1864.5 1194 L1864.5 1203 L1867.5 1221 L1867.5 1218 L1867.5 1216.5 L1867.5 1210.5 L1870.5 1201.5 L1870.5 1206 L1870.5 1207.5 L1870.5 1209 L1873.5 1203 L1873.5 1198.5 L1873.5 1216.5 L1873.5 1203 L1876.5 1215 L1876.5 1206 L1876.5 1213.5 L1876.5 1212 L1879.5 1213.5 L1879.5 1200 L1879.5 1195.5 L1882.5 1207.5 L1882.5 1222.5 L1882.5 1201.5 L1882.5 1200 L1885.5 1228.5 L1885.5 1195.5 L1885.5 1204.5 L1885.5 1206 L1888.5 1203 L1888.5 1204.5 L1888.5 1219.5 L1888.5 1212 L1891.5 1212 L1891.5 1195.5 L1891.5 1218 L1891.5 1212 L1894.5 1212 L1894.5 1218 L1894.5 1213.5 L1894.5 1210.5 L1897.5 1215 L1897.5 1204.5 L1897.5 1203 L1897.5 1200 L1900.5 1221 L1900.5 1206 L1900.5 1213.5 L1900.5 1222.5 L1903.5 1228.5 L1903.5 1209 L1903.5 1215 L1903.5 1213.5 L1906.5 1201.5 L1906.5 1209 L1906.5 1237.5 L1906.5 1213.5 L1909.5 1230 L1909.5 1221 L1909.5 1230 L1909.5 1225.5 L1912.5 1216.5 L1912.5 1204.5 L1912.5 1227 L1912.5 1221 L1915.5 1219.5 L1915.5 1224 L1915.5 1209 L1915.5 1218 L1918.5 1216.5 L1918.5 1204.5 L1918.5 1206 L1918.5 1216.5 L1921.5 1198.5 L1921.5 1224 L1921.5 1218 L1924.5 1221 L1924.5 1203 L1924.5 1221 L1924.5 1225.5 L1927.5 1224 L1927.5 1227 L1927.5 1219.5 L1927.5 1237.5 L1930.5 1224 L1930.5 1227 L1930.5 1230 L1930.5 1215 L1933.5 1212 L1933.5 1228.5 L1933.5 1210.5 L1933.5 1216.5 L1936.5 1230 L1936.5 1212 L1936.5 1213.5 L1936.5 1212 L1939.5 1213.5 L1939.5 1239 L1939.5 1228.5 L1939.5 1231.5 L1942.5 1207.5 L1942.5 1203 L1942.5 1213.5 L1942.5 1233 L1945.5 1234.5 L1945.5 1207.5 L1945.5 1210.5 L1945.5 1231.5 L1948.5 1227 L1948.5 1230 L1948.5 1231.5 L1948.5 1218 L1951.5 1227 L1951.5 1224 L1951.5 1237.5 L1951.5 1224 L1954.5 1210.5 L1954.5 1239 L1954.5 1243.5 L1954.5 1236 L1957.5 1225.5 L1957.5 1221 L1957.5 1237.5 L1957.5 1224 L1960.5 1234.5 L1960.5 1236 L1960.5 1228.5 L1960.5 1213.5 L1963.5 1234.5 L1963.5 1222.5 L1963.5 1218 L1963.5 1231.5 L1966.5 1233 L1966.5 1231.5 L1966.5 1237.5 L1966.5 1216.5 L1969.5 1237.5 L1969.5 1246.5 L1969.5 1233 L1969.5 1230 L1972.5 1233 L1972.5 1245 L1972.5 1233 L1972.5 1228.5 L1975.5 1221 L1975.5 1248 L1975.5 1249.5 L1975.5 1237.5 L1978.5 1255.5 L1978.5 1234.5 L1978.5 1245 L1978.5 1228.5 L1981.5 1231.5"/>
<path class="c" stroke="#888888" stroke-width="2.7" d="M254 1380 L254.8 1377 L255.5 1372.5 L256.2 1366.5 L257 1363.5 L257.8 1359 L258.6 1357.5 L259.3 1357.5 L259.8 1351.5 L260.2 1350 L262 1350 L262.4 1347 L262.7 1345.5 L262.8 1341 L265.3 1341 L265.4 1341 L265.6 1336.5 L265.7 1336.5 L268.4 1332 L268.5 1332 L268.6 1329 L268.7 1330.5 L271.3 1327.5 L271.4 1329 L271.6 1327.5 L271.9 1324.5 L274.1 1318.5 L274.4 1320 L274.7 1320 L275.1 1318.5 L277 1312.5 L277.4 1312.5 L277.8 1309.5 L278.2 1308 L279.9 1309.5 L280.4 1303.5 L280.8 1302 L281.3 1303.5 L282.9 1296 L283.3 1296 L283.8 1294.5 L284.4 1291.5 L285.8 1285.5 L286.3 1287 L286.9 1287 L287.4 1276.5 L288.7 1281 L289.3 1276.5 L289.9 1272 L290.5 1276.5 L291.7 1270.5 L292.3 1261.5 L292.9 1263 L293.6 1261.5 L294.6 1257 L295.3 1257 L296 1251 L296.7 1251 L297.6 1251 L298.3 1240.5 L299 1240.5 L299.7 1236 L300.5 1234.5 L301.2 1227 L302 1225.5 L302.8 1224 L303.5 1224 L304.2 1222.5 L305 1209 L305.8 1207.5 L306.5 1209 L307.2 1195.5 L308 1197 L308.8 1194 L309.5 1195.5 L310.2 1188 L311 1179 L311.8 1173 L312.5 1167 L313.2 1168.5 L314 1152 L314.8 1144.5 L315.5 1140 L316.2 1129.5 L317 1120.5 L317.8 1108.5 L318.5 1105.5 L319.2 1095 L320 1096.5 L320.8 1087.5 L321.5 1077 L322.2 1074 L323 1063.5 L323.8 1066.5 L324.5 1056 L325.2 1054.5 L326 1039.5 L326.8 1044 L327.5 1029 L328.2 1021.5 L329 1026 L329.8 1018.5 L330.5 1020 L331.2 1026 L332 1002 L332.8 997.5 L333.5 996 L334.2 990 L335 979.5 L335.8 970.5 L336.5 967.5 L337.2 958.5 L338 940.5 L338.8 936 L339.5 928.5 L340.2 912 L341 910.5 L341.8 894 L342.5 895.5 L343.2 880.5 L344 870 L344.8 855 L345.5 847.5 L346.2 823.5 L347 819 L347.8 817.5 L348.5 790.5 L349.2 799.5 L350 771 L350.8 777 L351.5 754.5 L352.2 756 L353 741 L353.8 718.5 L354.5 727.5 L355.2 718.5 L356 697.5 L356.8 685.5 L357.5 676.5 L358.2 660 L359 666 L359.8 643.5 L360.5 637.5 L361.2 622.5 L362 613.5 L362.8 598.5 L363.5 607.5 L364.2 585 L365 582 L365.8 562.5 L366.5 543 L367.2 532.5 L368 517.5 L368.8 508.5 L369.5 493.5 L370.2 483 L371 463.5 L371.8 457.5 L372.5 469.5 L373.2 439.5 L374 427.5 L374.8 430.5 L375.5 430.5 L376.2 396 L377 397.5 L377.8 384 L378.5 366 L379.2 379.5 L380 364.5 L380.8 358.5 L381.5 343.5 L382.2 348 L383 331.5 L383.8 328.5 L384.5 312 L385.2 303 L386 321 L386.8 297 L387.5 298.5 L388.2 292.5 L388.8 285 L388.7 283.5 L391.5 292.5 L391.5 283.5 L391.5 285 L394.5 297 L394.5 292.5 L394.5 289.5 L394.5 282 L397.5 274.5 L397.5 298.5 L397.6 300 L398.1 291 L399.8 300 L400.2 304.5 L401 307.5 L401.8 313.5 L402.5 304.5 L403.2 330 L404 312 L404.8 339 L405.5 345 L406.2 357 L407 373.5 L407.8 378 L408.5 363 L409.2 366 L410 397.5 L410.8 391.5 L411.5 411 L412.2 429 L413 418.5 L413.8 426 L414.5 457.5 L415.2 466.5 L416 474 L416.8 487.5 L417.5 489 L418.2 493.5 L419 514.5 L419.8 517.5 L420.5 522 L421.2 549 L422 553.5 L422.8 567 L423.5 565.5 L424.2 577.5 L425 585 L425.8 595.5 L426.5 615 L427.2 616.5 L428 636 L428.8 645 L429.5 669 L430.2 654 L431 682.5 L431.8 687 L432.5 699 L433.2 702 L434 721.5 L434.8 744 L435.5 750 L436.2 763.5 L437 772.5 L437.8 792 L438.5 793.5 L439.2 787.5 L440 805.5 L440.8 804 L441.5 802.5 L442.2 828 L443 847.5 L443.8 846 L444.5 844.5 L445.2 852 L446 871.5 L446.8 871.5 L447.5 877.5 L448.2 883.5 L449 889.5 L449.8 901.5 L450.5 906 L451.2 910.5 L452 909 L452.8 924 L453.5 922.5 L454.2 940.5 L455 931.5 L455.8 945 L456.5 952.5 L457.2 951 L458 975 L458.8 979.5 L459.5 975 L460.2 988.5 L461 991.5 L461.8 981 L462.5 1002 L463.2 1006.5 L464 1012.5 L464.8 1011 L465.5 1020 L466.2 1024.5 L467 1036.5 L467.8 1035 L468.5 1038 L469.2 1048.5 L470 1041 L470.5 1044 L471.8 1039.5 L472.3 1059 L472.8 1059 L473.2 1060.5 L474.9 1062 L475.4 1060.5 L475.8 1063.5 L476.2 1063.5 L477.9 1065 L478.4 1069.5 L478.8 1078.5 L479.1 1075.5 L481.1 1074 L481.4 1074 L481.6 1075.5 L481.7 1087.5 L484.4 1084.5 L484.5 1083 L484.5 1081.5 L484.5 1080 L487.5 1086 L487.5 1092 L487.5 1086 L487.5 1087.5 L490.5 1089 L490.5 1090.5 L490.5 1083 L490.5 1090.5 L493.5 1087.5 L493.5 1096.5 L493.5 1087.5 L493.5 1095 L496.5 1099.5 L496.5 1090.5 L496.5 1089 L496.5 1093.5 L499.5 1092 L499.5 1087.5 L499.5 1095 L499.5 1102.5 L502.5 1089 L502.5 1083 L502.6 1089 L505.4 1080 L505.5 1080 L505.6 1090.5 L505.8 1077 L508.2 1086 L508.4 1086 L508.6 1078.5 L508.9 1078.5 L511.2 1084.5 L511.4 1071 L511.7 1066.5 L511.9 1062 L514.1 1066.5 L514.4 1072.5 L514.7 1068 L515.1 1056 L517 1054.5 L517.4 1054.5 L517.8 1056 L518.1 1051.5 L520 1051.5 L520.4 1050 L520.7 1045.5 L521.1 1044 L523 1044 L523.4 1039.5 L523.7 1041 L524.1 1047 L526 1038 L526.4 1033.5 L526.8 1021.5 L527.2 1030.5 L528.9 1015.5 L529.3 1015.5 L529.8 1026 L530.4 1023 L531.7 1015.5 L532.3 1003.5 L532.9 1009.5 L533.5 1005 L534.7 1009.5 L535.3 1017 L535.9 1002 L536.6 993 L537.6 988.5 L538.3 991.5 L538.9 988.5 L539.6 979.5 L540.6 984 L541.3 973.5 L542 984 L542.7 981 L543.6 979.5 L544.3 966 L545 969 L545.6 963 L546.6 958.5 L547.3 955.5 L548 946.5 L548.6 943.5 L549.6 954 L550.3 945 L550.9 945 L551.6 948 L552.6 927 L553.3 931.5 L553.9 934.5 L554.6 933 L555.6 925.5 L556.3 931.5 L556.9 924 L557.5 912 L558.8 910.5 L559.3 919.5 L559.8 915 L560 898.5 L562.2 918 L562.4 910.5 L562.6 915 L562.6 901.5 L565.5 901.5 L565.5 894 L565.5 918 L565.5 898.5 L568.5 909 L568.5 894 L568.5 898.5 L568.5 885 L571.5 892.5 L571.5 901.5 L571.5 885 L571.5 900 L574.5 894 L574.5 885 L574.5 888 L577.5 889.5 L577.5 886.5 L577.5 885 L577.5 889.5 L580.5 885 L580.5 883.5 L580.5 894 L580.6 901.5 L583.4 886.5 L583.5 898.5 L583.6 895.5 L583.7 894 L586.4 907.5 L586.5 900 L586.5 915 L586.5 900 L589.5 909 L589.5 906 L589.5 903 L589.5 913.5 L592.5 909 L592.5 915 L592.5 912 L592.5 906 L595.5 913.5 L595.5 916.5 L595.5 922.5 L595.5 910.5 L598.5 918 L598.5 907.5 L598.5 924 L598.5 913.5 L601.5 910.5 L601.5 922.5 L601.5 931.5 L601.5 915 L604.5 919.5 L604.5 922.5 L604.5 921 L604.5 931.5 L607.5 924 L607.5 925.5 L607.5 934.5 L607.5 925.5 L610.5 934.5 L610.5 925.5 L610.5 924 L610.5 919.5 L613.5 945 L613.5 931.5 L613.5 934.5 L613.5 933 L616.5 934.5 L616.5 946.5 L616.5 927 L619.5 922.5 L619.5 927 L619.5 924 L619.5 937.5 L622.5 937.5 L622.5 924 L622.5 921 L622.5 927 L625.4 937.5 L625.5 907.5 L625.6 928.5 L626.1 916.5 L627.9 928.5 L628.3 910.5 L629 913.5 L629.8 901.5 L630.5 903 L631.2 915 L632 907.5 L632.8 895.5 L633.5 889.5 L634.2 879 L635 885 L635.8 883.5 L636.5 880.5 L637.2 876 L638 865.5 L638.8 868.5 L639.5 865.5 L640.2 871.5 L641 871.5 L641.8 852 L642.5 844.5 L643.2 844.5 L644 837 L644.8 831 L645.5 831 L646.2 819 L647 826.5 L647.8 816 L648.5 814.5 L649.2 807 L650 798 L650.8 790.5 L651.5 792 L652.2 784.5 L653 786 L653.8 778.5 L654.5 763.5 L655.2 769.5 L656 754.5 L656.8 754.5 L657.5 753 L658.2 733.5 L659 745.5 L659.8 741 L660.5 735 L661.2 727.5 L662 724.5 L662.8 714 L663.5 715.5 L664.2 709.5 L665 711 L665.8 696 L666.5 703.5 L667.2 699 L668 693 L668.8 687 L669.5 691.5 L670.2 669 L671 684 L671.8 678 L672.5 675 L673.2 672 L674 660 L674.8 660 L675.5 663 L676.2 657 L677 651 L677.8 633 L678.5 646.5 L679.2 646.5 L680 640.5 L680.8 630 L681.5 609 L682.2 625.5 L683 612 L683.8 585 L684.5 606 L685.2 583.5 L686 580.5 L686.8 580.5 L687.5 592.5 L688.2 573 L689 573 L689.8 582 L690.5 576 L691.2 556.5 L692 550.5 L692.8 538.5 L693.6 540 L694.3 547.5 L694.8 544.5 L695.3 540 L696.9 546 L697.4 528 L697.7 532.5 L698 537 L700.1 534 L700.4 537 L700.7 528 L700.9 520.5 L703.2 525 L703.4 510 L703.7 502.5 L703.9 522 L706.1 514.5 L706.4 516 L706.7 495 L707.1 505.5 L709 501 L709.4 496.5 L709.8 481.5 L710.2 496.5 L711.9 507 L712.3 499.5 L712.8 487.5 L713.3 490.5 L714.9 496.5 L715.3 460.5 L715.8 483 L716.3 487.5 L717.9 486 L718.3 493.5 L718.8 486 L719.2 475.5 L720.9 474 L721.4 475.5 L721.8 460.5 L722.2 463.5 L723.9 471 L724.4 478.5 L724.8 456 L725.2 454.5 L727 454.5 L727.4 463.5 L727.7 448.5 L728.1 460.5 L730 435 L730.4 441 L730.7 439.5 L731 447 L733.1 447 L733.4 421.5 L733.7 424.5 L733.9 435 L736.2 424.5 L736.4 414 L736.6 436.5 L736.8 430.5 L739.3 429 L739.4 417 L739.6 430.5 L739.7 417 L742.4 429 L742.5 408 L742.5 406.5 L742.5 415.5 L745.5 406.5 L745.5 418.5 L745.5 414 L745.5 400.5 L748.5 409.5 L748.5 405 L748.5 415.5 L748.5 399 L751.5 400.5 L751.5 415.5 L751.5 424.5 L751.5 421.5 L754.5 402 L754.5 414 L754.5 397.5 L757.5 388.5 L757.5 397.5 L757.5 400.5 L757.5 387 L760.5 378 L760.5 379.5 L760.5 399 L760.5 385.5 L763.5 391.5 L763.5 394.5 L763.5 399 L763.5 388.5 L766.5 397.5 L766.5 384 L766.5 390 L766.5 384 L769.5 406.5 L769.5 394.5 L769.5 388.5 L769.5 393 L772.5 396 L772.5 405 L772.5 384 L772.5 390 L775.5 397.5 L775.5 427.5 L775.5 412.5 L775.6 403.5 L778.3 412.5 L778.4 427.5 L778.7 406.5 L779 408 L781 424.5 L781.4 420 L781.8 424.5 L782.3 414 L783.8 441 L784.3 441 L784.8 432 L785.3 436.5 L786.9 411 L787.4 439.5 L787.8 433.5 L788.1 442.5 L790 447 L790.4 438 L790.7 427.5 L791 450 L793.1 441 L793.4 447 L793.7 445.5 L794 450 L796.1 433.5 L796.4 469.5 L796.7 462 L796.9 471 L799.2 481.5 L799.4 463.5 L799.6 448.5 L799.8 459 L802.3 457.5 L802.5 465 L802.6 472.5 L802.7 453 L805.3 477 L805.5 460.5 L805.6 480 L805.6 477 L808.4 477 L808.5 480 L808.5 477 L811.5 468 L811.5 484.5 L811.5 504 L811.5 505.5 L814.5 501 L814.5 495 L814.5 483 L814.5 504 L817.5 490.5 L817.5 492 L817.5 490.5 L817.5 495 L820.5 490.5 L820.5 493.5 L820.5 484.5 L820.5 492 L823.5 517.5 L823.5 496.5 L823.5 495 L823.5 502.5 L826.5 504 L826.5 487.5 L826.5 496.5 L826.5 507 L829.5 501 L829.5 514.5 L829.5 493.5 L832.5 501 L832.5 495 L832.5 514.5 L832.5 481.5 L835.5 493.5 L835.5 495 L835.5 507 L835.5 505.5 L838.5 514.5 L838.5 484.5 L838.5 507 L838.5 496.5 L841.5 493.5 L841.5 504 L841.5 490.5 L841.5 478.5 L844.5 495 L844.5 483 L844.5 492 L844.5 501 L847.5 499.5 L847.5 511.5 L847.5 493.5 L847.5 481.5 L850.5 487.5 L850.5 486 L850.5 483 L850.5 498 L853.5 487.5 L853.5 474 L853.5 499.5 L853.5 490.5 L856.5 495 L856.5 492 L856.5 496.5 L856.5 490.5 L859.5 502.5 L859.5 493.5 L862.5 474 L862.5 486 L862.5 484.5 L862.5 489 L865.5 474 L865.5 502.5 L865.5 486 L865.5 472.5 L868.5 468 L868.5 481.5 L868.5 483 L868.5 475.5 L871.5 483 L871.5 475.5 L871.5 486 L871.5 472.5 L874.5 478.5 L874.5 487.5 L874.5 502.5 L874.5 466.5 L877.5 471 L877.5 466.5 L877.5 481.5 L877.5 462 L880.5 468 L880.5 471 L880.5 462 L880.5 460.5 L883.5 465 L883.5 448.5 L883.5 454.5 L883.5 463.5 L886.5 468 L886.5 465 L886.5 448.5 L886.5 460.5 L889.5 472.5 L889.5 469.5 L889.5 462 L889.5 454.5 L892.5 468 L892.5 456 L892.5 450 L892.5 453 L895.5 475.5 L895.5 462 L895.5 471 L895.5 454.5 L898.5 468 L898.5 453 L898.5 457.5 L898.5 483 L901.5 465 L901.5 453 L901.5 457.5 L901.5 460.5 L904.5 469.5 L904.5 453 L904.5 439.5 L904.5 454.5 L907.5 457.5 L907.5 469.5 L907.5 460.5 L910.5 465 L910.5 447 L910.5 466.5 L910.5 478.5 L913.5 465 L913.5 460.5 L913.5 477 L916.5 450 L916.5 457.5 L916.5 463.5 L916.5 466.5 L919.5 456 L919.5 463.5 L919.5 457.5 L919.5 462 L922.5 460.5 L922.5 450 L922.5 462 L922.5 471 L925.5 453 L925.5 460.5 L925.5 469.5 L925.5 451.5 L928.5 465 L928.5 453 L928.5 474 L928.5 486 L931.5 483 L931.5 462 L931.5 471 L931.5 465 L934.5 465 L934.5 480 L934.5 451.5 L934.5 475.5 L937.5 465 L937.5 478.5 L937.5 466.5 L937.5 459 L940.5 468 L940.5 472.5 L940.5 466.5 L940.5 471 L943.5 460.5 L943.5 444 L943.5 474 L943.5 472.5 L946.5 466.5 L946.5 465 L946.5 474 L946.5 459 L949.5 456 L949.5 459 L949.5 472.5 L949.5 445.5 L952.5 471 L952.5 451.5 L952.5 445.5 L952.5 468 L955.5 454.5 L955.5 441 L955.5 448.5 L955.5 460.5 L958.4 462 L958.5 445.5 L958.6 451.5 L958.8 453 L961.2 438 L961.4 447 L961.7 441 L962 433.5 L964 432 L964.4 436.5 L964.8 433.5 L965.3 426 L966.8 424.5 L967.3 438 L967.9 426 L968.7 429 L969.5 430.5 L970.2 420 L971 433.5 L971.8 399 L972.5 412.5 L973.2 396 L974 414 L974.8 409.5 L975.5 367.5 L976.2 373.5 L977 385.5 L977.8 382.5 L978.5 378 L979.2 366 L980 367.5 L980.8 364.5 L981.5 352.5 L982.2 360 L983 322.5 L983.8 348 L984.5 325.5 L985.2 342 L986 325.5 L986.8 313.5 L987.5 322.5 L988.2 304.5 L989 300 L989.8 289.5 L990.5 301.5 L991.2 301.5 L992 303 L992.8 286.5 L993.5 294 L994.2 279 L995 273 L995.8 274.5 L996.5 274.5 L997.2 255 L998 250.5 L998.8 246 L999.5 244.5 L1000.2 228 L1001 244.5 L1001.8 225 L1002.5 229.5 L1003.2 211.5 L1004 220.5 L1004.8 217.5 L1005.5 205.5 L1006.2 228 L1007 207 L1007.8 219 L1008.5 207 L1009.3 186 L1010 186 L1010.6 192 L1011.6 184.5 L1012.3 181.5 L1012.9 175.5 L1013.4 156 L1014.9 171 L1015.4 147 L1015.6 174 L1015.5 160.5 L1018.5 159 L1018.5 165 L1018.5 169.5 L1018.5 151.5 L1021.5 150 L1021.4 159 L1021.7 150 L1022.1 163.5 L1023.9 193.5 L1024.3 166.5 L1024.9 187.5 L1025.6 168 L1026.5 189 L1027.2 186 L1028 192 L1028.8 202.5 L1029.5 219 L1030.2 207 L1031 211.5 L1031.8 204 L1032.5 226.5 L1033.2 223.5 L1034 241.5 L1034.8 238.5 L1035.5 264 L1036.2 229.5 L1037 255 L1037.8 274.5 L1038.5 268.5 L1039.2 271.5 L1040 283.5 L1040.8 279 L1041.5 303 L1042.2 334.5 L1043 328.5 L1043.8 313.5 L1044.5 322.5 L1045.2 336 L1046 357 L1046.8 346.5 L1047.5 354 L1048.2 378 L1049 384 L1049.8 378 L1050.5 378 L1051.2 379.5 L1052 396 L1052.8 387 L1053.5 423 L1054.2 417 L1055 435 L1055.8 457.5 L1056.5 457.5 L1057.2 442.5 L1058 471 L1058.8 483 L1059.5 472.5 L1060.2 480 L1061 498 L1061.8 493.5 L1062.5 534 L1063.2 507 L1064 531 L1064.8 549 L1065.5 559.5 L1066.2 573 L1067 583.5 L1067.8 588 L1068.5 609 L1069.2 586.5 L1070 615 L1070.8 615 L1071.5 630 L1072.2 636 L1073 631.5 L1073.8 639 L1074.5 657 L1075.2 658.5 L1076 654 L1076.8 682.5 L1077.5 690 L1078.2 660 L1079 679.5 L1079.8 703.5 L1080.5 693 L1081.2 691.5 L1082 691.5 L1082.8 693 L1083.5 700.5 L1084.2 700.5 L1085 715.5 L1085.8 709.5 L1086.5 712.5 L1087.2 709.5 L1088 724.5 L1088.8 720 L1089.5 730.5 L1090.2 744 L1091 742.5 L1091.8 747 L1092.5 750 L1093.2 750 L1094 753 L1094.8 754.5 L1095.5 768 L1096.2 756 L1097 780 L1097.8 772.5 L1098.5 769.5 L1099.2 775.5 L1100 777 L1100.8 789 L1101.5 784.5 L1102.2 804 L1103 790.5 L1103.8 781.5 L1104.5 798 L1105.2 790.5 L1106 810 L1106.7 822 L1107.6 820.5 L1108.3 807 L1108.9 814.5 L1109.5 838.5 L1110.7 829.5 L1111.3 829.5 L1111.9 840 L1112.4 855 L1113.8 847.5 L1114.3 840 L1114.8 844.5 L1115.3 849 L1116.9 841.5 L1117.4 840 L1117.8 850.5 L1118.2 844.5 L1120 853.5 L1120.4 858 L1120.7 877.5 L1121.1 853.5 L1123 862.5 L1123.4 864 L1123.7 870 L1124 877.5 L1126.1 867 L1126.4 865.5 L1126.7 861 L1127 868.5 L1129.1 882 L1129.4 880.5 L1129.7 873 L1130 880.5 L1132.1 885 L1132.4 891 L1132.7 883.5 L1132.9 888 L1135.2 877.5 L1135.4 885 L1135.7 909 L1135.9 880.5 L1138.2 897 L1138.4 903 L1138.7 900 L1138.9 898.5 L1141.2 906 L1141.4 907.5 L1141.7 909 L1141.9 897 L1144.2 912 L1144.4 909 L1144.7 912 L1144.9 921 L1147.2 925.5 L1147.4 928.5 L1147.7 919.5 L1147.9 933 L1150.2 936 L1150.4 937.5 L1150.6 942 L1150.9 931.5 L1153.2 933 L1153.4 942 L1153.6 927 L1153.8 940.5 L1156.2 936 L1156.4 939 L1156.6 930 L1156.8 939 L1159.3 946.5 L1159.4 955.5 L1159.6 958.5 L1159.8 951 L1162.3 952.5 L1162.4 948 L1162.6 960 L1162.8 955.5 L1165.3 964.5 L1165.5 975 L1165.6 961.5 L1165.7 952.5 L1168.4 958.5 L1168.5 955.5 L1168.6 958.5 L1168.6 979.5 L1171.4 972 L1171.5 960 L1171.6 978 L1171.6 984 L1174.4 973.5 L1174.5 972 L1174.6 976.5 L1174.6 982.5 L1177.4 985.5 L1177.5 991.5 L1177.6 993 L1177.7 994.5 L1180.3 997.5 L1180.5 993 L1180.6 978 L1180.8 990 L1183.3 994.5 L1183.4 991.5 L1183.6 1002 L1183.8 994.5 L1186.3 991.5 L1186.5 1011 L1186.6 1006.5 L1186.7 1005 L1189.3 1011 L1189.5 1014 L1189.6 1009.5 L1189.7 991.5 L1192.4 1005 L1192.5 1008 L1192.6 1006.5 L1192.6 1015.5 L1195.4 1024.5 L1195.5 1014 L1195.5 1009.5 L1195.6 1035 L1198.4 1017 L1198.5 1012.5 L1198.5 1024.5 L1198.6 1027.5 L1201.4 1021.5 L1201.5 1033.5 L1201.5 1024.5 L1201.6 1023 L1204.4 1032 L1204.5 1038 L1204.5 1029 L1204.6 1036.5 L1207.5 1035 L1207.5 1057.5 L1207.5 1033.5 L1207.5 1050 L1210.5 1039.5 L1210.5 1041 L1210.5 1048.5 L1210.5 1050 L1213.5 1054.5 L1213.5 1048.5 L1213.5 1042.5 L1213.5 1045.5 L1216.5 1053 L1216.5 1054.5 L1216.5 1062 L1216.5 1056 L1219.5 1062 L1219.5 1066.5 L1219.5 1057.5 L1219.5 1047 L1222.5 1050 L1222.5 1072.5 L1222.5 1056 L1225.5 1072.5 L1225.5 1068 L1225.5 1077 L1225.5 1074 L1228.5 1066.5 L1228.5 1069.5 L1228.5 1071 L1231.5 1068 L1231.5 1072.5 L1231.5 1084.5 L1231.5 1062 L1234.5 1077 L1234.5 1069.5 L1234.5 1078.5 L1234.5 1084.5 L1237.5 1078.5 L1237.5 1086 L1237.5 1069.5 L1237.5 1089 L1240.5 1078.5 L1240.5 1087.5 L1240.5 1086 L1240.5 1066.5 L1243.5 1080 L1243.5 1089 L1243.5 1098 L1243.5 1090.5 L1246.5 1090.5 L1246.5 1080 L1246.5 1101 L1246.5 1104 L1249.5 1092 L1249.5 1083 L1249.5 1101 L1252.5 1114.5 L1252.5 1101 L1252.5 1105.5 L1252.5 1101 L1255.5 1092 L1255.5 1108.5 L1255.5 1090.5 L1255.5 1098 L1258.5 1102.5 L1258.5 1107 L1258.5 1105.5 L1261.5 1098 L1261.5 1095 L1261.5 1104 L1261.5 1099.5 L1264.5 1096.5 L1264.5 1102.5 L1264.5 1093.5 L1267.5 1098 L1267.5 1096.5 L1267.5 1108.5 L1267.5 1111.5 L1270.5 1122 L1270.5 1099.5 L1270.5 1104 L1270.5 1116 L1273.5 1108.5 L1273.5 1123.5 L1273.5 1110 L1276.5 1104 L1276.5 1116 L1279.5 1105.5 L1279.5 1108.5 L1279.5 1120.5 L1279.5 1122 L1282.5 1114.5 L1282.5 1123.5 L1282.6 1125 L1282.7 1110 L1285.3 1122 L1285.5 1128 L1285.6 1123.5 L1285.6 1114.5 L1288.5 1128 L1288.5 1135.5 L1288.5 1141.5 L1288.5 1117.5 L1291.5 1150.5 L1291.5 1126.5 L1291.5 1141.5 L1291.5 1143 L1294.5 1143 L1294.5 1137 L1294.5 1129.5 L1294.5 1141.5 L1297.5 1132.5 L1297.5 1122 L1297.5 1158 L1297.5 1144.5 L1300.5 1152 L1300.5 1134 L1300.5 1150.5 L1300.5 1152 L1303.5 1152 L1303.5 1141.5 L1303.5 1134 L1303.5 1141.5 L1306.5 1128 L1306.5 1132.5 L1306.5 1144.5 L1306.5 1138.5 L1309.5 1144.5 L1309.5 1159.5 L1309.5 1155 L1312.5 1147.5 L1312.5 1156.5 L1312.5 1143 L1312.5 1147.5 L1315.5 1155 L1315.5 1141.5 L1315.5 1149 L1315.5 1143 L1318.5 1153.5 L1318.5 1164 L1318.5 1149 L1318.5 1155 L1321.5 1149 L1321.5 1147.5 L1321.5 1165.5 L1324.5 1171.5 L1324.5 1161 L1324.5 1153.5 L1324.5 1162.5 L1327.5 1156.5 L1327.5 1164 L1327.5 1162.5 L1330.5 1165.5 L1330.5 1158 L1330.5 1159.5 L1330.5 1150.5 L1333.5 1159.5 L1333.5 1153.5 L1333.5 1162.5 L1333.5 1158 L1336.5 1165.5 L1336.5 1167 L1336.5 1156.5 L1336.5 1161 L1339.5 1159.5 L1339.5 1171.5 L1339.5 1177.5 L1339.5 1173 L1342.5 1165.5 L1342.5 1177.5 L1342.5 1158 L1342.5 1177.5 L1345.5 1164 L1345.5 1152 L1345.5 1186.5 L1345.5 1180.5 L1348.5 1164 L1348.5 1171.5 L1348.5 1170 L1348.5 1171.5 L1351.5 1162.5 L1351.5 1167 L1351.5 1176 L1351.5 1174.5 L1354.5 1180.5 L1354.5 1174.5 L1354.5 1189.5 L1354.5 1170 L1357.5 1176 L1357.5 1162.5 L1357.5 1167 L1357.5 1183.5 L1360.5 1170 L1360.5 1180.5 L1360.5 1176 L1360.5 1170 L1363.5 1176 L1363.5 1174.5 L1363.5 1176 L1363.5 1183.5 L1366.5 1183.5 L1366.5 1176 L1366.5 1174.5 L1366.5 1182 L1369.5 1180.5 L1369.5 1188 L1369.5 1198.5 L1369.5 1186.5 L1372.5 1182 L1372.5 1177.5 L1375.5 1177.5 L1375.5 1182 L1375.5 1189.5 L1378.5 1182 L1378.5 1183.5 L1378.5 1177.5 L1378.5 1197 L1381.5 1189.5 L1381.5 1198.5 L1381.5 1192.5 L1381.5 1197 L1384.5 1186.5 L1384.5 1192.5 L1384.5 1206 L1384.5 1182 L1387.5 1197 L1387.5 1200 L1387.5 1192.5 L1387.5 1195.5 L1390.5 1198.5 L1390.5 1186.5 L1390.5 1194 L1390.5 1186.5 L1393.5 1188 L1393.5 1189.5 L1393.5 1192.5 L1393.5 1194 L1396.5 1197 L1396.5 1185 L1396.5 1207.5 L1396.5 1203 L1399.5 1200 L1399.5 1192.5 L1399.5 1195.5 L1399.5 1200 L1402.5 1198.5 L1402.5 1186.5 L1402.5 1201.5 L1402.5 1216.5 L1405.5 1185 L1405.5 1204.5 L1405.5 1200 L1405.5 1197 L1408.5 1207.5 L1408.5 1191 L1408.5 1200 L1408.5 1209 L1411.5 1198.5 L1411.5 1197 L1411.5 1200 L1411.5 1197 L1414.5 1210.5 L1414.5 1195.5 L1414.5 1206 L1414.5 1192.5 L1417.5 1206 L1417.5 1201.5 L1417.5 1185 L1417.5 1201.5 L1420.5 1195.5 L1420.5 1200 L1420.5 1212 L1420.5 1195.5 L1423.5 1195.5 L1423.5 1212 L1423.5 1203 L1423.5 1213.5 L1426.5 1206 L1426.5 1197 L1426.5 1203 L1426.5 1212 L1429.5 1209 L1429.5 1204.5 L1429.5 1203 L1432.5 1200 L1432.5 1216.5 L1432.5 1204.5 L1432.5 1197 L1435.5 1201.5 L1435.5 1209 L1435.5 1204.5 L1438.5 1200 L1438.5 1204.5 L1438.5 1194 L1438.5 1197 L1441.5 1210.5 L1441.5 1201.5 L1441.5 1207.5 L1441.5 1213.5 L1444.5 1209 L1444.5 1206 L1444.5 1219.5 L1444.5 1210.5 L1447.5 1203 L1447.5 1210.5 L1447.5 1209 L1447.5 1200 L1450.5 1206 L1450.5 1204.5 L1450.5 1194 L1450.5 1206 L1453.5 1204.5 L1453.5 1195.5 L1453.5 1204.5 L1456.5 1206 L1456.5 1207.5 L1456.5 1200 L1456.5 1210.5 L1459.5 1200 L1459.5 1206 L1459.5 1215 L1459.5 1203 L1462.5 1204.5 L1462.5 1215 L1462.5 1204.5 L1462.5 1206 L1465.5 1209 L1465.5 1215 L1465.5 1194 L1465.5 1203 L1468.5 1201.5 L1468.5 1203 L1471.5 1210.5 L1471.5 1203 L1471.5 1209 L1471.5 1210.5 L1474.5 1204.5 L1474.5 1209 L1474.5 1219.5 L1474.5 1210.5 L1477.5 1204.5 L1477.5 1209 L1477.5 1203 L1477.5 1210.5 L1480.5 1215 L1480.5 1204.5 L1480.5 1207.5 L1480.5 1216.5 L1483.5 1206 L1483.5 1210.5 L1483.5 1203 L1483.5 1204.5 L1486.5 1206 L1486.5 1224 L1486.5 1207.5 L1489.5 1207.5 L1489.5 1209 L1489.5 1215 L1489.5 1212 L1492.5 1224 L1492.5 1212 L1492.5 1219.5 L1492.5 1212 L1495.5 1215 L1495.5 1201.5 L1495.5 1210.5 L1498.5 1210.5 L1498.5 1198.5 L1498.5 1216.5 L1498.5 1209 L1501.5 1209 L1501.5 1210.5 L1501.5 1215 L1504.5 1204.5 L1504.5 1207.5 L1504.5 1215 L1504.5 1213.5 L1507.5 1210.5 L1507.5 1209 L1507.5 1207.5 L1507.5 1213.5 L1510.5 1221 L1510.5 1207.5 L1510.5 1224 L1510.5 1219.5 L1513.5 1212 L1513.5 1219.5 L1513.5 1206 L1513.5 1204.5 L1516.5 1207.5 L1516.5 1212 L1516.5 1213.5 L1516.5 1212 L1519.5 1216.5 L1519.5 1203 L1519.5 1219.5 L1519.5 1207.5 L1522.5 1212 L1522.5 1213.5 L1522.5 1209 L1525.5 1210.5 L1525.5 1218 L1525.5 1221 L1528.5 1212 L1528.5 1213.5 L1528.5 1221 L1531.5 1206 L1531.5 1227 L1531.5 1216.5 L1531.5 1215 L1534.5 1222.5 L1534.5 1227 L1534.5 1222.5 L1534.5 1227 L1537.5 1222.5 L1537.5 1228.5 L1537.5 1221 L1540.5 1230 L1540.5 1222.5 L1540.5 1216.5 L1543.5 1221 L1543.5 1228.5 L1543.5 1215 L1543.5 1227 L1546.5 1225.5 L1546.5 1210.5 L1546.5 1224 L1549.5 1228.5 L1549.5 1221 L1549.5 1225.5 L1549.5 1210.5 L1552.5 1230 L1552.5 1222.5 L1552.5 1231.5 L1552.5 1215 L1555.5 1231.5 L1555.5 1225.5 L1555.5 1231.5 L1555.5 1222.5 L1558.5 1224 L1558.5 1242 L1558.5 1222.5 L1558.5 1224 L1561.5 1227 L1561.5 1222.5 L1561.5 1236 L1561.5 1239 L1564.5 1225.5 L1564.5 1219.5 L1564.5 1237.5 L1564.5 1236 L1567.5 1234.5 L1567.5 1237.5 L1567.5 1225.5 L1567.5 1230 L1570.5 1222.5 L1570.5 1237.5 L1570.5 1227 L1573.5 1245 L1573.5 1231.5 L1573.5 1227 L1573.5 1236 L1576.5 1243.5 L1576.5 1234.5 L1576.5 1225.5 L1576.5 1234.5 L1579.5 1240.5 L1579.5 1230 L1579.5 1228.5 L1579.5 1239 L1582.5 1234.5 L1582.5 1227 L1582.5 1231.5 L1582.5 1228.5 L1585.5 1236 L1585.5 1234.5 L1585.5 1240.5 L1585.5 1239 L1588.5 1224 L1588.5 1237.5 L1588.5 1240.5 L1588.5 1237.5 L1591.5 1240.5 L1591.5 1231.5 L1591.5 1230 L1591.5 1240.5 L1594.5 1228.5 L1594.5 1222.5 L1594.5 1242 L1594.5 1231.5 L1597.5 1234.5 L1597.5 1228.5 L1597.5 1230 L1600.5 1234.5 L1600.5 1239 L1600.5 1224 L1600.5 1242 L1603.5 1230 L1603.5 1231.5 L1603.5 1242 L1603.5 1237.5 L1606.5 1228.5 L1606.5 1249.5 L1606.5 1233 L1606.5 1240.5 L1609.5 1239 L1609.5 1246.5 L1609.5 1236 L1609.5 1245 L1612.5 1234.5 L1612.5 1245 L1612.5 1234.5 L1612.5 1237.5 L1615.5 1251 L1615.5 1240.5 L1615.5 1252.5 L1618.5 1242 L1618.5 1234.5 L1618.5 1243.5 L1618.5 1233 L1621.5 1246.5 L1621.5 1236 L1624.5 1240.5 L1624.5 1234.5 L1624.5 1243.5 L1627.5 1228.5 L1627.5 1237.5 L1627.5 1239 L1630.5 1242 L1630.5 1233 L1630.5 1243.5 L1630.5 1239 L1633.5 1237.5 L1633.5 1233 L1633.5 1234.5 L1633.5 1243.5 L1636.5 1236 L1636.5 1242 L1636.5 1248 L1639.5 1251 L1639.5 1240.5 L1639.5 1236 L1639.5 1248 L1642.5 1245 L1642.5 1249.5 L1642.5 1243.5 L1642.5 1251 L1645.5 1248 L1645.5 1246.5 L1648.5 1245 L1648.5 1251 L1648.5 1242 L1651.5 1255.5 L1651.5 1243.5 L1651.5 1251 L1651.5 1245 L1654.5 1243.5 L1654.5 1257 L1654.5 1243.5 L1654.5 1237.5 L1657.5 1242 L1657.5 1243.5 L1657.5 1258.5 L1657.5 1246.5 L1660.5 1251 L1660.5 1240.5 L1660.5 1248 L1660.5 1251 L1663.5 1257 L1663.5 1242 L1663.5 1249.5 L1663.5 1248 L1666.5 1240.5 L1666.5 1246.5 L1666.5 1245 L1666.5 1233 L1669.5 1251 L1669.5 1245 L1669.5 1239 L1672.5 1255.5 L1672.5 1249.5 L1672.5 1254 L1672.5 1255.5 L1675.5 1245 L1675.5 1252.5 L1675.5 1246.5 L1678.5 1246.5 L1678.5 1248 L1678.5 1254 L1678.5 1248 L1681.5 1246.5 L1681.5 1249.5 L1681.5 1242 L1684.5 1245 L1684.5 1248 L1684.5 1243.5 L1684.5 1246.5 L1687.5 1243.5 L1687.5 1260 L1687.5 1255.5 L1687.5 1251 L1690.5 1248 L1690.5 1260 L1690.5 1249.5 L1690.5 1246.5 L1693.5 1249.5 L1693.5 1255.5 L1693.5 1248 L1696.5 1260 L1696.5 1242 L1696.5 1251 L1696.5 1242 L1699.5 1258.5 L1699.5 1245 L1699.5 1248 L1699.5 1252.5 L1702.5 1255.5 L1702.5 1240.5 L1702.5 1245 L1702.5 1239 L1705.5 1248 L1705.5 1246.5 L1705.5 1243.5 L1708.5 1245 L1708.5 1243.5 L1708.5 1251 L1708.5 1257 L1711.5 1237.5 L1711.5 1248 L1711.5 1246.5 L1711.5 1251 L1714.5 1243.5 L1714.5 1248 L1714.5 1243.5 L1714.5 1252.5 L1717.5 1249.5 L1717.5 1248 L1717.5 1251 L1717.5 1248 L1720.5 1240.5 L1720.5 1252.5 L1720.5 1251 L1720.5 1249.5 L1723.5 1255.5 L1723.5 1257 L1723.5 1243.5 L1723.5 1245 L1726.5 1260 L1726.5 1258.5 L1726.5 1246.5 L1726.5 1243.5 L1729.5 1246.5 L1729.5 1248 L1729.5 1240.5 L1729.5 1251 L1732.5 1243.5 L1732.5 1257 L1732.5 1246.5 L1735.5 1251 L1735.5 1255.5 L1735.5 1249.5 L1738.5 1251 L1738.5 1246.5 L1738.5 1261.5 L1738.5 1255.5 L1741.5 1245 L1741.5 1251 L1741.5 1255.5 L1741.5 1254 L1744.5 1263 L1744.5 1260 L1744.5 1249.5 L1744.5 1251 L1747.5 1245 L1747.5 1254 L1747.5 1252.5 L1747.5 1269 L1750.5 1252.5 L1750.5 1240.5 L1750.5 1248 L1750.5 1254 L1753.5 1245 L1753.5 1248 L1753.5 1251 L1753.5 1255.5 L1756.5 1252.5 L1756.5 1248 L1756.5 1258.5 L1756.5 1249.5 L1759.5 1251 L1759.5 1245 L1759.5 1249.5 L1759.5 1257 L1762.5 1243.5 L1762.5 1254 L1762.5 1258.5 L1762.5 1251 L1765.5 1255.5 L1765.5 1248 L1765.5 1261.5 L1765.5 1260 L1768.5 1255.5 L1768.5 1243.5 L1768.5 1248 L1768.5 1260 L1771.5 1264.5 L1771.5 1257 L1771.5 1261.5 L1771.5 1251 L1774.5 1254 L1774.5 1255.5 L1774.5 1257 L1774.5 1246.5 L1777.5 1260 L1777.5 1263 L1777.5 1248 L1780.5 1257 L1780.5 1251 L1780.5 1242 L1780.5 1260 L1783.5 1257 L1783.5 1252.5 L1783.5 1267.5 L1783.5 1257 L1786.5 1251 L1786.5 1257 L1786.5 1249.5 L1786.5 1251 L1789.5 1258.5 L1789.5 1252.5 L1789.5 1254 L1789.5 1266 L1792.5 1261.5 L1792.5 1260 L1795.5 1266 L1795.5 1257 L1795.5 1269 L1795.5 1252.5 L1798.5 1257 L1798.5 1249.5 L1798.5 1257 L1798.5 1261.5 L1801.5 1267.5 L1801.5 1255.5 L1801.5 1260 L1801.5 1257 L1804.5 1255.5 L1804.5 1254 L1804.5 1261.5 L1804.5 1251 L1807.5 1261.5 L1807.5 1258.5 L1807.5 1255.5 L1810.5 1254 L1810.5 1273.5 L1810.5 1255.5 L1810.5 1272 L1813.5 1266 L1813.5 1261.5 L1813.5 1257 L1813.5 1269 L1816.5 1273.5 L1816.5 1258.5 L1816.5 1263 L1816.5 1270.5 L1819.5 1266 L1819.5 1276.5 L1819.5 1261.5 L1819.5 1267.5 L1822.5 1258.5 L1822.5 1278 L1822.5 1261.5 L1822.5 1252.5 L1825.5 1264.5 L1825.5 1276.5 L1825.5 1264.5 L1828.5 1266 L1828.5 1270.5 L1828.5 1275 L1828.5 1266 L1831.5 1273.5 L1831.5 1270.5 L1831.5 1266 L1831.5 1267.5 L1834.5 1267.5 L1834.5 1261.5 L1834.5 1275 L1834.5 1260 L1837.5 1275 L1837.5 1273.5 L1837.5 1267.5 L1837.5 1264.5 L1840.5 1267.5 L1840.5 1272 L1840.5 1273.5 L1840.5 1270.5 L1843.5 1275 L1843.5 1266 L1843.5 1272 L1843.5 1261.5 L1846.5 1275 L1846.5 1272 L1846.5 1269 L1846.5 1278 L1849.5 1275 L1849.5 1255.5 L1849.5 1272 L1849.5 1264.5 L1852.5 1278 L1852.5 1287 L1852.5 1270.5 L1852.5 1273.5 L1855.5 1272 L1855.5 1275 L1855.5 1278 L1855.5 1281 L1858.5 1269 L1858.5 1284 L1858.5 1269 L1858.5 1276.5 L1861.5 1281 L1861.5 1279.5 L1861.5 1270.5 L1861.5 1272 L1864.5 1273.5 L1864.5 1275 L1864.5 1282.5 L1864.5 1269 L1867.5 1279.5 L1870.5 1285.5 L1870.5 1279.5 L1870.5 1282.5 L1870.5 1281 L1873.5 1287 L1873.5 1266 L1873.5 1285.5 L1873.5 1276.5 L1876.5 1276.5 L1876.5 1272 L1876.5 1267.5 L1876.5 1276.5 L1879.5 1275 L1879.5 1281 L1879.5 1270.5 L1879.5 1287 L1882.5 1281 L1882.5 1278 L1882.5 1275 L1885.5 1273.5 L1885.5 1276.5 L1885.5 1281 L1885.5 1279.5 L1888.5 1272 L1888.5 1279.5 L1888.5 1276.5 L1888.5 1282.5 L1891.5 1293 L1891.5 1285.5 L1891.5 1281 L1891.5 1273.5 L1894.5 1275 L1894.5 1273.5 L1894.5 1287 L1894.5 1279.5 L1897.5 1284 L1897.5 1281 L1897.5 1284 L1897.5 1293 L1900.5 1281 L1900.5 1282.5 L1900.5 1281 L1900.5 1290 L1903.5 1279.5 L1903.5 1278 L1906.5 1288.5 L1906.5 1300.5 L1906.5 1281 L1906.5 1291.5 L1909.5 1288.5 L1909.5 1281 L1909.5 1285.5 L1912.5 1284 L1912.5 1299 L1912.5 1276.5 L1912.5 1290 L1915.5 1290 L1915.5 1285.5 L1915.5 1290 L1915.5 1293 L1918.5 1290 L1918.5 1291.5 L1918.5 1293 L1918.5 1278 L1921.5 1297.5 L1921.5 1302 L1921.5 1294.5 L1921.5 1296 L1924.5 1282.5 L1924.5 1290 L1924.5 1285.5 L1924.5 1287 L1927.5 1296 L1927.5 1285.5 L1927.5 1290 L1927.5 1279.5 L1930.5 1290 L1930.5 1291.5 L1930.5 1287 L1933.5 1302 L1933.5 1285.5 L1933.5 1287 L1936.5 1299 L1936.5 1305 L1936.5 1294.5 L1936.5 1288.5 L1939.5 1290 L1939.5 1299 L1939.5 1288.5 L1939.5 1302 L1942.5 1302 L1942.5 1294.5 L1942.5 1297.5 L1945.5 1303.5 L1945.5 1288.5 L1945.5 1300.5 L1945.5 1293 L1948.5 1290 L1948.5 1296 L1948.5 1294.5 L1948.5 1290 L1951.5 1287 L1951.5 1290 L1951.5 1303.5 L1951.5 1306.5 L1954.5 1299 L1954.5 1303.5 L1954.5 1293 L1954.5 1296 L1957.5 1299 L1957.5 1291.5 L1957.5 1297.5 L1960.5 1296 L1960.5 1291.5 L1960.5 1300.5 L1960.5 1297.5 L1963.5 1305 L1963.5 1299 L1963.5 1297.5 L1963.5 1300.5 L1966.5 1299 L1966.5 1296 L1966.5 1297.5 L1966.5 1305 L1969.5 1303.5 L1969.5 1308 L1969.5 1291.5 L1969.5 1299 L1972.5 1299 L1972.5 1302 L1972.5 1299 L1975.5 1306.5 L1975.5 1303.5 L1975.5 1296 L1975.5 1311 L1978.5 1309.5 L1978.5 1300.5 L1978.5 1308 L1978.5 1300.5 L1981.5 1311"/>
<path class="c" stroke="#c6c6c6" stroke-width="2.7" d="M253.8 1381.5 L254.4 1381.5 L255.6 1378.5 L256.2 1374 L257 1371 L257.7 1368 L258.6 1366.5 L259.3 1362 L259.8 1362 L260.2 1354.5 L262 1359 L262.4 1353 L262.7 1353 L263 1350 L265.2 1347 L265.4 1347 L265.6 1347 L265.8 1342.5 L268.3 1341 L268.4 1341 L268.6 1336.5 L268.7 1333.5 L271.3 1336.5 L271.5 1333.5 L271.6 1329 L271.8 1329 L274.3 1329 L274.4 1326 L274.6 1323 L274.8 1324.5 L277.2 1326 L277.4 1321.5 L277.7 1318.5 L277.9 1318.5 L280.2 1318.5 L280.4 1314 L280.7 1314 L280.9 1314 L283.2 1309.5 L283.4 1306.5 L283.7 1306.5 L283.9 1305 L286.2 1305 L286.4 1297.5 L286.7 1297.5 L286.9 1296 L289.2 1291.5 L289.4 1294.5 L289.7 1293 L290 1288.5 L292.1 1293 L292.4 1288.5 L292.7 1287 L293.1 1284 L295 1284 L295.4 1275 L295.8 1278 L296.2 1276.5 L297.9 1267.5 L298.3 1272 L298.8 1267.5 L299.3 1267.5 L300.8 1261.5 L301.3 1260 L301.9 1260 L302.5 1252.5 L303.7 1255.5 L304.3 1249.5 L305 1249.5 L305.7 1242 L306.5 1245 L307.2 1240.5 L308 1234.5 L308.8 1234.5 L309.5 1233 L310.2 1231.5 L311 1215 L311.8 1221 L312.5 1215 L313.2 1209 L314 1201.5 L314.8 1206 L315.5 1192.5 L316.2 1194 L317 1192.5 L317.8 1176 L318.5 1174.5 L319.2 1164 L320 1164 L320.8 1161 L321.5 1156.5 L322.2 1131 L323 1126.5 L323.8 1125 L324.5 1120.5 L325.2 1105.5 L326 1092 L326.8 1090.5 L327.5 1081.5 L328.2 1074 L329 1065 L329.8 1065 L330.5 1059 L331.2 1051.5 L332 1045.5 L332.8 1035 L333.5 1035 L334.2 1039.5 L335 1026 L335.8 1015.5 L336.5 1026 L337.2 1017 L338 1020 L338.8 1005 L339.5 997.5 L340.2 987 L341 997.5 L341.8 1000.5 L342.5 976.5 L343.2 973.5 L344 975 L344.8 963 L345.5 961.5 L346.2 957 L347 957 L347.8 957 L348.5 946.5 L349.2 948 L350 936 L350.8 936 L351.5 916.5 L352.2 915 L353 924 L353.8 910.5 L354.5 913.5 L355.2 907.5 L356 906 L356.8 898.5 L357.5 892.5 L358.2 879 L359 868.5 L359.8 861 L360.5 855 L361.2 843 L362 838.5 L362.8 832.5 L363.5 826.5 L364.2 814.5 L365 795 L365.8 799.5 L366.5 792 L367.2 790.5 L368 780 L368.8 763.5 L369.5 754.5 L370.2 766.5 L371 750 L371.8 751.5 L372.5 745.5 L373.2 717 L374 720 L374.8 712.5 L375.5 706.5 L376.2 700.5 L377 690 L377.8 684 L378.5 664.5 L379.2 669 L380 660 L380.8 661.5 L381.5 652.5 L382.2 657 L383 655.5 L383.6 649.5 L384.8 646.5 L385.4 642 L385.7 636 L386 636 L388.1 631.5 L388.4 637.5 L388.6 633 L388.7 634.5 L391.5 619.5 L391.5 636 L391.5 621 L394.5 625.5 L394.5 622.5 L394.5 630 L394.5 624 L397.3 621 L397.4 624 L397.8 643.5 L398.3 636 L399.7 628.5 L400.3 640.5 L401 631.5 L401.8 661.5 L402.5 640.5 L403.2 660 L404 666 L404.8 657 L405.5 676.5 L406.2 687 L407 688.5 L407.8 693 L408.5 703.5 L409.2 703.5 L410 711 L410.8 714 L411.5 726 L412.2 721.5 L413 741 L413.8 739.5 L414.5 742.5 L415.2 760.5 L416 777 L416.8 780 L417.5 777 L418.2 792 L419 790.5 L419.8 798 L420.5 805.5 L421.2 795 L422 819 L422.8 816 L423.5 823.5 L424.2 825 L425 831 L425.8 840 L426.5 858 L427.2 870 L428 865.5 L428.8 879 L429.5 876 L430.2 873 L431 892.5 L431.8 900 L432.5 901.5 L433.2 912 L434 919.5 L434.8 916.5 L435.5 918 L436.2 931.5 L437 937.5 L437.8 942 L438.5 955.5 L439.2 964.5 L440 957 L440.8 969 L441.5 975 L442.2 978 L443 985.5 L443.8 981 L444.5 991.5 L445.2 1003.5 L446 1002 L446.8 997.5 L447.5 1009.5 L448.2 1017 L449 1017 L449.8 1015.5 L450.5 1032 L451.2 1021.5 L452 1035 L452.8 1038 L453.5 1036.5 L454.2 1053 L455 1053 L455.8 1050 L456.5 1063.5 L457.2 1063.5 L458 1060.5 L458.8 1069.5 L459.5 1078.5 L460.2 1084.5 L461 1086 L461.8 1089 L462.5 1093.5 L463.2 1093.5 L464 1104 L464.7 1101 L465.6 1105.5 L466.3 1108.5 L466.9 1104 L467.3 1108.5 L469 1120.5 L469.4 1117.5 L469.7 1116 L469.8 1120.5 L472.3 1119 L472.5 1123.5 L472.5 1120.5 L472.6 1126.5 L475.5 1119 L475.5 1132.5 L475.5 1126.5 L475.5 1122 L478.5 1129.5 L478.5 1132.5 L478.5 1128 L481.5 1135.5 L481.5 1152 L481.5 1129.5 L481.5 1138.5 L484.5 1135.5 L484.5 1138.5 L484.5 1131 L484.5 1134 L487.5 1141.5 L487.5 1140 L487.5 1149 L487.5 1138.5 L490.5 1141.5 L490.5 1153.5 L490.5 1137 L490.5 1135.5 L493.5 1140 L493.5 1138.5 L493.5 1143 L493.5 1138.5 L496.5 1134 L496.5 1138.5 L496.5 1149 L496.5 1141.5 L499.5 1122 L499.5 1132.5 L499.5 1129.5 L499.5 1135.5 L502.5 1131 L502.5 1140 L502.5 1134 L502.5 1132.5 L505.5 1129.5 L505.5 1126.5 L505.5 1128 L505.5 1131 L508.4 1126.5 L508.5 1120.5 L508.6 1126.5 L508.8 1120.5 L511.1 1117.5 L511.4 1111.5 L511.8 1110 L512.5 1107 L513.5 1093.5 L514.2 1110 L515 1104 L515.8 1098 L516.5 1101 L517.3 1095 L518 1092 L518.6 1074 L519.6 1083 L520.3 1084.5 L520.9 1087.5 L521.6 1086 L522.6 1080 L523.3 1063.5 L524 1056 L524.8 1066.5 L525.5 1060.5 L526.2 1062 L527 1053 L527.8 1051.5 L528.5 1038 L529.2 1045.5 L530 1036.5 L530.8 1036.5 L531.5 1033.5 L532.2 1026 L533 1026 L533.8 1020 L534.5 1020 L535.2 1015.5 L536 1005 L536.8 1000.5 L537.5 1011 L538.2 996 L539 999 L539.8 993 L540.5 984 L541.2 979.5 L542 981 L542.6 979.5 L543.7 979.5 L544.3 964.5 L544.9 966 L545.4 967.5 L546.8 975 L547.3 948 L547.9 963 L548.4 954 L549.7 958.5 L550.3 949.5 L550.9 952.5 L551.5 957 L552.7 946.5 L553.3 945 L553.9 942 L554.5 931.5 L555.7 937.5 L556.3 930 L556.9 924 L557.4 925.5 L558.8 922.5 L559.3 927 L559.8 919.5 L560.2 913.5 L562.1 924 L562.4 919.5 L562.6 919.5 L562.6 913.5 L565.5 909 L565.5 906 L565.5 913.5 L568.5 907.5 L568.5 897 L568.5 906 L568.5 897 L571.5 909 L571.5 900 L571.5 901.5 L571.5 910.5 L574.5 910.5 L574.5 901.5 L574.5 918 L574.5 928.5 L577.5 906 L577.5 928.5 L577.5 913.5 L577.5 915 L580.5 919.5 L580.5 912 L580.5 931.5 L580.6 927 L583.4 919.5 L583.5 924 L583.5 918 L583.6 927 L586.4 936 L586.5 919.5 L586.6 930 L586.7 936 L589.3 942 L589.5 946.5 L589.6 936 L589.7 936 L592.3 945 L592.4 940.5 L592.6 942 L592.8 954 L595.3 958.5 L595.4 951 L595.6 949.5 L595.8 957 L598.2 942 L598.4 955.5 L598.7 951 L598.9 975 L601.1 966 L601.4 964.5 L601.7 963 L601.9 951 L604.3 973.5 L604.5 979.5 L604.5 966 L604.5 976.5 L607.5 978 L607.5 964.5 L607.5 981 L607.5 984 L610.5 978 L610.5 976.5 L610.5 982.5 L610.5 967.5 L613.5 979.5 L613.5 985.5 L613.5 970.5 L613.5 985.5 L616.5 976.5 L616.5 964.5 L616.5 978 L616.5 972 L619.5 979.5 L619.5 969 L619.5 982.5 L619.5 970.5 L622.5 976.5 L622.5 970.5 L622.6 979.5 L625.4 972 L625.4 966 L625.7 958.5 L626 973.5 L628 969 L628.4 958.5 L628.8 961.5 L629.3 949.5 L630.8 948 L631.3 946.5 L631.9 952.5 L632.7 948 L633.5 939 L634.2 945 L635 942 L635.8 934.5 L636.5 937.5 L637.2 924 L638 922.5 L638.8 922.5 L639.5 915 L640.2 918 L641 900 L641.8 915 L642.5 895.5 L643.2 895.5 L644 883.5 L644.8 894 L645.5 894 L646.2 889.5 L647 883.5 L647.8 862.5 L648.5 864 L649.2 862.5 L650 855 L650.8 865.5 L651.5 853.5 L652.2 846 L653 846 L653.8 829.5 L654.5 823.5 L655.2 819 L656 823.5 L656.8 817.5 L657.5 813 L658.2 811.5 L659 787.5 L659.8 787.5 L660.5 787.5 L661.2 771 L662 772.5 L662.8 778.5 L663.5 774 L664.2 768 L665 754.5 L665.8 748.5 L666.5 753 L667.2 736.5 L668 738 L668.8 741 L669.5 721.5 L670.2 715.5 L671 714 L671.8 714 L672.5 708 L673.2 700.5 L674 699 L674.8 675 L675.5 676.5 L676.2 679.5 L677 666 L677.8 658.5 L678.5 655.5 L679.2 655.5 L680 658.5 L680.7 648 L681.6 655.5 L682.3 666 L682.9 646.5 L683.3 657 L684.9 646.5 L685.4 631.5 L685.7 637.5 L686 628.5 L688.2 642 L688.4 624 L688.6 643.5 L688.7 636 L691.4 612 L691.5 634.5 L691.5 640.5 L691.5 618 L694.5 633 L694.5 607.5 L694.5 624 L694.5 607.5 L697.5 624 L697.5 603 L697.5 595.5 L697.5 621 L700.5 636 L700.5 610.5 L700.5 621 L700.5 613.5 L703.5 609 L703.5 616.5 L703.5 624 L703.5 598.5 L706.5 612 L706.5 609 L706.5 592.5 L706.5 618 L709.5 621 L709.5 594 L709.5 616.5 L709.5 600 L712.5 597 L712.5 612 L712.5 598.5 L715.5 609 L715.5 606 L715.5 601.5 L715.5 580.5 L718.5 577.5 L718.5 601.5 L718.5 582 L718.5 591 L721.5 579 L721.5 586.5 L721.5 576 L721.5 601.5 L724.5 576 L724.5 583.5 L724.5 582 L724.5 594 L727.5 568.5 L727.5 580.5 L727.6 577.5 L727.7 583.5 L730.3 580.5 L730.4 571.5 L730.6 576 L730.9 568.5 L733.1 574.5 L733.4 567 L733.8 559.5 L734.3 564 L735.8 564 L736.3 579 L736.9 552 L737.5 556.5 L738.7 564 L739.3 529.5 L739.8 529.5 L740.1 532.5 L742.2 540 L742.4 562.5 L742.6 541.5 L742.6 549 L745.5 534 L745.5 511.5 L745.5 513 L745.5 541.5 L748.5 534 L748.5 519 L748.5 540 L748.5 514.5 L751.5 538.5 L751.5 541.5 L751.5 519 L751.5 516 L754.5 532.5 L754.5 514.5 L754.5 532.5 L754.5 511.5 L757.5 529.5 L757.5 523.5 L757.5 517.5 L757.5 513 L760.5 523.5 L760.5 502.5 L760.5 517.5 L760.5 516 L763.5 526.5 L763.5 508.5 L763.5 537 L763.5 517.5 L766.5 511.5 L766.5 535.5 L766.5 538.5 L766.5 522 L769.5 516 L769.5 525 L769.5 519 L769.5 523.5 L772.5 541.5 L772.5 532.5 L772.5 531 L772.5 534 L775.5 531 L775.5 540 L775.5 541.5 L775.5 531 L778.5 537 L778.5 559.5 L778.5 541.5 L778.6 537 L781.4 559.5 L781.5 541.5 L781.6 532.5 L781.7 550.5 L784.3 537 L784.5 543 L784.6 552 L784.7 549 L787.3 544.5 L787.5 549 L787.6 549 L787.7 567 L790.3 550.5 L790.5 553.5 L790.6 579 L790.7 556.5 L793.3 577.5 L793.4 577.5 L793.6 565.5 L793.8 555 L796.3 574.5 L796.4 577.5 L796.6 582 L796.8 574.5 L799.3 586.5 L799.5 591 L799.6 568.5 L799.7 594 L802.3 583.5 L802.5 577.5 L802.6 582 L802.7 603 L805.4 597 L805.5 573 L805.6 591 L805.7 591 L808.4 591 L808.5 589.5 L808.5 582 L808.6 604.5 L811.5 589.5 L811.5 595.5 L811.5 594 L814.5 609 L814.5 606 L814.5 597 L814.5 595.5 L817.5 601.5 L817.5 615 L817.5 607.5 L817.5 609 L820.5 604.5 L820.5 606 L820.5 610.5 L820.5 592.5 L823.5 624 L823.5 603 L823.5 604.5 L823.5 622.5 L826.5 613.5 L826.5 612 L826.5 606 L826.5 597 L829.5 613.5 L829.5 622.5 L829.5 603 L829.5 624 L832.5 600 L832.5 603 L832.5 615 L832.5 609 L835.5 615 L835.5 601.5 L835.5 598.5 L835.5 591 L838.5 597 L838.5 594 L838.5 609 L841.5 600 L841.5 586.5 L841.5 628.5 L841.5 597 L844.5 592.5 L844.5 615 L844.5 613.5 L844.5 592.5 L847.5 588 L847.5 592.5 L847.5 610.5 L847.5 597 L850.5 591 L850.5 598.5 L850.5 609 L850.5 583.5 L853.5 592.5 L853.5 583.5 L853.5 615 L853.5 610.5 L856.5 603 L856.5 591 L856.5 598.5 L856.5 571.5 L859.5 592.5 L859.5 576 L859.5 580.5 L862.5 583.5 L862.5 591 L862.5 586.5 L865.5 573 L865.5 588 L865.5 579 L865.5 591 L868.5 570 L868.5 552 L868.5 571.5 L868.5 595.5 L871.5 579 L871.5 571.5 L871.5 580.5 L871.5 576 L874.5 574.5 L874.5 564 L874.5 568.5 L877.5 559.5 L877.5 553.5 L877.6 564 L877.7 571.5 L880.3 567 L880.4 564 L880.6 562.5 L880.8 580.5 L883.2 556.5 L883.4 562.5 L883.7 570 L883.9 549 L886.2 550.5 L886.4 555 L886.7 559.5 L886.9 544.5 L889.2 544.5 L889.4 540 L889.7 525 L889.9 546 L892.2 531 L892.4 514.5 L892.7 528 L893 511.5 L895.1 516 L895.4 525 L895.6 514.5 L895.6 532.5 L898.5 505.5 L898.5 522 L898.5 523.5 L898.5 532.5 L901.5 528 L901.5 520.5 L901.5 519 L904.5 531 L904.5 513 L904.5 525 L904.5 520.5 L907.5 523.5 L907.5 519 L907.5 543 L907.5 517.5 L910.5 526.5 L910.5 531 L913.5 531 L913.5 537 L913.5 513 L913.5 529.5 L916.5 517.5 L916.5 534 L916.5 520.5 L916.5 523.5 L919.5 534 L919.5 549 L919.5 543 L919.5 541.5 L922.5 552 L922.5 531 L922.5 522 L922.5 538.5 L925.5 540 L925.5 556.5 L925.5 565.5 L925.5 532.5 L928.5 570 L928.5 561 L928.5 553.5 L928.5 549 L931.5 568.5 L931.5 547.5 L931.5 541.5 L931.5 547.5 L934.5 532.5 L934.5 550.5 L934.5 544.5 L934.5 549 L937.5 549 L937.5 535.5 L937.5 558 L937.5 535.5 L940.5 553.5 L940.5 531 L940.5 549 L940.5 537 L943.5 546 L943.5 538.5 L943.5 523.5 L943.5 532.5 L946.5 543 L946.5 547.5 L946.6 526.5 L946.8 519 L949.2 529.5 L949.4 534 L949.7 528 L950.1 523.5 L952 538.5 L952.4 537 L952.8 532.5 L953.4 514.5 L954.7 520.5 L955.3 516 L956 501 L956.8 519 L957.5 508.5 L958.2 499.5 L959 513 L959.8 502.5 L960.5 499.5 L961.2 499.5 L962 490.5 L962.8 466.5 L963.5 472.5 L964.2 481.5 L965 460.5 L965.8 465 L966.5 465 L967.2 471 L968 466.5 L968.8 459 L969.5 444 L970.2 451.5 L971 442.5 L971.8 432 L972.5 442.5 L973.2 429 L974 411 L974.8 427.5 L975.5 406.5 L976.2 409.5 L977 384 L977.8 393 L978.5 379.5 L979.2 373.5 L980 358.5 L980.8 396 L981.5 367.5 L982.2 366 L983 370.5 L983.8 352.5 L984.5 354 L985.2 328.5 L986 340.5 L986.8 328.5 L987.5 333 L988.2 325.5 L989 303 L989.8 294 L990.5 297 L991.2 310.5 L992 303 L992.8 297 L993.5 267 L994.2 255 L995 271.5 L995.8 270 L996.5 261 L997.2 267 L998 255 L998.8 240 L999.5 237 L1000.2 243 L1001 237 L1001.8 231 L1002.5 250.5 L1003.2 219 L1004 219 L1004.8 202.5 L1005.5 205.5 L1006.2 211.5 L1007 207 L1007.8 196.5 L1008.5 199.5 L1009.2 192 L1010 168 L1010.7 148.5 L1011.6 207 L1012.3 189 L1012.9 175.5 L1013.4 154.5 L1014.8 157.5 L1015.3 184.5 L1015.8 136.5 L1016 162 L1018.3 172.5 L1018.5 163.5 L1018.5 169.5 L1018.5 160.5 L1021.5 187.5 L1021.5 151.5 L1021.6 148.5 L1022.1 169.5 L1023.8 183 L1024.3 169.5 L1025 184.5 L1025.8 171 L1026.5 166.5 L1027.2 198 L1028 204 L1028.8 208.5 L1029.5 192 L1030.2 189 L1031 195 L1031.8 211.5 L1032.5 226.5 L1033.2 232.5 L1034 217.5 L1034.8 240 L1035.5 244.5 L1036.2 250.5 L1037 255 L1037.8 259.5 L1038.5 274.5 L1039.2 276 L1040 282 L1040.8 279 L1041.5 297 L1042.2 298.5 L1043 283.5 L1043.8 318 L1044.5 316.5 L1045.2 336 L1046 331.5 L1046.8 339 L1047.5 351 L1048.2 357 L1049 360 L1049.8 355.5 L1050.5 402 L1051.2 376.5 L1052 399 L1052.8 418.5 L1053.5 424.5 L1054.2 435 L1055 447 L1055.8 460.5 L1056.5 459 L1057.2 493.5 L1058 465 L1058.8 487.5 L1059.5 493.5 L1060.2 502.5 L1061 522 L1061.8 544.5 L1062.5 535.5 L1063.2 546 L1064 570 L1064.8 579 L1065.5 601.5 L1066.2 603 L1067 604.5 L1067.8 609 L1068.5 624 L1069.2 630 L1070 628.5 L1070.8 651 L1071.5 658.5 L1072.2 667.5 L1073 673.5 L1073.8 702 L1074.5 700.5 L1075.2 711 L1076 705 L1076.8 708 L1077.5 720 L1078.2 730.5 L1079 730.5 L1079.8 736.5 L1080.5 751.5 L1081.2 751.5 L1082 744 L1082.8 753 L1083.5 756 L1084.2 766.5 L1085 760.5 L1085.8 772.5 L1086.5 783 L1087.2 781.5 L1088 777 L1088.8 783 L1089.5 793.5 L1090.2 799.5 L1091 807 L1091.8 802.5 L1092.5 796.5 L1093.2 822 L1094 817.5 L1094.8 822 L1095.5 825 L1096.2 817.5 L1097 826.5 L1097.8 835.5 L1098.5 844.5 L1099.2 841.5 L1100 819 L1100.8 846 L1101.5 853.5 L1102.2 865.5 L1103 864 L1103.8 880.5 L1104.5 876 L1105.3 877.5 L1106 877.5 L1106.6 861 L1107.7 882 L1108.3 882 L1108.9 876 L1109.4 888 L1110.8 889.5 L1111.3 883.5 L1111.8 889.5 L1112.3 891 L1113.9 897 L1114.4 894 L1114.8 903 L1115.1 886.5 L1117 901.5 L1117.4 892.5 L1117.7 903 L1118 913.5 L1120.2 910.5 L1120.4 912 L1120.6 915 L1120.8 928.5 L1123.3 909 L1123.4 925.5 L1123.6 909 L1123.8 918 L1126.3 925.5 L1126.4 918 L1126.6 928.5 L1126.8 934.5 L1129.2 921 L1129.4 931.5 L1129.7 930 L1129.9 919.5 L1132.2 936 L1132.4 933 L1132.7 951 L1133 936 L1135.1 957 L1135.4 942 L1135.7 963 L1136 954 L1138.1 955.5 L1138.4 960 L1138.7 961.5 L1138.9 967.5 L1141.2 972 L1141.4 957 L1141.6 952.5 L1141.8 943.5 L1144.2 963 L1144.4 972 L1144.6 972 L1144.8 970.5 L1147.3 969 L1147.5 967.5 L1147.6 972 L1147.7 979.5 L1150.3 964.5 L1150.5 984 L1150.6 969 L1150.7 981 L1153.3 978 L1153.5 982.5 L1153.6 978 L1153.7 979.5 L1156.3 987 L1156.5 982.5 L1156.6 1011 L1156.8 990 L1159.3 990 L1159.4 993 L1159.6 990 L1159.8 981 L1162.3 999 L1162.4 1005 L1162.6 993 L1162.8 1005 L1165.3 999 L1165.4 1008 L1165.6 1012.5 L1165.8 1015.5 L1168.3 1017 L1168.4 1009.5 L1168.6 1023 L1168.8 1014 L1171.3 1021.5 L1171.4 1026 L1171.6 1020 L1171.8 1014 L1174.3 1030.5 L1174.4 1018.5 L1174.6 1023 L1174.8 1023 L1177.3 1038 L1177.4 1032 L1177.6 1018.5 L1177.8 1042.5 L1180.3 1053 L1180.4 1053 L1180.6 1036.5 L1180.8 1042.5 L1183.3 1048.5 L1183.5 1051.5 L1183.6 1047 L1183.7 1041 L1186.3 1056 L1186.5 1056 L1186.6 1044 L1186.7 1051.5 L1189.4 1057.5 L1189.5 1057.5 L1189.5 1062 L1189.6 1065 L1192.4 1065 L1192.5 1060.5 L1192.5 1053 L1192.6 1069.5 L1195.5 1075.5 L1195.5 1081.5 L1195.5 1068 L1195.5 1069.5 L1198.5 1080 L1198.5 1081.5 L1198.5 1075.5 L1198.5 1078.5 L1201.5 1069.5 L1201.5 1080 L1201.5 1071 L1201.5 1077 L1204.5 1078.5 L1204.5 1077 L1204.5 1066.5 L1204.5 1077 L1207.5 1086 L1207.5 1084.5 L1207.5 1083 L1207.5 1090.5 L1210.5 1092 L1210.5 1095 L1210.5 1084.5 L1210.5 1090.5 L1213.5 1090.5 L1213.5 1087.5 L1213.5 1084.5 L1213.5 1095 L1216.5 1090.5 L1216.5 1111.5 L1216.5 1098 L1219.5 1098 L1219.5 1114.5 L1219.5 1095 L1219.5 1102.5 L1222.5 1098 L1222.5 1104 L1222.5 1105.5 L1222.5 1114.5 L1225.5 1098 L1225.5 1108.5 L1225.5 1120.5 L1225.5 1107 L1228.5 1110 L1228.5 1105.5 L1228.5 1095 L1228.5 1113 L1231.5 1123.5 L1231.5 1113 L1231.5 1104 L1231.5 1119 L1234.5 1119 L1234.5 1126.5 L1234.5 1119 L1237.5 1125 L1237.5 1111.5 L1237.5 1131 L1237.5 1126.5 L1240.5 1132.5 L1240.5 1134 L1240.5 1125 L1240.5 1128 L1243.5 1123.5 L1243.5 1116 L1243.5 1129.5 L1243.5 1132.5 L1246.5 1125 L1246.5 1138.5 L1246.5 1135.5 L1246.5 1138.5 L1249.5 1131 L1249.5 1125 L1249.5 1141.5 L1252.5 1137 L1252.5 1135.5 L1252.5 1137 L1252.5 1138.5 L1255.5 1137 L1255.5 1128 L1255.5 1147.5 L1255.5 1132.5 L1258.5 1140 L1258.5 1141.5 L1258.5 1146 L1258.5 1134 L1261.5 1152 L1261.5 1149 L1261.5 1150.5 L1261.5 1153.5 L1264.5 1141.5 L1264.5 1126.5 L1264.5 1149 L1264.5 1156.5 L1267.5 1156.5 L1267.5 1144.5 L1267.5 1149 L1267.5 1152 L1270.5 1138.5 L1270.5 1146 L1270.5 1147.5 L1270.5 1162.5 L1273.5 1147.5 L1273.5 1164 L1273.5 1153.5 L1273.5 1143 L1276.5 1170 L1276.5 1149 L1276.5 1161 L1276.5 1168.5 L1279.5 1153.5 L1279.5 1150.5 L1279.5 1165.5 L1279.5 1159.5 L1282.5 1152 L1282.5 1153.5 L1282.5 1159.5 L1282.5 1168.5 L1285.5 1161 L1285.5 1168.5 L1285.5 1176 L1285.5 1174.5 L1288.5 1176 L1288.5 1174.5 L1288.5 1158 L1288.5 1176 L1291.5 1171.5 L1291.5 1168.5 L1291.5 1164 L1291.5 1161 L1294.5 1164 L1294.5 1171.5 L1294.5 1165.5 L1294.5 1168.5 L1297.5 1170 L1297.5 1179 L1297.5 1173 L1297.5 1174.5 L1300.5 1185 L1300.5 1174.5 L1300.5 1182 L1300.5 1171.5 L1303.5 1180.5 L1303.5 1177.5 L1306.5 1174.5 L1306.5 1179 L1306.5 1189.5 L1309.5 1189.5 L1309.5 1176 L1309.5 1188 L1309.5 1182 L1312.5 1188 L1312.5 1182 L1312.5 1177.5 L1312.5 1192.5 L1315.5 1189.5 L1315.5 1180.5 L1315.5 1176 L1315.5 1185 L1318.5 1182 L1318.5 1186.5 L1318.5 1194 L1318.5 1200 L1321.5 1188 L1321.5 1200 L1321.5 1198.5 L1321.5 1189.5 L1324.5 1182 L1324.5 1198.5 L1324.5 1197 L1324.5 1207.5 L1327.5 1203 L1327.5 1198.5 L1327.5 1204.5 L1327.5 1188 L1330.5 1195.5 L1330.5 1194 L1330.5 1206 L1330.5 1200 L1333.5 1177.5 L1333.5 1204.5 L1333.5 1191 L1333.5 1201.5 L1336.5 1194 L1336.5 1198.5 L1336.5 1201.5 L1336.5 1200 L1339.5 1192.5 L1339.5 1207.5 L1339.5 1201.5 L1339.5 1200 L1342.5 1204.5 L1342.5 1197 L1342.5 1212 L1342.5 1201.5 L1345.5 1203 L1345.5 1195.5 L1345.5 1194 L1348.5 1203 L1348.5 1204.5 L1348.5 1210.5 L1348.5 1206 L1351.5 1197 L1351.5 1206 L1351.5 1209 L1351.5 1210.5 L1354.5 1206 L1354.5 1197 L1354.5 1212 L1354.5 1200 L1357.5 1209 L1357.5 1195.5 L1357.5 1210.5 L1357.5 1201.5 L1360.5 1213.5 L1360.5 1218 L1360.5 1213.5 L1360.5 1200 L1363.5 1201.5 L1363.5 1212 L1363.5 1210.5 L1366.5 1209 L1366.5 1210.5 L1366.5 1212 L1366.5 1213.5 L1369.5 1219.5 L1369.5 1209 L1369.5 1210.5 L1369.5 1198.5 L1372.5 1201.5 L1372.5 1206 L1372.5 1203 L1372.5 1212 L1375.5 1218 L1375.5 1209 L1378.5 1213.5 L1378.5 1209 L1378.5 1215 L1381.5 1215 L1381.5 1218 L1381.5 1213.5 L1381.5 1215 L1384.5 1225.5 L1384.5 1213.5 L1384.5 1219.5 L1384.5 1215 L1387.5 1212 L1387.5 1210.5 L1387.5 1216.5 L1390.5 1212 L1390.5 1213.5 L1390.5 1224 L1390.5 1216.5 L1393.5 1224 L1393.5 1219.5 L1393.5 1222.5 L1393.5 1213.5 L1396.5 1219.5 L1396.5 1234.5 L1396.5 1224 L1399.5 1219.5 L1399.5 1224 L1399.5 1212 L1399.5 1213.5 L1402.5 1222.5 L1402.5 1225.5 L1402.5 1218 L1402.5 1219.5 L1405.5 1218 L1405.5 1219.5 L1405.5 1213.5 L1405.5 1212 L1408.5 1221 L1408.5 1210.5 L1408.5 1215 L1408.5 1218 L1411.5 1215 L1411.5 1224 L1411.5 1219.5 L1411.5 1222.5 L1414.5 1216.5 L1414.5 1218 L1414.5 1225.5 L1417.5 1221 L1417.5 1225.5 L1417.5 1224 L1420.5 1233 L1420.5 1221 L1420.5 1227 L1423.5 1222.5 L1423.5 1218 L1423.5 1228.5 L1423.5 1227 L1426.5 1225.5 L1426.5 1219.5 L1429.5 1227 L1429.5 1215 L1429.5 1225.5 L1429.5 1216.5 L1432.5 1224 L1432.5 1230 L1432.5 1225.5 L1432.5 1224 L1435.5 1230 L1435.5 1225.5 L1435.5 1224 L1438.5 1236 L1438.5 1231.5 L1438.5 1230 L1438.5 1219.5 L1441.5 1231.5 L1441.5 1219.5 L1441.5 1230 L1441.5 1221 L1444.5 1239 L1444.5 1218 L1444.5 1236 L1444.5 1233 L1447.5 1216.5 L1447.5 1227 L1447.5 1237.5 L1447.5 1234.5 L1450.5 1218 L1450.5 1225.5 L1450.5 1221 L1450.5 1222.5 L1453.5 1224 L1453.5 1240.5 L1453.5 1230 L1453.5 1227 L1456.5 1227 L1456.5 1233 L1456.5 1224 L1459.5 1237.5 L1459.5 1222.5 L1459.5 1227 L1459.5 1231.5 L1462.5 1239 L1462.5 1227 L1462.5 1231.5 L1462.5 1237.5 L1465.5 1233 L1465.5 1236 L1465.5 1231.5 L1468.5 1233 L1468.5 1234.5 L1468.5 1230 L1468.5 1239 L1471.5 1218 L1471.5 1224 L1471.5 1239 L1471.5 1231.5 L1474.5 1225.5 L1474.5 1231.5 L1474.5 1236 L1474.5 1227 L1477.5 1234.5 L1477.5 1228.5 L1477.5 1230 L1480.5 1236 L1480.5 1222.5 L1480.5 1228.5 L1480.5 1234.5 L1483.5 1222.5 L1483.5 1221 L1483.5 1233 L1483.5 1230 L1486.5 1230 L1486.5 1231.5 L1486.5 1224 L1486.5 1248 L1489.5 1225.5 L1489.5 1228.5 L1489.5 1222.5 L1489.5 1228.5 L1492.5 1240.5 L1492.5 1231.5 L1492.5 1234.5 L1492.5 1228.5 L1495.5 1242 L1495.5 1233 L1495.5 1224 L1495.5 1236 L1498.5 1230 L1498.5 1236 L1498.5 1233 L1498.5 1234.5 L1501.5 1233 L1501.5 1227 L1501.5 1224 L1501.5 1239 L1504.5 1233 L1504.5 1234.5 L1504.5 1230 L1504.5 1221 L1507.5 1225.5 L1507.5 1242 L1507.5 1230 L1507.5 1231.5 L1510.5 1225.5 L1510.5 1231.5 L1510.5 1233 L1513.5 1234.5 L1513.5 1231.5 L1513.5 1236 L1516.5 1237.5 L1516.5 1236 L1516.5 1246.5 L1516.5 1237.5 L1519.5 1237.5 L1519.5 1233 L1519.5 1243.5 L1519.5 1231.5 L1522.5 1228.5 L1522.5 1231.5 L1522.5 1242 L1522.5 1231.5 L1525.5 1246.5 L1525.5 1239 L1525.5 1230 L1525.5 1237.5 L1528.5 1249.5 L1528.5 1234.5 L1528.5 1231.5 L1528.5 1242 L1531.5 1248 L1531.5 1246.5 L1531.5 1237.5 L1531.5 1242 L1534.5 1242 L1534.5 1248 L1534.5 1254 L1534.5 1240.5 L1537.5 1249.5 L1537.5 1239 L1537.5 1245 L1537.5 1236 L1540.5 1237.5 L1540.5 1245 L1540.5 1237.5 L1540.5 1248 L1543.5 1239 L1543.5 1243.5 L1543.5 1242 L1543.5 1240.5 L1546.5 1243.5 L1546.5 1249.5 L1546.5 1263 L1546.5 1237.5 L1549.5 1246.5 L1549.5 1243.5 L1549.5 1239 L1549.5 1246.5 L1552.5 1240.5 L1552.5 1245 L1552.5 1252.5 L1552.5 1234.5 L1555.5 1248 L1555.5 1249.5 L1555.5 1240.5 L1555.5 1251 L1558.5 1249.5 L1558.5 1245 L1558.5 1255.5 L1558.5 1240.5 L1561.5 1252.5 L1561.5 1248 L1561.5 1243.5 L1561.5 1248 L1564.5 1248 L1564.5 1254 L1564.5 1240.5 L1564.5 1249.5 L1567.5 1248 L1567.5 1260 L1567.5 1243.5 L1567.5 1257 L1570.5 1240.5 L1570.5 1254 L1570.5 1251 L1570.5 1254 L1573.5 1248 L1573.5 1240.5 L1573.5 1243.5 L1573.5 1260 L1576.5 1254 L1576.5 1248 L1576.5 1258.5 L1576.5 1248 L1579.5 1248 L1579.5 1246.5 L1579.5 1260 L1579.5 1264.5 L1582.5 1248 L1582.5 1255.5 L1582.5 1260 L1582.5 1266 L1585.5 1239 L1585.5 1254 L1585.5 1257 L1585.5 1245 L1588.5 1257 L1588.5 1255.5 L1588.5 1258.5 L1588.5 1251 L1591.5 1257 L1591.5 1251 L1591.5 1258.5 L1591.5 1255.5 L1594.5 1252.5 L1594.5 1246.5 L1594.5 1264.5 L1594.5 1261.5 L1597.5 1260 L1597.5 1251 L1597.5 1252.5 L1597.5 1264.5 L1600.5 1260 L1600.5 1251 L1600.5 1255.5 L1600.5 1257 L1603.5 1254 L1603.5 1249.5 L1603.5 1263 L1603.5 1260 L1606.5 1254 L1606.5 1246.5 L1606.5 1252.5 L1606.5 1255.5 L1609.5 1261.5 L1609.5 1254 L1609.5 1263 L1609.5 1257 L1612.5 1252.5 L1612.5 1240.5 L1612.5 1249.5 L1612.5 1248 L1615.5 1255.5 L1615.5 1258.5 L1615.5 1264.5 L1615.5 1257 L1618.5 1251 L1618.5 1270.5 L1618.5 1260 L1618.5 1255.5 L1621.5 1255.5 L1621.5 1249.5 L1621.5 1261.5 L1621.5 1260 L1624.5 1267.5 L1624.5 1264.5 L1624.5 1263 L1624.5 1266 L1627.5 1257 L1627.5 1255.5 L1627.5 1258.5 L1627.5 1251 L1630.5 1257 L1630.5 1263 L1630.5 1258.5 L1633.5 1248 L1633.5 1258.5 L1633.5 1267.5 L1633.5 1248 L1636.5 1254 L1636.5 1258.5 L1636.5 1251 L1636.5 1255.5 L1639.5 1258.5 L1639.5 1251 L1639.5 1260 L1639.5 1261.5 L1642.5 1251 L1642.5 1258.5 L1642.5 1266 L1642.5 1258.5 L1645.5 1261.5 L1645.5 1263 L1645.5 1257 L1645.5 1264.5 L1648.5 1261.5 L1648.5 1254 L1648.5 1261.5 L1648.5 1264.5 L1651.5 1264.5 L1651.5 1255.5 L1651.5 1261.5 L1651.5 1267.5 L1654.5 1260 L1654.5 1266 L1654.5 1267.5 L1654.5 1258.5 L1657.5 1263 L1657.5 1257 L1657.5 1266 L1657.5 1258.5 L1660.5 1257 L1660.5 1260 L1660.5 1261.5 L1663.5 1263 L1663.5 1252.5 L1663.5 1255.5 L1663.5 1261.5 L1666.5 1263 L1666.5 1260 L1666.5 1275 L1666.5 1267.5 L1669.5 1260 L1669.5 1264.5 L1669.5 1269 L1669.5 1263 L1672.5 1251 L1672.5 1261.5 L1672.5 1273.5 L1675.5 1251 L1675.5 1270.5 L1675.5 1260 L1675.5 1266 L1678.5 1260 L1678.5 1263 L1678.5 1267.5 L1678.5 1261.5 L1681.5 1267.5 L1681.5 1261.5 L1681.5 1260 L1684.5 1258.5 L1684.5 1261.5 L1684.5 1270.5 L1684.5 1255.5 L1687.5 1252.5 L1687.5 1261.5 L1687.5 1272 L1687.5 1269 L1690.5 1270.5 L1690.5 1258.5 L1690.5 1263 L1693.5 1248 L1693.5 1260 L1693.5 1266 L1693.5 1254 L1696.5 1251 L1696.5 1255.5 L1696.5 1264.5 L1696.5 1270.5 L1699.5 1278 L1699.5 1272 L1699.5 1255.5 L1699.5 1251 L1702.5 1264.5 L1702.5 1270.5 L1702.5 1255.5 L1702.5 1261.5 L1705.5 1261.5 L1705.5 1264.5 L1705.5 1267.5 L1708.5 1272 L1708.5 1266 L1708.5 1270.5 L1708.5 1278 L1711.5 1260 L1711.5 1269 L1711.5 1278 L1714.5 1267.5 L1714.5 1273.5 L1714.5 1266 L1714.5 1272 L1717.5 1264.5 L1717.5 1272 L1717.5 1270.5 L1720.5 1276.5 L1720.5 1275 L1720.5 1264.5 L1720.5 1273.5 L1723.5 1258.5 L1723.5 1275 L1723.5 1285.5 L1723.5 1272 L1726.5 1272 L1726.5 1269 L1726.5 1273.5 L1726.5 1266 L1729.5 1273.5 L1729.5 1267.5 L1729.5 1270.5 L1732.5 1269 L1732.5 1260 L1732.5 1282.5 L1732.5 1270.5 L1735.5 1260 L1735.5 1276.5 L1735.5 1270.5 L1735.5 1272 L1738.5 1275 L1738.5 1264.5 L1738.5 1254 L1738.5 1270.5 L1741.5 1272 L1741.5 1276.5 L1741.5 1266 L1741.5 1269 L1744.5 1273.5 L1744.5 1269 L1744.5 1272 L1747.5 1266 L1747.5 1281 L1747.5 1266 L1747.5 1272 L1750.5 1270.5 L1750.5 1267.5 L1750.5 1275 L1750.5 1278 L1753.5 1281 L1753.5 1276.5 L1753.5 1270.5 L1753.5 1278 L1756.5 1264.5 L1756.5 1273.5 L1756.5 1276.5 L1759.5 1267.5 L1759.5 1264.5 L1759.5 1284 L1759.5 1270.5 L1762.5 1264.5 L1762.5 1267.5 L1762.5 1275 L1762.5 1281 L1765.5 1275 L1765.5 1282.5 L1765.5 1276.5 L1765.5 1278 L1768.5 1281 L1768.5 1273.5 L1768.5 1278 L1768.5 1273.5 L1771.5 1272 L1771.5 1279.5 L1771.5 1270.5 L1771.5 1276.5 L1774.5 1272 L1774.5 1275 L1774.5 1273.5 L1774.5 1282.5 L1777.5 1276.5 L1777.5 1285.5 L1777.5 1260 L1780.5 1270.5 L1780.5 1261.5 L1780.5 1276.5 L1780.5 1279.5 L1783.5 1281 L1783.5 1278 L1783.5 1272 L1783.5 1287 L1786.5 1278 L1786.5 1275 L1786.5 1270.5 L1786.5 1279.5 L1789.5 1275 L1789.5 1278 L1792.5 1273.5 L1792.5 1285.5 L1792.5 1272 L1795.5 1279.5 L1795.5 1278 L1795.5 1276.5 L1798.5 1278 L1798.5 1275 L1798.5 1269 L1798.5 1282.5 L1801.5 1273.5 L1801.5 1278 L1801.5 1284 L1801.5 1279.5 L1804.5 1296 L1804.5 1272 L1804.5 1275 L1804.5 1281 L1807.5 1288.5 L1807.5 1279.5 L1807.5 1272 L1807.5 1287 L1810.5 1275 L1810.5 1279.5 L1810.5 1287 L1810.5 1278 L1813.5 1279.5 L1813.5 1284 L1813.5 1281 L1813.5 1284 L1816.5 1276.5 L1816.5 1281 L1816.5 1276.5 L1816.5 1273.5 L1819.5 1293 L1819.5 1285.5 L1819.5 1288.5 L1819.5 1278 L1822.5 1282.5 L1822.5 1275 L1822.5 1287 L1825.5 1279.5 L1825.5 1282.5 L1825.5 1275 L1825.5 1290 L1828.5 1288.5 L1828.5 1287 L1828.5 1279.5 L1828.5 1281 L1831.5 1291.5 L1831.5 1284 L1831.5 1287 L1831.5 1285.5 L1834.5 1279.5 L1834.5 1294.5 L1834.5 1275 L1834.5 1287 L1837.5 1285.5 L1837.5 1276.5 L1837.5 1288.5 L1837.5 1290 L1840.5 1287 L1840.5 1282.5 L1840.5 1290 L1840.5 1294.5 L1843.5 1290 L1843.5 1297.5 L1843.5 1293 L1846.5 1297.5 L1846.5 1285.5 L1846.5 1287 L1846.5 1293 L1849.5 1293 L1849.5 1299 L1849.5 1297.5 L1849.5 1293 L1852.5 1293 L1852.5 1291.5 L1852.5 1290 L1855.5 1299 L1855.5 1291.5 L1855.5 1296 L1858.5 1291.5 L1858.5 1293 L1858.5 1282.5 L1858.5 1297.5 L1861.5 1294.5 L1861.5 1297.5 L1861.5 1299 L1861.5 1285.5 L1864.5 1311 L1864.5 1297.5 L1864.5 1299 L1864.5 1287 L1867.5 1302 L1867.5 1300.5 L1867.5 1296 L1867.5 1300.5 L1870.5 1306.5 L1870.5 1297.5 L1870.5 1294.5 L1870.5 1308 L1873.5 1302 L1873.5 1299 L1873.5 1314 L1873.5 1302 L1876.5 1300.5 L1876.5 1302 L1876.5 1299 L1876.5 1303.5 L1879.5 1302 L1879.5 1299 L1879.5 1300.5 L1879.5 1303.5 L1882.5 1305 L1882.5 1306.5 L1882.5 1308 L1882.5 1305 L1885.5 1306.5 L1885.5 1302 L1885.5 1309.5 L1888.5 1293 L1888.5 1306.5 L1888.5 1323 L1888.5 1294.5 L1891.5 1314 L1891.5 1296 L1891.5 1308 L1891.5 1315.5 L1894.5 1314 L1894.5 1302 L1894.5 1299 L1897.5 1311 L1897.5 1305 L1897.5 1308 L1897.5 1309.5 L1900.5 1311 L1900.5 1309.5 L1900.5 1300.5 L1903.5 1317 L1903.5 1294.5 L1903.5 1315.5 L1903.5 1306.5 L1906.5 1308 L1906.5 1306.5 L1906.5 1308 L1906.5 1309.5 L1909.5 1308 L1909.5 1303.5 L1909.5 1314 L1909.5 1306.5 L1912.5 1317 L1912.5 1309.5 L1912.5 1306.5 L1912.5 1312.5 L1915.5 1315.5 L1915.5 1305 L1915.5 1309.5 L1915.5 1318.5 L1918.5 1305 L1918.5 1306.5 L1918.5 1312.5 L1918.5 1305 L1921.5 1297.5 L1921.5 1302 L1921.5 1312.5 L1921.5 1315.5 L1924.5 1314 L1924.5 1305 L1924.5 1315.5 L1927.5 1318.5 L1927.5 1308 L1927.5 1317 L1927.5 1309.5 L1930.5 1312.5 L1930.5 1314 L1930.5 1303.5 L1930.5 1320 L1933.5 1308 L1933.5 1311 L1933.5 1309.5 L1933.5 1315.5 L1936.5 1315.5 L1936.5 1312.5 L1936.5 1320 L1936.5 1314 L1939.5 1311 L1939.5 1297.5 L1939.5 1311 L1942.5 1308 L1942.5 1317 L1942.5 1318.5 L1945.5 1324.5 L1945.5 1320 L1945.5 1309.5 L1945.5 1315.5 L1948.5 1306.5 L1948.5 1318.5 L1948.5 1315.5 L1948.5 1311 L1951.5 1314 L1951.5 1312.5 L1951.5 1311 L1951.5 1321.5 L1954.5 1332 L1954.5 1318.5 L1954.5 1320 L1954.5 1315.5 L1957.5 1312.5 L1957.5 1326 L1957.5 1312.5 L1957.5 1317 L1960.5 1314 L1960.5 1318.5 L1960.5 1314 L1960.5 1318.5 L1963.5 1308 L1963.5 1314 L1963.5 1323 L1963.5 1309.5 L1966.5 1312.5 L1966.5 1323 L1966.5 1318.5 L1966.5 1321.5 L1969.5 1303.5 L1969.5 1317 L1969.5 1309.5 L1969.5 1308 L1972.5 1318.5 L1972.5 1323 L1972.5 1308 L1972.5 1311 L1975.5 1312.5 L1975.5 1315.5 L1975.5 1309.5 L1975.5 1329 L1978.5 1320 L1978.5 1315.5 L1978.5 1314 L1978.5 1330.5 L1981.5 1329"/>
</g>
<g stroke="#000" fill="none">
<rect x="252.8" y="23.8" width="1730.7" height="1380.2" stroke-width="5.8" stroke-linejoin="round"/>
<line x1="234.6" y1="124.8" x2="252.8" y2="124.8" stroke-width="5.0"/>
<line x1="234.6" y1="373.5" x2="252.8" y2="373.5" stroke-width="5.0"/>
<line x1="234.6" y1="622.9" x2="252.8" y2="622.9" stroke-width="5.0"/>
<line x1="236.4" y1="879.1" x2="252.8" y2="879.1" stroke-width="5.0"/>
<line x1="234.6" y1="1132.2" x2="252.8" y2="1132.2" stroke-width="5.0"/>
<line x1="232.2" y1="1386.3" x2="252.8" y2="1386.3" stroke-width="5.6"/>
<line x1="471.1" y1="1404.0" x2="471.1" y2="1421.8" stroke-width="5.0"/>
<line x1="899.3" y1="1404.0" x2="899.3" y2="1421.8" stroke-width="5.0"/>
<line x1="1330.8" y1="1404.0" x2="1330.8" y2="1421.8" stroke-width="5.0"/>
<line x1="1760.4" y1="1404.0" x2="1760.4" y2="1421.8" stroke-width="5.0"/>
</g>
<g fill="#000">
<text transform="translate(141.97 150.48) scale(0.9326 1)" font-size="61.98" fill="#000" stroke="#fff" stroke-width="0.5">1.0</text>
<text transform="translate(140.84 396.88) scale(0.9464 1)" font-size="62.26" fill="#000" stroke="#fff" stroke-width="0.5">0.8</text>
<text transform="translate(144.42 644.87) scale(0.9476 1)" font-size="62.83" fill="#000" stroke="#fff" stroke-width="0.5">0.6</text>
<text transform="translate(140.82 901.28) scale(0.9651 1)" font-size="61.70" fill="#000" stroke="#fff" stroke-width="0.5">0.4</text>
<text transform="translate(140.84 1155.17) scale(0.9399 1)" font-size="62.69" fill="#000" stroke="#fff" stroke-width="0.5">0.2</text>
<text transform="translate(141.06 1407.88) scale(0.9434 1)" font-size="61.98" fill="#000" stroke="#fff" stroke-width="0.5">0.0</text>
<text transform="translate(437.44 1475.49) scale(0.9371 1)" font-size="60.71" fill="#000" stroke="#fff" stroke-width="0.5">10</text>
<text transform="translate(867.66 1475.49) scale(0.9690 1)" font-size="60.71" fill="#000" stroke="#fff" stroke-width="0.5">20</text>
<text transform="translate(1302.69 1475.49) scale(0.9470 1)" font-size="60.71" fill="#000" stroke="#fff" stroke-width="0.5">30</text>
<text transform="translate(1732.41 1475.49) scale(0.9836 1)" font-size="60.71" fill="#000" stroke="#fff" stroke-width="0.5">40</text>
<text transform="translate(962.91 1549.60) scale(0.9738 1)" font-size="73.78" fill="#000">2 theta [°]</text>
<text transform="translate(83.90 1128.02) rotate(-90) scale(0.9748 1)" font-size="74.13">Normalized Intensity [a.u]</text>
</g>
<line x1="1276.4" y1="189.1" x2="1394" y2="189.1" stroke="#000000" stroke-width="3.2"/>
<text transform="translate(1424.44 211.20) scale(0.9889 1)" font-size="61.46" fill="#000">BG</text>
<line x1="1276.4" y1="276.8" x2="1394" y2="276.8" stroke="#454545" stroke-width="3.0"/>
<text transform="translate(1424.61 292.40) scale(0.9422 1)" font-size="62.33" fill="#000">BG 2% CNC</text>
<line x1="1276.4" y1="365.1" x2="1394" y2="365.1" stroke="#868686" stroke-width="2.8"/>
<text transform="translate(1427.61 384.90) scale(0.9419 1)" font-size="62.33" fill="#000">BG 6% CNC</text>
<line x1="1276.4" y1="452.9" x2="1394" y2="452.9" stroke="#c2c2c2" stroke-width="2.4"/>
<text transform="translate(1427.62 469.40) scale(0.9445 1)" font-size="62.04" fill="#000">BG 10% CNC</text>
</svg></body></html>
